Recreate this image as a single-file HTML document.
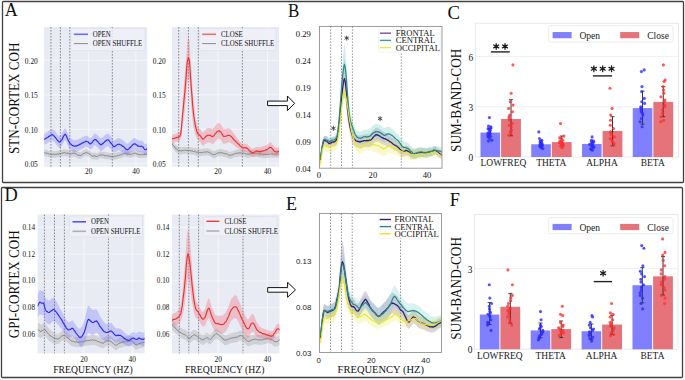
<!DOCTYPE html>
<html><head><meta charset="utf-8"><title>Figure</title>
<style>html,body{margin:0;padding:0;background:#fff;} body{width:685px;height:380px;overflow:hidden;font-family:"Liberation Serif", serif;}</style>
</head><body>
<svg width="685" height="380" viewBox="0 0 685 380" style="display:block">
<rect x="0" y="0" width="685" height="380" fill="#fff"/>
<defs>
<clipPath id="cA1"><rect x="44.1" y="27" width="103.20000000000002" height="139.6"/></clipPath>
<clipPath id="cA2"><rect x="172" y="27" width="107" height="139.6"/></clipPath>
<clipPath id="cB"><rect x="319.5" y="26.4" width="122.5" height="141.79999999999998"/></clipPath>
<clipPath id="cD1"><rect x="37.6" y="214.5" width="106.9" height="138.89999999999998"/></clipPath>
<clipPath id="cD2"><rect x="172" y="214.6" width="107.5" height="138.79999999999998"/></clipPath>
<clipPath id="cE"><rect x="319.5" y="213.5" width="122.0" height="139.0"/></clipPath>
</defs>
<rect x="2.5" y="1.5" width="681" height="181" fill="none" stroke="#404040" stroke-width="1.3" rx="1"/>
<rect x="1.5" y="187.5" width="681" height="190" fill="none" stroke="#404040" stroke-width="1.3" rx="1"/>
<text x="4.70" y="15.90" font-size="18.0" text-anchor="start" font-family='"Liberation Serif", serif' fill="#111" >A</text>
<text transform="translate(287.90 17.20) rotate(0) scale(0.94 1)" x="0" y="0" font-size="18.0" text-anchor="start" font-family='"Liberation Serif", serif' fill="#111" >B</text>
<text transform="translate(447.40 18.60) rotate(0) scale(1.03 1)" x="0" y="0" font-size="18.2" text-anchor="start" font-family='"Liberation Serif", serif' fill="#111" >C</text>
<text transform="translate(4.40 201.40) rotate(0) scale(1.02 1)" x="0" y="0" font-size="18.0" text-anchor="start" font-family='"Liberation Serif", serif' fill="#111" >D</text>
<text x="285.90" y="209.70" font-size="18.0" text-anchor="start" font-family='"Liberation Serif", serif' fill="#111" >E</text>
<text x="449.70" y="206.10" font-size="18.2" text-anchor="start" font-family='"Liberation Serif", serif' fill="#111" >F</text>
<rect x="44.1" y="27" width="103.20000000000002" height="139.6" fill="#e9ebf4"/>
<line x1="44.1" y1="163.8" x2="147.3" y2="163.8" stroke="#fff" stroke-opacity="0.75" stroke-width="0.8"/>
<line x1="44.1" y1="129.3" x2="147.3" y2="129.3" stroke="#fff" stroke-opacity="0.75" stroke-width="0.8"/>
<line x1="44.1" y1="94.80000000000003" x2="147.3" y2="94.80000000000003" stroke="#fff" stroke-opacity="0.75" stroke-width="0.8"/>
<line x1="44.1" y1="60.3" x2="147.3" y2="60.3" stroke="#fff" stroke-opacity="0.75" stroke-width="0.8"/>
<line x1="88.69999999999999" y1="27" x2="88.69999999999999" y2="166.6" stroke="#fff" stroke-opacity="0.75" stroke-width="0.8"/>
<line x1="135.89999999999998" y1="27" x2="135.89999999999998" y2="166.6" stroke="#fff" stroke-opacity="0.75" stroke-width="0.8"/>
<line x1="50.94" y1="27" x2="50.94" y2="166.6" stroke="#5c5c5c" stroke-width="0.7" stroke-dasharray="1.6,1.4"/>
<line x1="60.379999999999995" y1="27" x2="60.379999999999995" y2="166.6" stroke="#5c5c5c" stroke-width="0.7" stroke-dasharray="1.6,1.4"/>
<line x1="69.82" y1="27" x2="69.82" y2="166.6" stroke="#5c5c5c" stroke-width="0.7" stroke-dasharray="1.6,1.4"/>
<line x1="112.3" y1="27" x2="112.3" y2="166.6" stroke="#5c5c5c" stroke-width="0.7" stroke-dasharray="1.6,1.4"/>
<polygon points="44.1,149.1 44.5,149.4 44.9,149.4 45.4,149.8 46.0,149.9 46.6,149.7 47.3,149.9 48.0,150.7 48.7,150.4 49.4,150.6 50.1,151.3 50.8,151.0 51.5,151.3 52.1,151.1 52.8,151.2 53.4,150.9 54.1,151.2 54.8,151.3 55.5,151.0 56.2,151.1 56.9,151.0 57.5,150.5 58.2,150.9 58.7,150.7 59.3,150.4 59.8,150.2 60.7,150.6 61.4,150.0 62.0,149.9 62.5,149.8 63.1,149.5 63.9,149.6 64.5,149.3 65.1,149.6 65.7,149.5 66.4,150.0 67.1,150.1 67.9,149.8 68.5,149.9 69.2,150.1 69.8,150.8 70.4,150.5 71.2,150.6 71.9,150.2 72.6,150.1 73.2,149.9 73.9,149.8 74.6,150.0 75.2,150.1 75.8,150.6 76.4,150.8 77.1,151.4 77.8,151.7 78.5,152.1 79.2,152.1 79.9,151.8 80.5,152.2 81.2,152.0 81.8,151.6 82.5,151.0 83.2,150.7 83.9,150.0 84.6,150.1 85.2,149.6 85.9,149.2 86.5,149.0 87.2,149.7 87.9,150.0 88.6,149.8 89.3,150.8 89.9,151.0 90.5,151.3 91.2,151.9 91.8,152.5 92.5,152.8 93.2,152.4 93.8,152.9 94.5,152.6 95.1,153.1 95.8,152.8 96.5,153.2 97.1,153.2 97.6,152.7 98.1,152.9 98.7,152.2 99.3,151.8 99.9,152.0 100.7,151.5 101.6,151.6 102.1,151.8 102.6,151.9 103.2,151.7 103.8,151.7 104.5,152.3 105.1,152.0 105.8,152.6 106.5,152.6 107.2,152.4 107.9,152.6 108.6,152.7 109.2,152.9 109.9,152.9 110.5,153.0 111.1,153.1 111.6,153.4 112.1,153.1 113.0,153.1 113.7,153.3 114.4,152.9 114.9,152.9 115.5,153.3 116.0,152.8 116.6,152.7 117.4,152.2 117.9,152.3 118.5,152.3 119.1,151.7 119.7,151.9 120.4,151.6 121.0,151.0 121.7,151.2 122.3,150.8 123.0,150.8 123.6,150.3 124.2,150.4 124.8,150.3 125.3,149.8 126.1,149.8 126.8,150.3 127.5,150.7 128.1,150.4 128.8,150.8 129.3,151.1 129.9,151.0 130.5,151.1 131.2,151.0 131.9,150.7 132.5,150.6 133.1,150.1 133.8,149.9 134.5,150.1 135.1,149.6 135.7,150.2 136.3,150.5 136.9,150.5 137.5,150.7 138.2,151.3 138.9,151.1 139.7,151.2 140.3,151.4 140.9,151.6 141.6,151.1 142.3,151.2 143.1,151.2 143.8,151.5 144.6,151.1 145.2,151.4 145.9,150.8 146.4,150.9 146.9,151.0 147.3,151.2 147.3,157.8 146.9,157.6 146.4,157.5 145.9,157.4 145.2,158.0 144.6,157.7 143.8,158.1 143.1,157.8 142.3,157.8 141.6,157.7 140.9,158.2 140.3,158.0 139.7,157.8 138.9,157.7 138.2,157.9 137.5,157.3 136.9,157.1 136.3,157.1 135.7,156.8 135.1,156.2 134.5,156.7 133.8,156.5 133.1,156.7 132.5,157.2 131.9,157.3 131.2,157.6 130.5,157.7 129.9,157.6 129.3,157.7 128.8,157.4 128.1,157.0 127.5,157.3 126.8,156.9 126.1,156.4 125.3,156.4 124.8,156.9 124.2,157.0 123.6,156.9 123.0,157.4 122.3,157.4 121.7,157.8 121.0,157.6 120.4,158.2 119.7,158.5 119.1,158.3 118.5,158.9 117.9,158.9 117.4,158.8 116.6,159.3 116.0,159.4 115.5,159.9 114.9,159.5 114.4,159.5 113.7,159.9 113.0,159.7 112.1,159.7 111.6,160.0 111.1,159.7 110.5,159.6 109.9,159.5 109.2,159.5 108.6,159.3 107.9,159.2 107.2,159.0 106.5,159.2 105.8,159.2 105.1,158.6 104.5,158.9 103.8,158.3 103.2,158.3 102.6,158.5 102.1,158.4 101.6,158.2 100.7,158.1 99.9,158.6 99.3,158.4 98.7,158.8 98.1,159.5 97.6,159.3 97.1,159.8 96.5,159.8 95.8,159.4 95.1,159.7 94.5,159.2 93.8,159.5 93.2,159.0 92.5,159.4 91.8,159.1 91.2,158.5 90.5,157.9 89.9,157.6 89.3,157.4 88.6,156.4 87.9,156.6 87.2,156.3 86.5,155.6 85.9,155.8 85.2,156.2 84.6,156.7 83.9,156.6 83.2,157.3 82.5,157.6 81.8,158.2 81.2,158.6 80.5,158.8 79.9,158.4 79.2,158.7 78.5,158.7 77.8,158.3 77.1,158.0 76.4,157.4 75.8,157.2 75.2,156.7 74.6,156.6 73.9,156.4 73.2,156.5 72.6,156.7 71.9,156.8 71.2,157.2 70.4,157.1 69.8,157.4 69.2,156.7 68.5,156.5 67.9,156.4 67.1,156.7 66.4,156.6 65.7,156.1 65.1,156.2 64.5,155.9 63.9,156.2 63.1,156.1 62.5,156.4 62.0,156.5 61.4,156.6 60.7,157.2 59.8,156.8 59.3,157.0 58.7,157.3 58.2,157.5 57.5,157.1 56.9,157.6 56.2,157.7 55.5,157.6 54.8,157.9 54.1,157.8 53.4,157.5 52.8,157.8 52.1,157.7 51.5,157.9 50.8,157.6 50.1,157.9 49.4,157.2 48.7,157.0 48.0,157.3 47.3,156.5 46.6,156.3 46.0,156.5 45.4,156.4 44.9,156.0 44.5,156.0 44.1,155.7" fill="rgba(160,160,160,0.35)" stroke="none" clip-path="url(#cA1)"/>
<polyline points="44.1,152.4 44.5,152.7 44.9,152.7 45.4,153.1 46.0,153.2 46.6,153.0 47.3,153.2 48.0,154.0 48.7,153.7 49.4,153.9 50.1,154.6 50.8,154.3 51.5,154.6 52.1,154.4 52.8,154.5 53.4,154.2 54.1,154.5 54.8,154.6 55.5,154.3 56.2,154.4 56.9,154.3 57.5,153.8 58.2,154.2 58.7,154.0 59.3,153.7 59.8,153.5 60.7,153.9 61.4,153.3 62.0,153.2 62.5,153.1 63.1,152.8 63.9,152.9 64.5,152.6 65.1,152.9 65.7,152.8 66.4,153.3 67.1,153.4 67.9,153.1 68.5,153.2 69.2,153.4 69.8,154.1 70.4,153.8 71.2,153.9 71.9,153.5 72.6,153.4 73.2,153.2 73.9,153.1 74.6,153.3 75.2,153.4 75.8,153.9 76.4,154.1 77.1,154.7 77.8,155.0 78.5,155.4 79.2,155.4 79.9,155.1 80.5,155.5 81.2,155.3 81.8,154.9 82.5,154.3 83.2,154.0 83.9,153.3 84.6,153.4 85.2,152.9 85.9,152.5 86.5,152.3 87.2,153.0 87.9,153.3 88.6,153.1 89.3,154.1 89.9,154.3 90.5,154.6 91.2,155.2 91.8,155.8 92.5,156.1 93.2,155.7 93.8,156.2 94.5,155.9 95.1,156.4 95.8,156.1 96.5,156.5 97.1,156.5 97.6,156.0 98.1,156.2 98.7,155.5 99.3,155.1 99.9,155.3 100.7,154.8 101.6,154.9 102.1,155.1 102.6,155.2 103.2,155.0 103.8,155.0 104.5,155.6 105.1,155.3 105.8,155.9 106.5,155.9 107.2,155.7 107.9,155.9 108.6,156.0 109.2,156.2 109.9,156.2 110.5,156.3 111.1,156.4 111.6,156.7 112.1,156.4 113.0,156.4 113.7,156.6 114.4,156.2 114.9,156.2 115.5,156.6 116.0,156.1 116.6,156.0 117.4,155.5 117.9,155.6 118.5,155.6 119.1,155.0 119.7,155.2 120.4,154.9 121.0,154.3 121.7,154.5 122.3,154.1 123.0,154.1 123.6,153.6 124.2,153.7 124.8,153.6 125.3,153.1 126.1,153.1 126.8,153.6 127.5,154.0 128.1,153.7 128.8,154.1 129.3,154.4 129.9,154.3 130.5,154.4 131.2,154.3 131.9,154.0 132.5,153.9 133.1,153.4 133.8,153.2 134.5,153.4 135.1,152.9 135.7,153.5 136.3,153.8 136.9,153.8 137.5,154.0 138.2,154.6 138.9,154.4 139.7,154.5 140.3,154.7 140.9,154.9 141.6,154.4 142.3,154.5 143.1,154.5 143.8,154.8 144.6,154.4 145.2,154.7 145.9,154.1 146.4,154.2 146.9,154.3 147.3,154.5" fill="none" stroke="#7c7c7c" stroke-width="0.9" stroke-linejoin="round" clip-path="url(#cA1)"/>
<polygon points="44.1,134.1 44.5,133.7 45.1,133.2 45.7,133.0 46.5,132.3 47.2,132.2 47.9,131.8 48.5,131.0 49.1,130.6 49.7,130.4 50.3,129.9 50.9,129.6 51.5,129.1 52.1,128.9 52.8,129.2 53.5,130.0 54.2,130.4 54.9,131.2 55.6,132.0 56.2,132.7 56.8,133.5 57.4,134.7 58.0,135.0 58.6,135.5 59.2,136.3 59.8,136.1 60.4,135.7 61.0,134.7 61.6,134.2 62.2,133.3 62.9,131.6 63.6,130.2 64.4,128.9 65.1,128.3 65.7,128.8 66.3,129.8 66.9,131.3 67.5,132.8 68.1,133.9 68.8,135.5 69.4,136.4 70.1,137.7 71.0,138.0 71.6,139.0 72.3,139.2 73.0,139.7 73.7,139.9 74.4,140.2 75.1,140.1 75.8,139.8 76.5,140.2 77.1,139.7 77.7,139.5 78.4,139.3 79.1,138.9 79.9,138.4 80.5,138.5 81.1,138.0 81.8,137.4 82.5,137.0 83.2,137.0 83.9,136.5 84.6,136.3 85.3,135.8 85.9,135.6 86.5,135.7 87.3,136.1 88.0,136.2 88.7,137.2 89.3,137.9 89.9,138.3 90.6,138.3 91.2,137.5 91.9,137.1 92.5,136.4 93.2,135.0 93.9,134.3 94.6,133.7 95.3,133.6 95.9,133.7 96.5,134.1 97.1,134.9 97.7,135.2 98.3,135.9 98.9,136.7 99.6,137.3 100.2,137.7 100.9,138.4 101.5,138.2 102.2,137.4 102.9,137.2 103.6,136.5 104.3,135.8 105.0,135.1 105.6,134.7 106.3,134.1 106.9,133.7 107.5,133.4 108.3,133.7 109.0,134.2 109.7,135.2 110.4,136.1 111.0,136.8 111.6,137.5 112.1,138.1 112.9,139.3 113.3,140.2 114.1,140.5 114.6,140.1 115.2,140.0 115.9,139.5 116.6,138.9 117.3,138.4 118.0,138.1 118.7,138.2 119.4,138.1 120.0,138.5 120.7,138.7 121.3,139.0 122.0,139.7 122.6,140.2 123.3,140.3 123.9,140.9 124.6,141.5 125.2,142.4 125.8,143.0 126.5,143.2 127.2,143.8 127.9,143.7 128.5,143.1 129.1,142.7 129.8,141.8 130.5,141.4 131.2,140.5 131.9,139.8 132.6,139.1 133.2,138.5 133.8,138.2 134.5,138.1 135.2,138.0 135.9,138.7 136.5,138.9 137.2,139.6 137.8,140.4 138.4,140.3 139.1,140.5 139.8,140.5 140.5,141.0 141.2,140.5 141.8,140.5 142.4,141.2 143.2,141.4 143.8,142.7 144.4,143.5 145.0,144.1 145.9,144.2 146.7,143.5 147.3,143.3 147.3,154.3 146.7,154.5 145.9,155.2 145.0,155.3 144.4,154.7 143.8,153.9 143.2,152.6 142.4,152.4 141.8,151.8 141.2,151.8 140.5,152.3 139.8,151.9 139.1,151.9 138.4,151.8 137.8,151.9 137.2,151.1 136.5,150.5 135.9,150.3 135.2,149.6 134.5,149.7 133.8,149.9 133.2,150.2 132.6,150.8 131.9,151.6 131.2,152.3 130.5,153.3 129.8,153.7 129.1,154.6 128.5,155.1 127.9,155.7 127.2,155.8 126.5,155.2 125.8,155.1 125.2,154.5 124.6,153.7 123.9,153.1 123.3,152.4 122.6,152.4 122.0,151.9 121.3,151.3 120.7,151.0 120.0,150.8 119.4,150.4 118.7,150.5 118.0,150.5 117.3,150.8 116.6,151.3 115.9,151.9 115.2,152.5 114.6,152.6 114.1,153.0 113.3,152.7 112.9,151.8 112.1,150.7 111.6,150.0 111.0,149.4 110.4,148.8 109.7,147.8 109.0,146.8 108.3,146.4 107.5,146.2 106.9,146.4 106.3,146.9 105.6,147.5 105.0,148.0 104.3,148.6 103.6,149.3 102.9,150.1 102.2,150.4 101.5,151.2 100.9,151.4 100.2,150.7 99.6,150.2 98.9,149.5 98.3,148.6 97.7,147.7 97.1,147.3 96.5,146.4 95.9,145.9 95.3,145.6 94.6,145.6 93.9,146.0 93.2,146.6 92.5,147.9 91.9,148.5 91.2,148.7 90.6,149.5 89.9,149.3 89.3,149.0 88.7,148.3 88.0,147.3 87.3,147.2 86.5,146.9 85.9,146.8 85.3,147.1 84.6,147.7 83.9,147.9 83.2,148.5 82.5,148.5 81.8,149.0 81.1,149.6 80.5,150.1 79.9,150.1 79.1,150.6 78.4,151.1 77.7,151.3 77.1,151.5 76.5,152.1 75.8,151.8 75.1,152.1 74.4,152.2 73.7,151.9 73.0,151.7 72.3,151.2 71.6,151.0 71.0,150.0 70.1,149.7 69.4,148.4 68.8,147.5 68.1,145.9 67.5,144.8 66.9,143.3 66.3,141.8 65.7,140.8 65.1,140.3 64.4,140.9 63.6,142.2 62.9,143.5 62.2,145.2 61.6,146.0 61.0,146.5 60.4,147.5 59.8,147.9 59.2,148.0 58.6,147.2 58.0,146.6 57.4,146.3 56.8,145.1 56.2,144.2 55.6,143.5 54.9,142.7 54.2,141.9 53.5,141.5 52.8,140.6 52.1,140.3 51.5,140.4 50.9,140.9 50.3,141.2 49.7,141.7 49.1,141.8 48.5,142.2 47.9,143.0 47.2,143.4 46.5,143.5 45.7,144.1 45.1,144.3 44.5,144.7 44.1,145.1" fill="rgba(105,105,255,0.29)" stroke="none" clip-path="url(#cA1)"/>
<polyline points="44.1,139.6 44.5,139.2 45.1,138.8 45.7,138.6 46.5,137.9 47.2,137.8 47.9,137.4 48.5,136.6 49.1,136.2 49.7,136.1 50.3,135.5 50.9,135.3 51.5,134.8 52.1,134.6 52.8,134.9 53.5,135.7 54.2,136.1 54.9,137.0 55.6,137.8 56.2,138.5 56.8,139.3 57.4,140.5 58.0,140.8 58.6,141.3 59.2,142.2 59.8,142.0 60.4,141.6 61.0,140.6 61.6,140.1 62.2,139.3 62.9,137.5 63.6,136.2 64.4,134.9 65.1,134.3 65.7,134.8 66.3,135.8 66.9,137.3 67.5,138.8 68.1,139.9 68.8,141.5 69.4,142.4 70.1,143.7 71.0,144.0 71.6,145.0 72.3,145.2 73.0,145.7 73.7,145.9 74.4,146.2 75.1,146.1 75.8,145.8 76.5,146.2 77.1,145.6 77.7,145.4 78.4,145.2 79.1,144.7 79.9,144.2 80.5,144.3 81.1,143.8 81.8,143.2 82.5,142.8 83.2,142.8 83.9,142.2 84.6,142.0 85.3,141.5 85.9,141.2 86.5,141.3 87.3,141.7 88.0,141.7 88.7,142.7 89.3,143.4 89.9,143.8 90.6,143.9 91.2,143.1 91.9,142.8 92.5,142.1 93.2,140.8 93.9,140.2 94.6,139.6 95.3,139.6 95.9,139.8 96.5,140.3 97.1,141.1 97.7,141.4 98.3,142.3 98.9,143.1 99.6,143.7 100.2,144.2 100.9,144.9 101.5,144.7 102.2,143.9 102.9,143.6 103.6,142.9 104.3,142.2 105.0,141.5 105.6,141.1 106.3,140.5 106.9,140.0 107.5,139.8 108.3,140.1 109.0,140.5 109.7,141.5 110.4,142.5 111.0,143.1 111.6,143.7 112.1,144.4 112.9,145.5 113.3,146.4 114.1,146.8 114.6,146.4 115.2,146.3 115.9,145.7 116.6,145.1 117.3,144.6 118.0,144.3 118.7,144.3 119.4,144.2 120.0,144.6 120.7,144.8 121.3,145.1 122.0,145.8 122.6,146.3 123.3,146.3 123.9,147.0 124.6,147.6 125.2,148.5 125.8,149.1 126.5,149.2 127.2,149.8 127.9,149.7 128.5,149.1 129.1,148.7 129.8,147.7 130.5,147.3 131.2,146.4 131.9,145.7 132.6,144.9 133.2,144.3 133.8,144.0 134.5,143.9 135.2,143.8 135.9,144.5 136.5,144.7 137.2,145.3 137.8,146.2 138.4,146.0 139.1,146.2 139.8,146.2 140.5,146.6 141.2,146.2 141.8,146.1 142.4,146.8 143.2,147.0 143.8,148.3 144.4,149.1 145.0,149.7 145.9,149.7 146.7,149.0 147.3,148.8" fill="none" stroke="#2a2af2" stroke-width="1.15" stroke-linejoin="round" clip-path="url(#cA1)"/>
<rect x="71" y="28.4" width="74.19999999999999" height="22.200000000000003" rx="1.5" fill="#eef0f7" fill-opacity="0.85" stroke="#dcdee8" stroke-width="0.6"/>
<line x1="73.8" y1="34.3" x2="88" y2="34.3" stroke="#6a6aff" stroke-width="1.6"/>
<text transform="translate(92.80 36.90) rotate(0) scale(0.925 1)" x="0" y="0" font-size="7.452000000000001" text-anchor="start" font-family='"Liberation Serif", serif' fill="#111" >OPEN</text>
<line x1="73.8" y1="43.6" x2="88" y2="43.6" stroke="#8c8c8c" stroke-width="1.0"/>
<text transform="translate(92.80 46.20) rotate(0) scale(0.925 1)" x="0" y="0" font-size="7.452000000000001" text-anchor="start" font-family='"Liberation Serif", serif' fill="#111" >OPEN SHUFFLE</text>
<text x="37.80" y="167.10" font-size="7.4" text-anchor="end" font-family='"Liberation Serif", serif' fill="#111" >0.05</text>
<text x="37.80" y="132.60" font-size="7.4" text-anchor="end" font-family='"Liberation Serif", serif' fill="#111" >0.10</text>
<text x="37.80" y="98.10" font-size="7.4" text-anchor="end" font-family='"Liberation Serif", serif' fill="#111" >0.15</text>
<text x="37.80" y="63.60" font-size="7.4" text-anchor="end" font-family='"Liberation Serif", serif' fill="#111" >0.20</text>
<text x="88.70" y="174.10" font-size="7.4" text-anchor="middle" font-family='"Liberation Serif", serif' fill="#111" >20</text>
<text x="135.90" y="174.10" font-size="7.4" text-anchor="middle" font-family='"Liberation Serif", serif' fill="#111" >40</text>
<rect x="172" y="27" width="107" height="139.6" fill="#e9ebf4"/>
<line x1="172" y1="163.8" x2="279" y2="163.8" stroke="#fff" stroke-opacity="0.75" stroke-width="0.8"/>
<line x1="172" y1="129.3" x2="279" y2="129.3" stroke="#fff" stroke-opacity="0.75" stroke-width="0.8"/>
<line x1="172" y1="94.80000000000003" x2="279" y2="94.80000000000003" stroke="#fff" stroke-opacity="0.75" stroke-width="0.8"/>
<line x1="172" y1="60.3" x2="279" y2="60.3" stroke="#fff" stroke-opacity="0.75" stroke-width="0.8"/>
<line x1="218.0" y1="27" x2="218.0" y2="166.6" stroke="#fff" stroke-opacity="0.75" stroke-width="0.8"/>
<line x1="267.6" y1="27" x2="267.6" y2="166.6" stroke="#fff" stroke-opacity="0.75" stroke-width="0.8"/>
<line x1="178.7" y1="27" x2="178.7" y2="166.6" stroke="#5c5c5c" stroke-width="0.7" stroke-dasharray="1.6,1.4"/>
<line x1="188.4" y1="27" x2="188.4" y2="166.6" stroke="#5c5c5c" stroke-width="0.7" stroke-dasharray="1.6,1.4"/>
<line x1="198.3" y1="27" x2="198.3" y2="166.6" stroke="#5c5c5c" stroke-width="0.7" stroke-dasharray="1.6,1.4"/>
<line x1="242.4" y1="27" x2="242.4" y2="166.6" stroke="#5c5c5c" stroke-width="0.7" stroke-dasharray="1.6,1.4"/>
<polygon points="172.0,139.8 172.4,140.8 173.0,141.4 173.7,142.5 174.5,143.0 175.2,144.4 175.9,145.2 176.6,145.3 177.3,146.0 178.0,146.6 178.7,147.2 179.5,147.0 180.1,147.1 180.8,147.1 181.4,147.3 182.1,147.3 182.8,146.9 183.5,146.8 184.2,146.7 184.8,146.7 185.4,146.7 186.0,146.4 186.6,146.7 187.2,147.0 187.8,146.7 188.4,146.9 189.0,146.6 189.7,147.0 190.3,147.2 190.9,147.2 191.6,147.2 192.2,147.4 192.9,147.6 193.7,148.0 194.3,147.6 194.9,147.7 195.5,148.3 196.2,148.6 196.9,148.5 197.5,148.6 198.2,149.0 198.8,148.7 199.4,148.9 200.0,148.9 200.7,149.2 201.4,148.9 202.0,148.7 202.6,148.9 203.1,148.9 203.7,148.3 204.3,148.5 204.9,148.3 205.5,148.6 206.1,148.4 206.8,148.2 207.4,148.2 208.0,148.2 208.7,148.7 209.3,148.8 209.9,149.0 210.5,149.5 211.2,149.9 211.8,150.5 212.4,150.4 213.1,151.2 213.7,151.0 214.3,151.0 215.0,150.7 215.6,150.7 216.2,150.4 216.8,149.8 217.5,149.5 218.1,149.4 218.8,149.3 219.4,149.0 220.0,149.2 220.7,149.4 221.3,149.1 222.0,149.1 222.6,149.2 223.3,149.7 224.0,149.8 224.6,150.1 225.2,150.2 225.9,150.0 226.5,150.2 227.2,150.6 227.8,150.8 228.5,151.4 229.1,151.7 229.8,151.8 230.4,151.4 231.0,151.8 231.7,151.3 232.3,151.2 233.0,151.1 233.6,150.4 234.3,150.1 234.9,150.4 235.6,149.8 236.2,149.7 236.8,149.7 237.5,149.7 238.1,149.2 238.8,149.4 239.4,149.4 240.1,149.4 240.7,149.2 241.4,149.5 242.0,149.8 242.6,149.5 243.3,149.7 243.9,149.5 244.6,149.8 245.2,150.2 245.9,150.0 246.5,150.7 247.2,150.8 247.8,150.2 248.4,150.8 249.1,150.3 249.7,150.4 250.3,150.3 251.0,149.8 251.6,149.9 252.2,149.8 252.9,149.8 253.5,149.3 254.1,149.7 254.8,149.8 255.4,149.7 256.1,149.7 256.7,149.5 257.4,149.8 258.0,149.8 258.7,150.2 259.3,150.2 259.9,150.2 260.6,150.1 261.2,150.5 261.9,150.6 262.5,150.5 263.2,151.1 263.8,151.0 264.5,150.7 265.1,151.3 265.7,150.8 266.3,150.9 266.9,151.1 267.6,150.9 268.2,150.8 268.8,150.8 269.5,150.6 270.2,150.4 270.9,150.3 271.5,150.2 272.1,150.6 272.8,150.6 273.5,150.5 274.2,150.6 274.9,150.4 275.7,150.3 276.4,150.4 277.0,150.7 277.6,150.2 278.2,150.5 278.6,150.3 279.0,150.7 279.0,157.9 278.6,157.5 278.2,157.7 277.6,157.4 277.0,157.9 276.4,157.6 275.7,157.5 274.9,157.6 274.2,157.8 273.5,157.7 272.8,157.8 272.1,157.8 271.5,157.4 270.9,157.5 270.2,157.6 269.5,157.8 268.8,158.0 268.2,158.0 267.6,158.1 266.9,158.3 266.3,158.1 265.7,158.0 265.1,158.5 264.5,157.9 263.8,158.2 263.2,158.3 262.5,157.7 261.9,157.8 261.2,157.7 260.6,157.3 259.9,157.4 259.3,157.4 258.7,157.4 258.0,157.0 257.4,157.0 256.7,156.7 256.1,156.9 255.4,156.9 254.8,157.0 254.1,156.9 253.5,156.5 252.9,157.0 252.2,157.0 251.6,157.1 251.0,157.0 250.3,157.5 249.7,157.6 249.1,157.5 248.4,158.0 247.8,157.4 247.2,158.0 246.5,157.9 245.9,157.2 245.2,157.4 244.6,157.0 243.9,156.7 243.3,156.9 242.6,156.7 242.0,157.0 241.4,156.7 240.7,156.4 240.1,156.6 239.4,156.6 238.8,156.6 238.1,156.4 237.5,156.9 236.8,156.9 236.2,156.9 235.6,157.0 234.9,157.6 234.3,157.3 233.6,157.6 233.0,158.3 232.3,158.4 231.7,158.5 231.0,159.0 230.4,158.6 229.8,159.0 229.1,158.9 228.5,158.6 227.8,158.0 227.2,157.8 226.5,157.4 225.9,157.2 225.2,157.4 224.6,157.3 224.0,157.0 223.3,156.9 222.6,156.4 222.0,156.3 221.3,156.3 220.7,156.6 220.0,156.4 219.4,156.2 218.8,156.5 218.1,156.6 217.5,156.7 216.8,157.0 216.2,157.6 215.6,157.9 215.0,157.9 214.3,158.2 213.7,158.2 213.1,158.4 212.4,157.6 211.8,157.7 211.2,157.1 210.5,156.7 209.9,156.2 209.3,156.0 208.7,155.9 208.0,155.4 207.4,155.4 206.8,155.4 206.1,155.6 205.5,155.8 204.9,155.5 204.3,155.7 203.7,155.5 203.1,156.1 202.6,156.1 202.0,155.9 201.4,156.1 200.7,156.4 200.0,156.1 199.4,156.1 198.8,155.9 198.2,156.2 197.5,155.8 196.9,155.7 196.2,155.8 195.5,155.5 194.9,154.9 194.3,154.8 193.7,155.2 192.9,154.8 192.2,154.6 191.6,154.4 190.9,154.4 190.3,154.4 189.7,154.2 189.0,153.8 188.4,154.1 187.8,153.9 187.2,154.2 186.6,153.9 186.0,153.6 185.4,153.9 184.8,153.9 184.2,153.9 183.5,154.0 182.8,154.1 182.1,154.5 181.4,154.5 180.8,154.3 180.1,154.3 179.5,154.2 178.7,154.4 178.0,153.8 177.3,153.2 176.6,152.5 175.9,152.4 175.2,151.6 174.5,150.2 173.7,149.7 173.0,148.6 172.4,148.0 172.0,147.0" fill="rgba(160,160,160,0.35)" stroke="none" clip-path="url(#cA2)"/>
<polyline points="172.0,143.4 172.4,144.4 173.0,145.0 173.7,146.1 174.5,146.6 175.2,148.0 175.9,148.8 176.6,148.9 177.3,149.6 178.0,150.2 178.7,150.8 179.5,150.6 180.1,150.7 180.8,150.7 181.4,150.9 182.1,150.9 182.8,150.5 183.5,150.4 184.2,150.3 184.8,150.3 185.4,150.3 186.0,150.0 186.6,150.3 187.2,150.6 187.8,150.3 188.4,150.5 189.0,150.2 189.7,150.6 190.3,150.8 190.9,150.8 191.6,150.8 192.2,151.0 192.9,151.2 193.7,151.6 194.3,151.2 194.9,151.3 195.5,151.9 196.2,152.2 196.9,152.1 197.5,152.2 198.2,152.6 198.8,152.3 199.4,152.5 200.0,152.5 200.7,152.8 201.4,152.5 202.0,152.3 202.6,152.5 203.1,152.5 203.7,151.9 204.3,152.1 204.9,151.9 205.5,152.2 206.1,152.0 206.8,151.8 207.4,151.8 208.0,151.8 208.7,152.3 209.3,152.4 209.9,152.6 210.5,153.1 211.2,153.5 211.8,154.1 212.4,154.0 213.1,154.8 213.7,154.6 214.3,154.6 215.0,154.3 215.6,154.3 216.2,154.0 216.8,153.4 217.5,153.1 218.1,153.0 218.8,152.9 219.4,152.6 220.0,152.8 220.7,153.0 221.3,152.7 222.0,152.7 222.6,152.8 223.3,153.3 224.0,153.4 224.6,153.7 225.2,153.8 225.9,153.6 226.5,153.8 227.2,154.2 227.8,154.4 228.5,155.0 229.1,155.3 229.8,155.4 230.4,155.0 231.0,155.4 231.7,154.9 232.3,154.8 233.0,154.7 233.6,154.0 234.3,153.7 234.9,154.0 235.6,153.4 236.2,153.3 236.8,153.3 237.5,153.3 238.1,152.8 238.8,153.0 239.4,153.0 240.1,153.0 240.7,152.8 241.4,153.1 242.0,153.4 242.6,153.1 243.3,153.3 243.9,153.1 244.6,153.4 245.2,153.8 245.9,153.6 246.5,154.3 247.2,154.4 247.8,153.8 248.4,154.4 249.1,153.9 249.7,154.0 250.3,153.9 251.0,153.4 251.6,153.5 252.2,153.4 252.9,153.4 253.5,152.9 254.1,153.3 254.8,153.4 255.4,153.3 256.1,153.3 256.7,153.1 257.4,153.4 258.0,153.4 258.7,153.8 259.3,153.8 259.9,153.8 260.6,153.7 261.2,154.1 261.9,154.2 262.5,154.1 263.2,154.7 263.8,154.6 264.5,154.3 265.1,154.9 265.7,154.4 266.3,154.5 266.9,154.7 267.6,154.5 268.2,154.4 268.8,154.4 269.5,154.2 270.2,154.0 270.9,153.9 271.5,153.8 272.1,154.2 272.8,154.2 273.5,154.1 274.2,154.2 274.9,154.0 275.7,153.9 276.4,154.0 277.0,154.3 277.6,153.8 278.2,154.1 278.6,153.9 279.0,154.3" fill="none" stroke="#7c7c7c" stroke-width="0.9" stroke-linejoin="round" clip-path="url(#cA2)"/>
<polygon points="172.0,134.9 172.4,134.7 173.0,134.6 173.7,134.4 174.5,134.3 175.2,133.7 175.9,133.8 176.7,133.1 177.5,133.1 178.2,132.8 178.9,132.5 179.5,132.3 180.5,130.3 181.2,123.7 181.7,116.0 182.4,105.0 183.0,97.2 183.7,87.7 184.5,77.7 185.2,68.7 186.0,58.4 186.7,48.9 187.3,41.5 188.4,36.2 189.5,40.8 190.0,48.0 190.6,58.1 191.3,68.8 191.9,77.0 192.5,87.1 193.2,96.5 193.9,104.7 194.6,110.8 195.4,116.4 196.2,121.1 196.8,124.9 197.7,127.6 198.4,127.9 199.1,128.2 199.8,129.0 200.5,129.4 201.1,130.3 201.6,131.3 202.2,131.7 202.9,132.4 203.5,132.0 204.3,131.3 205.0,130.4 205.8,129.5 206.5,128.8 207.2,128.6 208.0,128.0 208.7,128.1 209.4,128.1 210.1,127.9 210.8,128.2 211.5,128.9 212.1,129.2 213.0,128.5 213.5,128.4 214.2,127.7 214.8,126.5 215.5,125.7 216.3,124.8 216.9,123.8 217.6,123.4 218.1,123.3 219.0,122.8 219.7,123.5 220.3,124.0 221.0,124.4 221.7,125.8 222.4,126.9 223.1,128.3 223.9,128.9 224.5,129.1 225.1,128.8 225.7,128.9 226.4,128.8 227.0,128.5 227.6,128.1 228.2,128.3 229.0,128.4 229.7,128.5 230.4,129.1 231.1,129.9 231.8,130.7 232.5,131.6 233.2,132.8 233.9,133.9 234.7,134.8 235.3,135.5 235.9,136.5 236.6,137.1 237.2,138.0 237.9,139.0 238.5,139.6 239.1,140.2 239.9,141.7 240.6,142.3 241.3,142.8 242.0,143.4 242.7,143.9 243.3,144.1 243.9,143.8 244.5,143.6 245.1,143.6 245.7,143.9 246.3,143.7 247.0,144.3 247.8,144.9 248.5,145.6 249.2,146.4 249.9,147.1 250.7,147.6 251.4,148.1 252.0,148.6 252.8,148.8 253.5,148.7 254.2,148.0 255.0,147.4 255.7,147.2 256.4,146.8 257.1,147.0 257.8,146.7 258.5,147.1 259.3,147.2 259.9,146.9 260.5,147.3 261.1,146.7 261.8,146.5 262.5,146.5 263.1,146.1 263.7,146.2 264.3,145.8 265.0,145.4 265.6,145.1 266.2,145.3 266.7,144.7 267.3,144.7 268.0,144.0 268.6,143.7 269.3,142.7 270.0,142.2 270.6,142.2 271.3,143.0 271.9,143.6 272.5,144.3 273.2,145.0 273.8,146.0 274.6,146.9 275.3,147.3 276.0,147.5 276.7,147.8 277.6,147.7 278.4,147.3 279.0,146.9 279.0,154.9 278.4,155.5 277.6,156.0 276.7,156.3 276.0,156.1 275.3,156.1 274.6,155.9 273.8,155.2 273.2,154.3 272.5,153.7 271.9,153.1 271.3,152.7 270.6,152.1 270.0,152.2 269.3,152.6 268.6,153.5 268.0,153.8 267.3,154.4 266.7,154.4 266.2,154.9 265.6,154.7 265.0,154.9 264.3,155.2 263.7,155.6 263.1,155.4 262.5,155.7 261.8,155.6 261.1,155.8 260.5,156.4 259.9,155.9 259.3,156.1 258.5,156.0 257.8,155.5 257.1,155.7 256.4,155.5 255.7,155.7 255.0,155.9 254.2,156.4 253.5,157.1 252.8,157.0 252.0,156.8 251.4,156.3 250.7,155.7 249.9,155.1 249.2,154.4 248.5,153.6 247.8,152.9 247.0,152.3 246.3,151.7 245.7,151.9 245.1,151.6 244.5,151.6 243.9,151.8 243.3,152.1 242.7,151.9 242.0,151.4 241.3,150.8 240.6,150.3 239.9,149.7 239.1,148.8 238.5,148.5 237.9,148.3 237.2,147.7 236.6,147.2 235.9,146.9 235.3,146.4 234.7,146.0 233.9,145.5 233.2,144.9 232.5,144.1 231.8,143.7 231.1,143.2 230.4,142.8 229.7,142.6 229.0,142.5 228.2,142.6 227.6,142.5 227.0,143.0 226.4,143.4 225.7,143.6 225.1,143.6 224.5,144.0 223.9,143.9 223.1,143.4 222.4,142.2 221.7,141.2 221.0,139.9 220.3,139.6 219.7,139.2 219.0,138.6 218.1,139.2 217.6,139.4 216.9,139.7 216.3,140.5 215.5,141.3 214.8,141.9 214.2,143.0 213.5,143.7 213.0,143.7 212.1,144.2 211.5,143.8 210.8,143.0 210.1,142.6 209.4,142.7 208.7,142.6 208.0,142.4 207.2,142.8 206.5,142.9 205.8,143.5 205.0,144.3 204.3,145.0 203.5,145.6 202.9,145.9 202.2,145.0 201.6,144.6 201.1,143.5 200.5,142.5 199.8,142.0 199.1,140.9 198.4,140.3 197.7,139.8 196.8,137.7 196.2,136.5 195.4,134.8 194.6,132.3 193.9,129.2 193.2,124.9 192.5,119.3 191.9,112.9 191.3,107.1 190.6,97.3 190.0,87.9 189.5,81.3 188.4,78.2 187.3,82.2 186.7,88.9 186.0,97.6 185.2,107.0 184.5,112.9 183.7,118.6 183.0,124.0 182.4,128.3 181.7,134.2 181.2,137.9 180.5,139.3 179.5,141.2 178.9,141.3 178.2,141.5 177.5,141.7 176.7,141.7 175.9,142.2 175.2,142.1 174.5,142.6 173.7,142.6 173.0,142.7 172.4,142.8 172.0,142.9" fill="rgba(238,90,105,0.3)" stroke="none" clip-path="url(#cA2)"/>
<polyline points="172.0,138.9 172.4,138.8 173.0,138.6 173.7,138.5 174.5,138.4 175.2,137.9 175.9,138.0 176.7,137.4 177.5,137.4 178.2,137.2 178.9,136.9 179.5,136.8 180.5,134.8 181.2,130.8 181.7,125.1 182.4,116.6 183.0,110.6 183.7,103.2 184.5,95.3 185.2,87.9 186.0,78.0 186.7,68.9 187.3,61.8 188.4,57.2 189.5,61.0 190.0,68.0 190.6,77.7 191.3,88.0 191.9,94.9 192.5,103.2 193.2,110.7 193.9,117.0 194.6,121.5 195.4,125.6 196.2,128.8 196.8,131.3 197.7,133.7 198.4,134.1 199.1,134.6 199.8,135.5 200.5,136.0 201.1,136.9 201.6,137.9 202.2,138.3 202.9,139.2 203.5,138.8 204.3,138.1 205.0,137.3 205.8,136.5 206.5,135.8 207.2,135.7 208.0,135.2 208.7,135.3 209.4,135.4 210.1,135.3 210.8,135.6 211.5,136.4 212.1,136.7 213.0,136.1 213.5,136.1 214.2,135.3 214.8,134.2 215.5,133.5 216.3,132.6 216.9,131.7 217.6,131.4 218.1,131.3 219.0,130.7 219.7,131.3 220.3,131.8 221.0,132.2 221.7,133.5 222.4,134.6 223.1,135.9 223.9,136.4 224.5,136.5 225.1,136.2 225.7,136.3 226.4,136.1 227.0,135.8 227.6,135.3 228.2,135.5 229.0,135.4 229.7,135.5 230.4,135.9 231.1,136.5 231.8,137.2 232.5,137.9 233.2,138.8 233.9,139.7 234.7,140.4 235.3,140.9 235.9,141.7 236.6,142.1 237.2,142.9 237.9,143.7 238.5,144.1 239.1,144.5 239.9,145.7 240.6,146.3 241.3,146.8 242.0,147.4 242.7,147.9 243.3,148.1 243.9,147.8 244.5,147.6 245.1,147.6 245.7,147.9 246.3,147.7 247.0,148.3 247.8,148.9 248.5,149.6 249.2,150.4 249.9,151.1 250.7,151.7 251.4,152.2 252.0,152.7 252.8,152.9 253.5,152.9 254.2,152.2 255.0,151.7 255.7,151.5 256.4,151.1 257.1,151.3 257.8,151.1 258.5,151.6 259.3,151.6 259.9,151.4 260.5,151.8 261.1,151.3 261.8,151.1 262.5,151.1 263.1,150.8 263.7,150.9 264.3,150.5 265.0,150.2 265.6,149.9 266.2,150.1 266.7,149.5 267.3,149.6 268.0,148.9 268.6,148.6 269.3,147.7 270.0,147.2 270.6,147.2 271.3,147.8 271.9,148.3 272.5,149.0 273.2,149.6 273.8,150.6 274.6,151.4 275.3,151.7 276.0,151.8 276.7,152.0 277.6,151.9 278.4,151.4 279.0,150.9" fill="none" stroke="#ee3030" stroke-width="1.15" stroke-linejoin="round" clip-path="url(#cA2)"/>
<rect x="199.7" y="28.4" width="76.5" height="22.200000000000003" rx="1.5" fill="#eef0f7" fill-opacity="0.85" stroke="#dcdee8" stroke-width="0.6"/>
<line x1="202.1" y1="34.3" x2="216" y2="34.3" stroke="#f07070" stroke-width="1.6"/>
<text transform="translate(221.00 36.90) rotate(0) scale(0.925 1)" x="0" y="0" font-size="7.452000000000001" text-anchor="start" font-family='"Liberation Serif", serif' fill="#111" >CLOSE</text>
<line x1="202.1" y1="43.6" x2="216" y2="43.6" stroke="#8c8c8c" stroke-width="1.0"/>
<text transform="translate(221.00 46.20) rotate(0) scale(0.925 1)" x="0" y="0" font-size="7.452000000000001" text-anchor="start" font-family='"Liberation Serif", serif' fill="#111" >CLOSE SHUFFLE</text>
<text x="165.70" y="167.10" font-size="7.4" text-anchor="end" font-family='"Liberation Serif", serif' fill="#111" >0.05</text>
<text x="165.70" y="132.60" font-size="7.4" text-anchor="end" font-family='"Liberation Serif", serif' fill="#111" >0.10</text>
<text x="165.70" y="98.10" font-size="7.4" text-anchor="end" font-family='"Liberation Serif", serif' fill="#111" >0.15</text>
<text x="165.70" y="63.60" font-size="7.4" text-anchor="end" font-family='"Liberation Serif", serif' fill="#111" >0.20</text>
<text x="218.00" y="174.10" font-size="7.4" text-anchor="middle" font-family='"Liberation Serif", serif' fill="#111" >20</text>
<text x="267.60" y="174.10" font-size="7.4" text-anchor="middle" font-family='"Liberation Serif", serif' fill="#111" >40</text>
<line x1="330.7" y1="26.4" x2="330.7" y2="168.2" stroke="#666" stroke-width="0.7" stroke-dasharray="1.5,1.5"/>
<line x1="341.5" y1="26.4" x2="341.5" y2="168.2" stroke="#666" stroke-width="0.7" stroke-dasharray="1.5,1.5"/>
<line x1="352.4" y1="26.4" x2="352.4" y2="168.2" stroke="#666" stroke-width="0.7" stroke-dasharray="1.5,1.5"/>
<line x1="401.3" y1="26.4" x2="401.3" y2="168.2" stroke="#666" stroke-width="0.7" stroke-dasharray="1.5,1.5"/>
<polygon points="320.4,156.6 321.5,148.2 322.1,144.5 322.7,139.9 323.5,137.3 324.1,135.9 324.9,135.8 325.6,135.9 326.3,136.2 327.0,136.1 327.6,137.1 328.3,138.1 329.0,138.7 329.7,138.3 330.3,138.2 331.0,138.2 331.8,137.5 332.4,137.5 333.0,137.3 333.7,137.4 334.4,137.3 335.0,136.6 335.5,136.2 336.2,134.8 336.8,133.4 337.3,130.7 337.9,127.1 338.6,121.9 339.2,116.4 339.8,110.1 340.4,102.9 341.0,94.9 341.8,83.3 342.7,72.9 343.3,67.2 343.9,61.9 344.5,59.1 345.4,65.1 346.2,74.8 346.8,85.3 347.5,97.5 348.1,103.4 348.8,110.4 349.5,116.0 350.2,120.0 350.9,123.0 351.6,125.7 352.3,128.3 353.0,130.0 353.7,131.7 354.4,132.9 355.0,133.6 355.8,134.7 356.5,135.1 357.2,135.1 357.9,135.4 358.7,135.3 359.4,135.6 360.0,135.9 360.6,135.2 361.2,135.3 361.7,134.9 362.4,134.7 363.0,134.8 363.6,134.5 364.2,134.3 364.8,134.2 365.5,134.5 366.1,134.3 366.7,133.9 367.3,133.9 367.9,134.2 368.5,133.6 369.1,133.7 369.7,133.5 370.3,133.4 371.0,132.9 371.6,132.5 372.2,131.8 372.8,130.8 373.5,130.1 374.2,129.2 374.8,129.0 375.4,128.0 376.0,127.6 376.7,128.1 377.3,127.7 377.9,128.4 378.4,128.3 379.0,128.9 379.6,129.1 380.2,129.9 380.8,130.2 381.5,130.6 382.1,131.1 382.7,131.6 383.3,131.7 384.0,132.2 384.7,132.5 385.5,132.6 386.2,133.3 386.9,133.6 387.5,134.1 388.1,134.2 388.7,134.9 389.3,135.3 389.9,136.0 390.5,136.1 391.1,136.7 391.7,137.3 392.3,137.5 392.9,138.3 393.5,138.9 394.1,139.2 394.8,139.8 395.6,140.2 396.3,140.5 397.0,141.1 397.7,142.0 398.4,142.3 399.0,143.2 399.6,143.8 400.2,144.6 400.8,145.1 401.5,146.1 402.1,146.3 402.7,146.5 403.4,146.7 404.0,146.4 404.7,146.3 405.3,145.8 406.0,145.5 406.6,145.7 407.3,145.9 407.9,146.3 408.6,146.5 409.2,147.2 409.8,147.5 410.5,148.5 411.1,149.0 411.8,149.1 412.5,149.7 413.2,149.4 413.8,149.4 414.5,149.8 415.1,149.4 415.7,149.2 416.4,149.0 417.1,148.3 417.7,148.6 418.3,148.2 418.9,148.2 419.5,148.1 420.2,148.3 420.8,148.2 421.4,148.0 422.0,147.9 422.6,148.2 423.3,148.3 423.9,148.2 424.5,148.3 425.1,148.6 425.7,148.6 426.4,148.7 427.0,148.7 427.6,148.5 428.2,148.2 428.8,148.0 429.4,148.1 430.0,148.2 430.6,148.2 431.2,148.1 431.8,147.9 432.5,147.8 433.1,147.0 433.7,146.6 434.4,146.5 435.0,146.3 435.6,146.2 436.3,146.6 436.9,147.5 437.5,147.6 438.2,148.3 438.8,149.0 439.5,149.6 440.2,150.0 440.9,150.4 441.4,151.0 441.8,151.7 441.8,159.7 441.4,159.0 440.9,158.5 440.2,158.0 439.5,157.7 438.8,157.2 438.2,156.5 437.5,155.8 436.9,155.7 436.3,154.9 435.6,154.5 435.0,154.6 434.4,154.8 433.7,155.0 433.1,155.4 432.5,156.3 431.8,156.4 431.2,156.6 430.6,156.7 430.0,156.8 429.4,156.7 428.8,156.7 428.2,156.8 427.6,157.2 427.0,157.4 426.4,157.4 425.7,157.4 425.1,157.4 424.5,157.1 423.9,157.0 423.3,157.2 422.6,157.1 422.0,156.9 421.4,157.0 420.8,157.3 420.2,157.3 419.5,157.2 418.9,157.3 418.3,157.4 417.7,157.8 417.1,157.5 416.4,158.2 415.7,158.4 415.1,158.6 414.5,159.1 413.8,158.8 413.2,158.8 412.5,159.1 411.8,158.5 411.1,158.5 410.5,158.0 409.8,157.0 409.2,156.7 408.6,156.1 407.9,155.9 407.3,155.6 406.6,155.4 406.0,155.2 405.3,155.5 404.7,156.1 404.0,156.2 403.4,156.5 402.7,156.4 402.1,156.2 401.5,156.0 400.8,155.1 400.2,154.6 399.6,153.8 399.0,153.3 398.4,152.6 397.7,152.4 397.0,151.5 396.3,151.1 395.6,151.0 394.8,150.7 394.1,150.1 393.5,150.0 392.9,149.5 392.3,148.8 391.7,148.7 391.1,148.2 390.5,147.6 389.9,147.6 389.3,147.1 388.7,146.7 388.1,146.2 387.5,146.2 386.9,145.7 386.2,145.6 385.5,145.0 384.7,145.0 384.0,144.9 383.3,144.5 382.7,144.5 382.1,144.1 381.5,143.7 380.8,143.3 380.2,143.2 379.6,142.5 379.0,142.4 378.4,141.9 377.9,142.1 377.3,141.5 376.7,142.0 376.0,141.6 375.4,142.0 374.8,142.9 374.2,143.1 373.5,143.8 372.8,144.5 372.2,145.4 371.6,146.1 371.0,146.4 370.3,146.9 369.7,146.9 369.1,147.1 368.5,146.9 367.9,147.4 367.3,147.0 366.7,146.9 366.1,147.3 365.5,147.4 364.8,147.1 364.2,147.1 363.6,147.2 363.0,147.5 362.4,147.3 361.7,147.4 361.2,147.9 360.6,147.7 360.0,148.3 359.4,147.9 358.7,147.6 357.9,147.6 357.2,147.2 356.5,147.1 355.8,146.8 355.0,146.1 354.4,145.8 353.7,145.1 353.0,143.7 352.3,142.4 351.6,140.2 350.9,137.9 350.2,135.4 349.5,131.7 348.8,127.6 348.1,124.2 347.5,121.2 346.8,112.6 346.2,105.1 345.4,99.6 344.5,98.1 343.9,97.9 343.3,100.0 342.7,102.7 341.8,108.8 341.0,116.0 340.4,121.0 339.8,125.8 339.2,131.3 338.6,135.9 337.9,140.2 337.3,142.9 336.8,144.9 336.2,145.6 335.5,145.9 335.0,145.6 334.4,146.4 333.7,146.5 333.0,146.6 332.4,146.8 331.8,146.8 331.0,147.7 330.3,147.7 329.7,147.9 329.0,148.4 328.3,147.8 327.6,146.9 327.0,146.0 326.3,146.1 325.6,145.7 324.9,145.2 324.1,145.0 323.5,146.1 322.7,148.3 322.1,152.5 321.5,156.0 320.4,163.8" fill="rgba(110,80,150,0.25)" stroke="none" clip-path="url(#cB)"/>
<polygon points="320.4,155.5 321.5,147.2 322.1,143.6 322.7,140.1 323.5,137.0 324.1,136.2 324.9,136.0 325.6,136.4 326.3,136.5 327.0,136.5 327.6,137.2 328.3,137.4 329.0,137.7 329.6,137.6 330.2,137.8 330.7,137.3 331.4,136.9 332.0,136.4 332.7,136.3 333.4,136.1 334.2,135.8 334.9,135.5 335.5,134.5 336.2,133.0 336.8,131.7 337.3,129.3 337.9,124.4 338.6,117.8 339.2,110.8 339.8,102.8 340.4,93.3 341.0,83.9 341.8,70.6 342.7,59.3 343.3,52.6 343.9,46.8 344.5,43.3 345.4,49.7 346.2,59.8 346.9,70.7 347.5,82.1 348.3,93.2 349.0,103.0 350.2,111.4 350.8,113.7 351.4,116.4 352.2,118.9 352.9,121.0 353.6,123.2 354.3,125.5 355.0,127.8 355.8,129.4 356.5,130.1 357.1,131.1 357.8,131.1 358.6,131.5 359.4,131.8 360.0,131.7 360.6,131.8 361.2,131.5 361.9,131.2 362.6,130.7 363.2,130.0 363.9,130.0 364.5,129.8 365.2,129.7 365.8,129.5 366.4,129.8 367.0,130.0 367.6,129.5 368.2,129.7 368.8,129.3 369.4,129.0 370.0,128.7 370.7,128.1 371.3,127.2 371.9,126.3 372.5,126.1 373.1,125.2 373.9,124.8 374.6,124.6 375.3,123.9 376.0,123.6 376.7,124.0 377.3,124.1 377.9,123.9 378.6,124.1 379.2,124.3 379.8,124.6 380.4,125.0 381.0,125.8 381.6,125.8 382.2,126.5 382.8,127.0 383.4,127.4 384.0,127.9 384.6,128.0 385.2,127.9 385.8,127.6 386.4,127.4 387.1,126.7 387.7,126.7 388.3,127.1 388.9,126.7 389.6,127.1 390.2,127.6 390.9,127.9 391.5,128.5 392.1,128.6 392.6,129.1 393.5,130.3 394.2,130.6 395.0,131.9 395.6,132.0 396.3,133.1 396.9,133.5 397.6,134.0 398.2,134.4 398.9,135.3 399.5,136.8 400.2,137.4 400.8,138.4 401.4,139.5 402.1,140.3 402.7,140.5 403.4,141.5 404.0,141.6 404.7,141.7 405.4,141.7 406.0,142.0 406.6,142.6 407.4,142.5 408.0,142.8 408.7,143.4 409.3,144.0 410.0,144.9 410.6,145.9 411.3,146.1 412.0,146.7 412.6,147.7 413.3,148.1 414.0,148.4 414.6,148.0 415.2,148.0 415.8,148.3 416.4,147.8 417.1,147.8 417.7,147.5 418.3,147.1 418.9,147.1 419.5,147.1 420.2,147.0 420.8,146.8 421.4,146.8 422.0,147.1 422.6,147.2 423.3,147.5 423.9,147.9 424.5,147.6 425.1,147.8 425.8,147.9 426.4,147.8 427.0,147.2 427.6,147.5 428.2,147.4 428.9,146.8 429.5,146.8 430.1,146.7 430.7,146.5 431.3,146.9 431.9,146.3 432.6,146.4 433.3,145.7 433.9,145.4 434.5,145.9 435.2,145.9 435.8,146.3 436.4,146.4 437.1,146.6 437.7,146.9 438.4,146.6 439.1,147.0 439.8,147.1 440.3,147.0 441.2,147.6 441.8,147.7 441.8,155.7 441.2,155.7 440.3,155.2 439.8,155.3 439.1,155.3 438.4,154.9 437.7,155.3 437.1,155.0 436.4,154.9 435.8,154.9 435.2,154.6 434.5,154.6 433.9,154.2 433.3,154.5 432.6,155.3 431.9,155.3 431.3,155.9 430.7,155.5 430.1,155.8 429.5,156.0 428.9,156.1 428.2,156.7 427.6,156.9 427.0,156.6 426.4,157.2 425.8,157.5 425.1,157.4 424.5,157.2 423.9,157.6 423.3,157.3 422.6,157.1 422.0,157.0 421.4,156.8 420.8,156.8 420.2,157.1 419.5,157.3 418.9,157.3 418.3,157.3 417.7,157.8 417.1,158.2 416.4,158.3 415.8,158.8 415.2,158.6 414.6,158.6 414.0,159.0 413.3,158.8 412.6,158.5 412.0,157.6 411.3,157.0 410.6,156.9 410.0,155.9 409.3,155.1 408.7,154.6 408.0,154.1 407.4,153.8 406.6,154.0 406.0,153.5 405.4,153.2 404.7,153.3 404.0,153.2 403.4,153.2 402.7,152.2 402.1,152.1 401.4,151.4 400.8,150.3 400.2,149.4 399.5,148.9 398.9,147.5 398.2,146.8 397.6,146.5 396.9,146.1 396.3,145.8 395.6,144.9 395.0,144.9 394.2,143.8 393.5,143.6 392.6,142.6 392.1,142.2 391.5,142.2 390.9,141.7 390.2,141.5 389.6,141.1 388.9,140.8 388.3,141.3 387.7,141.0 387.1,141.1 386.4,141.9 385.8,142.2 385.2,142.6 384.6,142.8 384.0,142.7 383.4,142.3 382.8,142.0 382.2,141.6 381.6,141.0 381.0,141.1 380.4,140.3 379.8,140.0 379.2,139.9 378.6,139.8 377.9,139.6 377.3,139.9 376.7,139.9 376.0,139.6 375.3,139.8 374.6,140.3 373.9,140.4 373.1,140.6 372.5,141.5 371.9,141.5 371.3,142.3 370.7,143.1 370.0,143.5 369.4,143.7 368.8,143.9 368.2,144.2 367.6,143.9 367.0,144.3 366.4,144.0 365.8,143.6 365.2,143.6 364.5,143.6 363.9,143.7 363.2,143.6 362.6,144.1 361.9,144.5 361.2,144.7 360.6,144.8 360.0,144.6 359.4,144.6 358.6,144.2 357.8,143.6 357.1,143.5 356.5,142.3 355.8,141.6 355.0,139.8 354.3,138.2 353.6,136.6 352.9,135.1 352.2,133.8 351.4,131.9 350.8,129.9 350.2,128.2 349.0,121.0 348.3,115.1 347.5,108.1 346.9,100.1 346.2,92.7 345.4,87.0 344.5,85.3 343.9,85.4 343.3,87.7 342.7,90.9 341.8,97.3 341.0,105.7 340.4,111.7 339.8,118.5 339.2,125.6 338.6,131.5 337.9,137.1 337.3,141.0 336.8,142.5 336.2,142.9 335.5,143.3 334.9,143.4 334.2,143.7 333.4,143.9 332.7,144.0 332.0,144.0 331.4,144.4 330.7,144.7 330.2,145.1 329.6,144.9 329.0,144.9 328.3,144.5 327.6,144.3 327.0,143.5 326.3,143.3 325.6,143.1 324.9,142.6 324.1,142.8 323.5,143.5 322.7,146.5 322.1,149.9 321.5,153.4 320.4,161.5" fill="rgba(80,190,180,0.25)" stroke="none" clip-path="url(#cB)"/>
<polygon points="320.4,161.4 321.0,156.9 321.8,151.3 322.4,146.0 323.5,141.9 323.9,141.7 324.4,141.4 325.0,141.3 325.6,141.3 326.3,141.1 327.0,141.8 327.6,141.5 328.3,141.5 329.0,141.7 329.6,141.6 330.3,141.2 331.0,141.1 331.7,140.6 332.4,140.7 333.1,140.0 333.8,139.6 334.4,139.2 335.0,138.9 335.5,138.4 336.5,136.8 337.2,135.2 337.7,133.3 338.3,130.2 339.1,125.0 339.8,118.6 340.5,112.0 341.2,105.0 341.9,98.9 342.5,93.1 343.1,89.0 343.7,85.3 344.3,83.8 345.0,85.4 345.7,89.0 346.5,93.1 347.2,97.4 347.9,102.2 348.6,107.0 349.3,111.6 350.0,115.8 350.6,119.7 351.3,123.3 352.0,126.7 352.7,129.7 353.5,132.1 354.2,134.1 354.8,135.9 355.6,138.0 356.5,139.4 357.0,139.6 357.5,140.2 358.1,140.9 358.8,141.3 359.4,141.5 360.1,141.9 360.7,141.9 361.3,141.3 361.9,140.8 362.6,140.2 363.2,139.6 363.9,139.1 364.5,138.3 365.1,138.1 365.7,137.5 366.3,137.7 367.0,137.1 367.6,137.0 368.2,137.1 368.8,136.7 369.4,136.7 370.0,137.1 370.6,137.1 371.2,137.0 371.8,137.1 372.4,137.5 373.1,137.4 373.7,138.0 374.3,137.7 374.9,137.8 375.6,137.9 376.3,138.0 377.0,138.0 377.6,138.3 378.3,138.4 378.9,138.4 379.6,138.5 380.2,139.5 380.9,139.9 381.5,140.1 382.2,140.8 382.8,141.4 383.4,141.9 384.0,141.5 384.6,141.4 385.3,141.3 385.9,140.8 386.4,140.5 387.0,139.9 387.7,139.2 388.3,139.1 388.9,139.2 389.6,139.5 390.3,139.4 391.0,139.8 391.7,139.9 392.4,140.6 392.9,140.5 393.4,141.2 394.3,141.3 395.0,141.7 395.5,141.7 396.2,142.2 396.9,142.7 397.7,143.4 398.5,143.7 399.2,143.9 399.9,144.7 400.6,144.9 401.3,145.2 402.0,145.4 402.7,145.8 403.4,146.5 404.0,146.2 404.6,146.6 405.2,146.7 405.8,146.7 406.4,147.0 407.0,147.3 407.6,147.4 408.3,147.6 409.0,147.6 409.7,147.9 410.4,148.5 411.1,148.7 411.8,148.9 412.5,149.5 413.2,149.2 413.9,149.6 414.6,149.8 415.3,149.3 416.0,149.8 416.6,149.4 417.2,149.2 417.8,149.1 418.5,148.9 419.1,149.1 419.7,149.0 420.3,149.2 421.0,149.3 421.7,148.9 422.4,149.3 423.1,149.4 423.8,149.4 424.5,149.5 425.2,149.5 425.9,149.7 426.6,149.4 427.3,149.1 428.0,149.0 428.7,149.0 429.4,149.0 430.0,148.6 430.6,148.8 431.3,148.4 431.9,148.5 432.4,148.4 433.1,147.9 433.7,148.1 434.3,147.7 435.0,147.9 435.6,148.2 436.2,148.5 436.9,148.9 437.5,149.1 438.2,150.0 438.8,150.5 439.5,150.8 440.2,151.4 440.9,151.7 441.4,152.5 441.8,152.7 441.8,159.7 441.4,159.6 440.9,158.8 440.2,158.6 439.5,158.1 438.8,157.9 438.2,157.5 437.5,156.7 436.9,156.5 436.2,156.3 435.6,156.0 435.0,155.8 434.3,155.7 433.7,156.1 433.1,156.0 432.4,156.6 431.9,156.8 431.3,156.7 430.6,157.2 430.0,157.2 429.4,157.6 428.7,157.7 428.0,157.8 427.3,158.0 426.6,158.3 425.9,158.7 425.2,158.7 424.5,158.8 423.8,158.8 423.1,158.9 422.4,158.8 421.7,158.5 421.0,159.0 420.3,159.0 419.7,158.8 419.1,159.0 418.5,158.9 417.8,159.2 417.2,159.4 416.6,159.7 416.0,160.1 415.3,159.7 414.6,160.3 413.9,160.2 413.2,159.9 412.5,160.2 411.8,159.8 411.1,159.7 410.4,159.5 409.7,159.0 409.0,158.9 408.3,158.9 407.6,158.8 407.0,158.8 406.4,158.6 405.8,158.3 405.2,158.5 404.6,158.4 404.0,158.1 403.4,158.4 402.7,157.9 402.0,157.6 401.3,157.5 400.6,157.3 399.9,157.1 399.2,156.4 398.5,156.3 397.7,156.1 396.9,155.6 396.2,155.1 395.5,154.7 395.0,154.8 394.3,154.5 393.4,154.5 392.9,153.8 392.4,154.0 391.7,153.4 391.0,153.4 390.3,153.0 389.6,153.3 388.9,153.1 388.3,153.0 387.7,153.2 387.0,154.0 386.4,154.7 385.9,155.0 385.3,155.6 384.6,155.8 384.0,156.0 383.4,156.5 382.8,156.1 382.2,155.5 381.5,154.9 380.9,154.7 380.2,154.5 379.6,153.5 378.9,153.3 378.3,153.2 377.6,152.9 377.0,152.6 376.3,152.5 375.6,152.2 374.9,152.0 374.3,151.8 373.7,152.0 373.1,151.4 372.4,151.3 371.8,150.9 371.2,150.6 370.6,150.7 370.0,150.6 369.4,150.1 368.8,150.0 368.2,150.4 367.6,150.2 367.0,150.2 366.3,150.6 365.7,150.3 365.1,150.9 364.5,151.0 363.9,151.6 363.2,152.1 362.6,152.6 361.9,153.1 361.3,153.5 360.7,154.0 360.1,153.9 359.4,153.6 358.8,153.5 358.1,153.1 357.5,152.5 357.0,152.0 356.5,151.8 355.6,150.6 354.8,148.6 354.2,146.8 353.5,144.9 352.7,142.6 352.0,139.7 351.3,136.4 350.6,132.8 350.0,129.1 349.3,124.9 348.6,120.5 347.9,115.7 347.2,111.0 346.5,106.8 345.7,102.8 345.0,99.3 344.3,97.8 343.7,99.2 343.1,102.8 342.5,106.8 341.9,112.4 341.2,118.3 340.5,125.2 339.8,131.7 339.1,137.9 338.3,142.9 337.7,145.9 337.2,147.7 336.5,149.1 335.5,150.5 335.0,150.9 334.4,151.1 333.8,151.4 333.1,151.6 332.4,152.1 331.7,151.9 331.0,152.2 330.3,152.1 329.6,152.4 329.0,152.3 328.3,152.0 327.6,151.9 327.0,152.0 326.3,151.2 325.6,151.0 325.0,150.6 324.4,150.4 323.9,150.3 323.5,150.2 322.4,153.6 321.8,158.5 321.0,163.6 320.4,167.6" fill="rgba(235,235,70,0.28)" stroke="none" clip-path="url(#cB)"/>
<polyline points="320.4,160.2 321.5,152.1 322.1,148.5 322.7,144.1 323.5,141.7 324.1,140.5 324.9,140.5 325.6,140.8 326.3,141.2 327.0,141.1 327.6,142.0 328.3,142.9 329.0,143.6 329.7,143.1 330.3,143.0 331.0,143.0 331.8,142.2 332.4,142.1 333.0,141.9 333.7,142.0 334.4,141.9 335.0,141.1 335.5,141.0 336.2,140.2 336.8,139.1 337.3,136.8 337.9,133.6 338.6,128.9 339.2,123.8 339.8,118.0 340.4,111.9 341.0,105.5 341.8,96.1 342.7,87.8 343.3,83.6 343.9,79.9 344.5,78.6 345.4,82.4 346.2,90.0 346.8,99.0 347.5,109.3 348.1,113.8 348.8,119.0 349.5,123.8 350.2,127.7 350.9,130.4 351.6,133.0 352.3,135.3 353.0,136.9 353.7,138.4 354.4,139.4 355.0,139.8 355.8,140.7 356.5,141.1 357.2,141.2 357.9,141.5 358.7,141.4 359.4,141.7 360.0,142.1 360.6,141.5 361.2,141.6 361.7,141.2 362.4,141.0 363.0,141.2 363.6,140.9 364.2,140.7 364.8,140.7 365.5,140.9 366.1,140.8 366.7,140.4 367.3,140.4 367.9,140.8 368.5,140.3 369.1,140.4 369.7,140.2 370.3,140.2 371.0,139.7 371.6,139.3 372.2,138.6 372.8,137.7 373.5,136.9 374.2,136.1 374.8,135.9 375.4,135.0 376.0,134.6 376.7,135.0 377.3,134.6 377.9,135.3 378.4,135.1 379.0,135.7 379.6,135.8 380.2,136.5 380.8,136.8 381.5,137.2 382.1,137.6 382.7,138.1 383.3,138.1 384.0,138.6 384.7,138.7 385.5,138.8 386.2,139.5 386.9,139.7 387.5,140.1 388.1,140.2 388.7,140.8 389.3,141.2 389.9,141.8 390.5,141.8 391.1,142.4 391.7,143.0 392.3,143.2 392.9,143.9 393.5,144.4 394.1,144.7 394.8,145.2 395.6,145.6 396.3,145.8 397.0,146.3 397.7,147.2 398.4,147.4 399.0,148.2 399.6,148.8 400.2,149.6 400.8,150.1 401.5,151.0 402.1,151.2 402.7,151.5 403.4,151.6 404.0,151.3 404.7,151.2 405.3,150.6 406.0,150.3 406.6,150.6 407.3,150.7 407.9,151.1 408.6,151.3 409.2,152.0 409.8,152.3 410.5,153.2 411.1,153.7 411.8,153.8 412.5,154.4 413.2,154.1 413.8,154.1 414.5,154.4 415.1,154.0 415.7,153.8 416.4,153.6 417.1,152.9 417.7,153.2 418.3,152.8 418.9,152.8 419.5,152.6 420.2,152.8 420.8,152.7 421.4,152.5 422.0,152.4 422.6,152.6 423.3,152.8 423.9,152.6 424.5,152.7 425.1,153.0 425.7,153.0 426.4,153.1 427.0,153.0 427.6,152.9 428.2,152.5 428.8,152.4 429.4,152.4 430.0,152.5 430.6,152.5 431.2,152.4 431.8,152.1 432.5,152.1 433.1,151.2 433.7,150.8 434.4,150.7 435.0,150.5 435.6,150.4 436.3,150.7 436.9,151.6 437.5,151.7 438.2,152.4 438.8,153.1 439.5,153.7 440.2,154.0 440.9,154.5 441.4,155.0 441.8,155.7" fill="none" stroke="#3b1c6e" stroke-width="1.3" stroke-linejoin="round" clip-path="url(#cB)"/>
<polyline points="320.4,158.5 321.5,150.3 322.1,146.7 322.7,143.3 323.5,140.2 324.1,139.5 324.9,139.3 325.6,139.7 326.3,139.9 327.0,140.0 327.6,140.8 328.3,140.9 329.0,141.3 329.6,141.2 330.2,141.4 330.7,141.0 331.4,140.6 332.0,140.2 332.7,140.2 333.4,140.0 334.2,139.7 334.9,139.4 335.5,138.9 336.2,137.9 336.8,137.1 337.3,135.2 337.9,130.7 338.6,124.6 339.2,118.2 339.8,110.7 340.4,102.5 341.0,94.8 341.8,83.9 342.7,75.1 343.3,70.2 343.9,66.1 344.5,64.3 345.4,68.4 346.2,76.3 346.9,85.4 347.5,95.1 348.3,104.1 349.0,112.0 350.2,119.8 350.8,121.8 351.4,124.2 352.2,126.3 352.9,128.0 353.6,129.9 354.3,131.9 355.0,133.8 355.8,135.5 356.5,136.2 357.1,137.3 357.8,137.4 358.6,137.9 359.4,138.2 360.0,138.2 360.6,138.3 361.2,138.1 361.9,137.9 362.6,137.4 363.2,136.8 363.9,136.9 364.5,136.7 365.2,136.6 365.8,136.6 366.4,136.9 367.0,137.1 367.6,136.7 368.2,137.0 368.8,136.6 369.4,136.4 370.0,136.1 370.7,135.6 371.3,134.8 371.9,133.9 372.5,133.8 373.1,132.9 373.9,132.6 374.6,132.5 375.3,131.9 376.0,131.6 376.7,132.0 377.3,132.0 377.9,131.7 378.6,131.9 379.2,132.1 379.8,132.3 380.4,132.7 381.0,133.5 381.6,133.4 382.2,134.0 382.8,134.5 383.4,134.8 384.0,135.3 384.6,135.4 385.2,135.3 385.8,134.9 386.4,134.7 387.1,133.9 387.7,133.8 388.3,134.2 388.9,133.8 389.6,134.1 390.2,134.5 390.9,134.8 391.5,135.3 392.1,135.4 392.6,135.8 393.5,137.0 394.2,137.2 395.0,138.4 395.6,138.5 396.3,139.5 396.9,139.8 397.6,140.3 398.2,140.6 398.9,141.4 399.5,142.8 400.2,143.4 400.8,144.3 401.4,145.5 402.1,146.2 402.7,146.3 403.4,147.4 404.0,147.4 404.7,147.5 405.4,147.5 406.0,147.8 406.6,148.3 407.4,148.2 408.0,148.5 408.7,149.0 409.3,149.6 410.0,150.4 410.6,151.4 411.3,151.5 412.0,152.1 412.6,153.1 413.3,153.5 414.0,153.7 414.6,153.3 415.2,153.3 415.8,153.5 416.4,153.1 417.1,153.0 417.7,152.6 418.3,152.2 418.9,152.2 419.5,152.2 420.2,152.0 420.8,151.8 421.4,151.8 422.0,152.0 422.6,152.1 423.3,152.4 423.9,152.7 424.5,152.4 425.1,152.6 425.8,152.7 426.4,152.5 427.0,151.9 427.6,152.2 428.2,152.0 428.9,151.5 429.5,151.4 430.1,151.2 430.7,151.0 431.3,151.4 431.9,150.8 432.6,150.8 433.3,150.1 433.9,149.8 434.5,150.2 435.2,150.2 435.8,150.6 436.4,150.7 437.1,150.8 437.7,151.1 438.4,150.8 439.1,151.1 439.8,151.2 440.3,151.1 441.2,151.6 441.8,151.7" fill="none" stroke="#2a8a82" stroke-width="1.2" stroke-linejoin="round" clip-path="url(#cB)"/>
<polyline points="320.4,164.5 321.0,160.2 321.8,154.9 322.4,149.8 323.5,146.1 323.9,146.0 324.4,145.9 325.0,146.0 325.6,146.2 326.3,146.1 327.0,146.9 327.6,146.7 328.3,146.8 329.0,147.0 329.6,147.0 330.3,146.7 331.0,146.7 331.7,146.2 332.4,146.4 333.1,145.8 333.8,145.5 334.4,145.1 335.0,144.9 335.5,144.5 336.5,142.9 337.2,141.4 337.7,139.6 338.3,136.5 339.1,131.4 339.8,125.1 340.5,118.6 341.2,111.7 341.9,105.6 342.5,99.9 343.1,95.9 343.7,92.2 344.3,90.8 345.0,92.3 345.7,95.9 346.5,100.0 347.2,104.2 347.9,109.0 348.6,113.8 349.3,118.3 350.0,122.5 350.6,126.3 351.3,129.8 352.0,133.2 352.7,136.2 353.5,138.5 354.2,140.4 354.8,142.2 355.6,144.3 356.5,145.6 357.0,145.8 357.5,146.3 358.1,147.0 358.8,147.4 359.4,147.5 360.1,147.9 360.7,148.0 361.3,147.4 361.9,147.0 362.6,146.4 363.2,145.8 363.9,145.3 364.5,144.7 365.1,144.5 365.7,143.9 366.3,144.1 367.0,143.7 367.6,143.6 368.2,143.8 368.8,143.4 369.4,143.4 370.0,143.9 370.6,143.9 371.2,143.8 371.8,144.0 372.4,144.4 373.1,144.4 373.7,145.0 374.3,144.7 374.9,144.9 375.6,145.1 376.3,145.2 377.0,145.3 377.6,145.6 378.3,145.8 378.9,145.9 379.6,146.0 380.2,147.0 380.9,147.3 381.5,147.5 382.2,148.2 382.8,148.8 383.4,149.2 384.0,148.7 384.6,148.6 385.3,148.5 385.9,147.9 386.4,147.6 387.0,147.0 387.7,146.2 388.3,146.1 388.9,146.1 389.6,146.4 390.3,146.2 391.0,146.6 391.7,146.7 392.4,147.3 392.9,147.1 393.4,147.9 394.3,147.9 395.0,148.2 395.5,148.2 396.2,148.6 396.9,149.2 397.7,149.8 398.5,150.0 399.2,150.2 399.9,150.9 400.6,151.1 401.3,151.4 402.0,151.5 402.7,151.8 403.4,152.4 404.0,152.1 404.6,152.5 405.2,152.6 405.8,152.5 406.4,152.8 407.0,153.0 407.6,153.1 408.3,153.3 409.0,153.2 409.7,153.5 410.4,154.0 411.1,154.2 411.8,154.3 412.5,154.8 413.2,154.5 413.9,154.9 414.6,155.0 415.3,154.5 416.0,154.9 416.6,154.6 417.2,154.3 417.8,154.2 418.5,153.9 419.1,154.1 419.7,153.9 420.3,154.1 421.0,154.1 421.7,153.7 422.4,154.0 423.1,154.2 423.8,154.1 424.5,154.2 425.2,154.1 425.9,154.2 426.6,153.8 427.3,153.5 428.0,153.4 428.7,153.4 429.4,153.3 430.0,152.9 430.6,153.0 431.3,152.5 431.9,152.6 432.4,152.5 433.1,152.0 433.7,152.1 434.3,151.7 435.0,151.8 435.6,152.1 436.2,152.4 436.9,152.7 437.5,152.9 438.2,153.8 438.8,154.2 439.5,154.5 440.2,155.0 440.9,155.3 441.4,156.1 441.8,156.2" fill="none" stroke="#e8e82a" stroke-width="1.1" stroke-linejoin="round" clip-path="url(#cB)"/>
<rect x="319.5" y="26.4" width="122.5" height="141.79999999999998" fill="none" stroke="#8c8c8c" stroke-width="0.85"/>
<text x="310.90" y="172.20" font-size="8.6" text-anchor="end" font-family='"Liberation Serif", serif' fill="#111" >0.04</text>
<text x="310.90" y="145.10" font-size="8.6" text-anchor="end" font-family='"Liberation Serif", serif' fill="#111" >0.09</text>
<text x="310.90" y="118.00" font-size="8.6" text-anchor="end" font-family='"Liberation Serif", serif' fill="#111" >0.14</text>
<text x="310.90" y="90.90" font-size="8.6" text-anchor="end" font-family='"Liberation Serif", serif' fill="#111" >0.19</text>
<text x="310.90" y="63.80" font-size="8.6" text-anchor="end" font-family='"Liberation Serif", serif' fill="#111" >0.24</text>
<text x="310.90" y="36.70" font-size="8.6" text-anchor="end" font-family='"Liberation Serif", serif' fill="#111" >0.29</text>
<text x="318.80" y="178.20" font-size="8.6" text-anchor="middle" font-family='"Liberation Serif", serif' fill="#111" >0</text>
<text x="372.90" y="178.20" font-size="8.6" text-anchor="middle" font-family='"Liberation Serif", serif' fill="#111" >20</text>
<text x="427.00" y="178.20" font-size="8.6" text-anchor="middle" font-family='"Liberation Serif", serif' fill="#111" >40</text>
<rect x="378.6" y="29.2" width="61.8" height="23" fill="#fff" fill-opacity="0.85" stroke="#e6e6e6" stroke-width="0.5" rx="1"/>
<line x1="379.9" y1="33.2" x2="391" y2="33.2" stroke="#7a4f9c" stroke-width="1.4"/>
<text x="395.70" y="36.10" font-size="8.6" text-anchor="start" font-family='"Liberation Serif", serif' fill="#111" >FRONTAL</text>
<line x1="379.9" y1="40.4" x2="391" y2="40.4" stroke="#3aa28c" stroke-width="1.4"/>
<text x="395.70" y="43.30" font-size="8.6" text-anchor="start" font-family='"Liberation Serif", serif' fill="#111" >CENTRAL</text>
<line x1="379.9" y1="47.6" x2="391" y2="47.6" stroke="#e8e84a" stroke-width="1.4"/>
<text x="395.70" y="50.50" font-size="8.6" text-anchor="start" font-family='"Liberation Serif", serif' fill="#111" >OCCIPITAL</text>
<path d="M346.70,38.10L346.70,36.00M346.70,38.10L348.52,37.05M346.70,38.10L344.88,37.05M346.70,38.10L344.88,39.15M346.70,38.10L348.52,39.15M346.70,38.10L346.70,40.20" stroke="#4a4a4a" stroke-width="0.95" stroke-linecap="round" fill="none"/>
<path d="M333.40,128.30L333.40,126.20M333.40,128.30L335.22,127.25M333.40,128.30L331.58,127.25M333.40,128.30L331.58,129.35M333.40,128.30L335.22,129.35M333.40,128.30L333.40,130.40" stroke="#4a4a4a" stroke-width="0.95" stroke-linecap="round" fill="none"/>
<path d="M380.10,118.60L380.10,116.50M380.10,118.60L381.92,117.55M380.10,118.60L378.28,117.55M380.10,118.60L378.28,119.65M380.10,118.60L381.92,119.65M380.10,118.60L380.10,120.70" stroke="#4a4a4a" stroke-width="0.95" stroke-linecap="round" fill="none"/>
<rect x="475.3" y="23.2" width="203.2" height="133.8" fill="#fff" stroke="#e3e3e3" stroke-width="0.8"/>
<line x1="475.3" y1="106.75" x2="678.5" y2="106.75" stroke="#d8d8d8" stroke-width="0.7" stroke-dasharray="1,1"/>
<line x1="475.3" y1="56.5" x2="678.5" y2="56.5" stroke="#d8d8d8" stroke-width="0.7" stroke-dasharray="1,1"/>
<rect x="480.5" y="132.54500000000002" width="19.6" height="24.454999999999984" fill="#7f7fff"/>
<rect x="501.1" y="118.97749999999999" width="19.8" height="38.02250000000001" fill="#e6737a"/>
<rect x="531.25" y="144.27" width="19.6" height="12.72999999999999" fill="#7f7fff"/>
<rect x="551.85" y="142.0925" width="19.8" height="14.907499999999999" fill="#e6737a"/>
<rect x="582.0" y="143.935" width="19.6" height="13.064999999999998" fill="#7f7fff"/>
<rect x="602.6" y="131.0375" width="19.8" height="25.962500000000006" fill="#e6737a"/>
<rect x="632.75" y="108.09" width="19.6" height="48.91" fill="#7f7fff"/>
<rect x="653.35" y="101.8925" width="19.8" height="55.1075" fill="#e6737a"/>
<line x1="490.3" y1="136.9" x2="490.3" y2="128.525" stroke="#333" stroke-width="1"/>
<line x1="488.3" y1="136.9" x2="492.3" y2="136.9" stroke="#333" stroke-width="0.9"/>
<line x1="488.3" y1="128.525" x2="492.3" y2="128.525" stroke="#333" stroke-width="0.9"/>
<line x1="511.0" y1="99.7" x2="511.0" y2="135.8" stroke="#333" stroke-width="1"/>
<line x1="509.0" y1="99.7" x2="513.0" y2="99.7" stroke="#333" stroke-width="0.9"/>
<line x1="509.0" y1="135.8" x2="513.0" y2="135.8" stroke="#333" stroke-width="0.9"/>
<line x1="541.05" y1="146.95" x2="541.05" y2="141.0875" stroke="#333" stroke-width="1"/>
<line x1="539.05" y1="146.95" x2="543.05" y2="146.95" stroke="#333" stroke-width="0.9"/>
<line x1="539.05" y1="141.0875" x2="543.05" y2="141.0875" stroke="#333" stroke-width="0.9"/>
<line x1="561.75" y1="136" x2="561.75" y2="145.275" stroke="#333" stroke-width="1"/>
<line x1="559.75" y1="136" x2="563.75" y2="136" stroke="#333" stroke-width="0.9"/>
<line x1="559.75" y1="145.275" x2="563.75" y2="145.275" stroke="#333" stroke-width="0.9"/>
<line x1="591.8" y1="146.1125" x2="591.8" y2="141.0875" stroke="#333" stroke-width="1"/>
<line x1="589.8" y1="146.1125" x2="593.8" y2="146.1125" stroke="#333" stroke-width="0.9"/>
<line x1="589.8" y1="141.0875" x2="593.8" y2="141.0875" stroke="#333" stroke-width="0.9"/>
<line x1="612.5" y1="116.7" x2="612.5" y2="145.8" stroke="#333" stroke-width="1"/>
<line x1="610.5" y1="116.7" x2="614.5" y2="116.7" stroke="#333" stroke-width="0.9"/>
<line x1="610.5" y1="145.8" x2="614.5" y2="145.8" stroke="#333" stroke-width="0.9"/>
<line x1="642.55" y1="91.1" x2="642.55" y2="124.2" stroke="#333" stroke-width="1"/>
<line x1="640.55" y1="91.1" x2="644.55" y2="91.1" stroke="#333" stroke-width="0.9"/>
<line x1="640.55" y1="124.2" x2="644.55" y2="124.2" stroke="#333" stroke-width="0.9"/>
<line x1="663.25" y1="86.6" x2="663.25" y2="116.7" stroke="#333" stroke-width="1"/>
<line x1="661.25" y1="86.6" x2="665.25" y2="86.6" stroke="#333" stroke-width="0.9"/>
<line x1="661.25" y1="116.7" x2="665.25" y2="116.7" stroke="#333" stroke-width="0.9"/>
<circle cx="489.4" cy="117.6" r="1.55" fill="#2b2bff" fill-opacity="0.8"/>
<circle cx="488.5" cy="126.0" r="1.55" fill="#2b2bff" fill-opacity="0.8"/>
<circle cx="490.9" cy="126.8" r="1.55" fill="#2b2bff" fill-opacity="0.8"/>
<circle cx="488.1" cy="128.5" r="1.55" fill="#2b2bff" fill-opacity="0.8"/>
<circle cx="490.4" cy="130.2" r="1.55" fill="#2b2bff" fill-opacity="0.8"/>
<circle cx="489.6" cy="131.9" r="1.55" fill="#2b2bff" fill-opacity="0.8"/>
<circle cx="488.1" cy="132.7" r="1.55" fill="#2b2bff" fill-opacity="0.8"/>
<circle cx="490.2" cy="133.6" r="1.55" fill="#2b2bff" fill-opacity="0.8"/>
<circle cx="488.0" cy="134.4" r="1.55" fill="#2b2bff" fill-opacity="0.8"/>
<circle cx="489.9" cy="135.2" r="1.55" fill="#2b2bff" fill-opacity="0.8"/>
<circle cx="488.1" cy="136.1" r="1.55" fill="#2b2bff" fill-opacity="0.8"/>
<circle cx="488.2" cy="136.9" r="1.55" fill="#2b2bff" fill-opacity="0.8"/>
<circle cx="489.8" cy="138.6" r="1.55" fill="#2b2bff" fill-opacity="0.8"/>
<circle cx="491.8" cy="140.2" r="1.55" fill="#2b2bff" fill-opacity="0.8"/>
<circle cx="488.4" cy="141.1" r="1.55" fill="#2b2bff" fill-opacity="0.8"/>
<circle cx="488.9" cy="129.4" r="1.55" fill="#2b2bff" fill-opacity="0.8"/>
<circle cx="490.8" cy="127.7" r="1.55" fill="#2b2bff" fill-opacity="0.8"/>
<circle cx="512.9" cy="64.9" r="1.55" fill="#ff3030" fill-opacity="0.8"/>
<circle cx="511.2" cy="93.3" r="1.55" fill="#ff3030" fill-opacity="0.8"/>
<circle cx="510.3" cy="101.7" r="1.55" fill="#ff3030" fill-opacity="0.8"/>
<circle cx="513.1" cy="105.1" r="1.55" fill="#ff3030" fill-opacity="0.8"/>
<circle cx="508.6" cy="108.4" r="1.55" fill="#ff3030" fill-opacity="0.8"/>
<circle cx="512.5" cy="111.8" r="1.55" fill="#ff3030" fill-opacity="0.8"/>
<circle cx="509.8" cy="115.1" r="1.55" fill="#ff3030" fill-opacity="0.8"/>
<circle cx="509.1" cy="116.8" r="1.55" fill="#ff3030" fill-opacity="0.8"/>
<circle cx="509.0" cy="118.5" r="1.55" fill="#ff3030" fill-opacity="0.8"/>
<circle cx="509.9" cy="120.2" r="1.55" fill="#ff3030" fill-opacity="0.8"/>
<circle cx="512.3" cy="123.5" r="1.55" fill="#ff3030" fill-opacity="0.8"/>
<circle cx="509.3" cy="125.2" r="1.55" fill="#ff3030" fill-opacity="0.8"/>
<circle cx="511.2" cy="126.8" r="1.55" fill="#ff3030" fill-opacity="0.8"/>
<circle cx="511.5" cy="130.2" r="1.55" fill="#ff3030" fill-opacity="0.8"/>
<circle cx="510.2" cy="131.9" r="1.55" fill="#ff3030" fill-opacity="0.8"/>
<circle cx="511.0" cy="133.6" r="1.55" fill="#ff3030" fill-opacity="0.8"/>
<circle cx="508.7" cy="135.2" r="1.55" fill="#ff3030" fill-opacity="0.8"/>
<circle cx="538.8" cy="131.9" r="1.55" fill="#2b2bff" fill-opacity="0.8"/>
<circle cx="539.5" cy="138.6" r="1.55" fill="#2b2bff" fill-opacity="0.8"/>
<circle cx="541.8" cy="140.2" r="1.55" fill="#2b2bff" fill-opacity="0.8"/>
<circle cx="540.6" cy="141.1" r="1.55" fill="#2b2bff" fill-opacity="0.8"/>
<circle cx="540.1" cy="141.9" r="1.55" fill="#2b2bff" fill-opacity="0.8"/>
<circle cx="541.4" cy="142.8" r="1.55" fill="#2b2bff" fill-opacity="0.8"/>
<circle cx="540.7" cy="143.6" r="1.55" fill="#2b2bff" fill-opacity="0.8"/>
<circle cx="540.0" cy="144.4" r="1.55" fill="#2b2bff" fill-opacity="0.8"/>
<circle cx="542.4" cy="145.3" r="1.55" fill="#2b2bff" fill-opacity="0.8"/>
<circle cx="541.9" cy="145.3" r="1.55" fill="#2b2bff" fill-opacity="0.8"/>
<circle cx="539.7" cy="146.1" r="1.55" fill="#2b2bff" fill-opacity="0.8"/>
<circle cx="541.3" cy="146.9" r="1.55" fill="#2b2bff" fill-opacity="0.8"/>
<circle cx="541.1" cy="147.8" r="1.55" fill="#2b2bff" fill-opacity="0.8"/>
<circle cx="542.8" cy="148.6" r="1.55" fill="#2b2bff" fill-opacity="0.8"/>
<circle cx="542.1" cy="143.6" r="1.55" fill="#2b2bff" fill-opacity="0.8"/>
<circle cx="560.5" cy="123.5" r="1.55" fill="#ff3030" fill-opacity="0.8"/>
<circle cx="563.9" cy="136.1" r="1.55" fill="#ff3030" fill-opacity="0.8"/>
<circle cx="559.7" cy="137.7" r="1.55" fill="#ff3030" fill-opacity="0.8"/>
<circle cx="561.2" cy="138.6" r="1.55" fill="#ff3030" fill-opacity="0.8"/>
<circle cx="562.8" cy="140.2" r="1.55" fill="#ff3030" fill-opacity="0.8"/>
<circle cx="559.9" cy="141.1" r="1.55" fill="#ff3030" fill-opacity="0.8"/>
<circle cx="561.5" cy="141.9" r="1.55" fill="#ff3030" fill-opacity="0.8"/>
<circle cx="559.3" cy="142.8" r="1.55" fill="#ff3030" fill-opacity="0.8"/>
<circle cx="562.4" cy="143.6" r="1.55" fill="#ff3030" fill-opacity="0.8"/>
<circle cx="562.8" cy="143.6" r="1.55" fill="#ff3030" fill-opacity="0.8"/>
<circle cx="561.9" cy="144.4" r="1.55" fill="#ff3030" fill-opacity="0.8"/>
<circle cx="563.4" cy="145.3" r="1.55" fill="#ff3030" fill-opacity="0.8"/>
<circle cx="560.7" cy="146.1" r="1.55" fill="#ff3030" fill-opacity="0.8"/>
<circle cx="562.5" cy="146.9" r="1.55" fill="#ff3030" fill-opacity="0.8"/>
<circle cx="562.0" cy="147.8" r="1.55" fill="#ff3030" fill-opacity="0.8"/>
<circle cx="592.1" cy="136.9" r="1.55" fill="#2b2bff" fill-opacity="0.8"/>
<circle cx="591.5" cy="140.2" r="1.55" fill="#2b2bff" fill-opacity="0.8"/>
<circle cx="593.3" cy="141.1" r="1.55" fill="#2b2bff" fill-opacity="0.8"/>
<circle cx="593.8" cy="141.9" r="1.55" fill="#2b2bff" fill-opacity="0.8"/>
<circle cx="591.6" cy="142.8" r="1.55" fill="#2b2bff" fill-opacity="0.8"/>
<circle cx="592.5" cy="143.6" r="1.55" fill="#2b2bff" fill-opacity="0.8"/>
<circle cx="589.6" cy="144.4" r="1.55" fill="#2b2bff" fill-opacity="0.8"/>
<circle cx="592.7" cy="145.3" r="1.55" fill="#2b2bff" fill-opacity="0.8"/>
<circle cx="592.4" cy="146.1" r="1.55" fill="#2b2bff" fill-opacity="0.8"/>
<circle cx="594.1" cy="146.9" r="1.55" fill="#2b2bff" fill-opacity="0.8"/>
<circle cx="593.2" cy="147.8" r="1.55" fill="#2b2bff" fill-opacity="0.8"/>
<circle cx="590.7" cy="148.6" r="1.55" fill="#2b2bff" fill-opacity="0.8"/>
<circle cx="591.2" cy="149.5" r="1.55" fill="#2b2bff" fill-opacity="0.8"/>
<circle cx="592.5" cy="150.3" r="1.55" fill="#2b2bff" fill-opacity="0.8"/>
<circle cx="610.0" cy="88.3" r="1.55" fill="#ff3030" fill-opacity="0.8"/>
<circle cx="612.1" cy="108.4" r="1.55" fill="#ff3030" fill-opacity="0.8"/>
<circle cx="610.7" cy="115.1" r="1.55" fill="#ff3030" fill-opacity="0.8"/>
<circle cx="610.5" cy="120.2" r="1.55" fill="#ff3030" fill-opacity="0.8"/>
<circle cx="610.2" cy="125.2" r="1.55" fill="#ff3030" fill-opacity="0.8"/>
<circle cx="613.6" cy="128.5" r="1.55" fill="#ff3030" fill-opacity="0.8"/>
<circle cx="610.5" cy="131.9" r="1.55" fill="#ff3030" fill-opacity="0.8"/>
<circle cx="611.1" cy="133.6" r="1.55" fill="#ff3030" fill-opacity="0.8"/>
<circle cx="611.8" cy="135.2" r="1.55" fill="#ff3030" fill-opacity="0.8"/>
<circle cx="614.1" cy="136.9" r="1.55" fill="#ff3030" fill-opacity="0.8"/>
<circle cx="610.3" cy="138.6" r="1.55" fill="#ff3030" fill-opacity="0.8"/>
<circle cx="612.1" cy="140.2" r="1.55" fill="#ff3030" fill-opacity="0.8"/>
<circle cx="612.5" cy="141.9" r="1.55" fill="#ff3030" fill-opacity="0.8"/>
<circle cx="614.1" cy="143.6" r="1.55" fill="#ff3030" fill-opacity="0.8"/>
<circle cx="613.8" cy="145.3" r="1.55" fill="#ff3030" fill-opacity="0.8"/>
<circle cx="644.2" cy="69.9" r="1.55" fill="#2b2bff" fill-opacity="0.8"/>
<circle cx="641.4" cy="71.6" r="1.55" fill="#2b2bff" fill-opacity="0.8"/>
<circle cx="642.0" cy="86.6" r="1.55" fill="#2b2bff" fill-opacity="0.8"/>
<circle cx="641.8" cy="91.7" r="1.55" fill="#2b2bff" fill-opacity="0.8"/>
<circle cx="644.3" cy="98.4" r="1.55" fill="#2b2bff" fill-opacity="0.8"/>
<circle cx="644.6" cy="103.4" r="1.55" fill="#2b2bff" fill-opacity="0.8"/>
<circle cx="640.8" cy="106.8" r="1.55" fill="#2b2bff" fill-opacity="0.8"/>
<circle cx="640.9" cy="108.4" r="1.55" fill="#2b2bff" fill-opacity="0.8"/>
<circle cx="641.2" cy="110.1" r="1.55" fill="#2b2bff" fill-opacity="0.8"/>
<circle cx="641.2" cy="111.8" r="1.55" fill="#2b2bff" fill-opacity="0.8"/>
<circle cx="642.4" cy="113.4" r="1.55" fill="#2b2bff" fill-opacity="0.8"/>
<circle cx="642.9" cy="115.1" r="1.55" fill="#2b2bff" fill-opacity="0.8"/>
<circle cx="641.3" cy="118.5" r="1.55" fill="#2b2bff" fill-opacity="0.8"/>
<circle cx="640.1" cy="121.8" r="1.55" fill="#2b2bff" fill-opacity="0.8"/>
<circle cx="642.1" cy="126.8" r="1.55" fill="#2b2bff" fill-opacity="0.8"/>
<circle cx="641.8" cy="101.7" r="1.55" fill="#2b2bff" fill-opacity="0.8"/>
<circle cx="663.4" cy="64.9" r="1.55" fill="#ff3030" fill-opacity="0.8"/>
<circle cx="665.2" cy="80.0" r="1.55" fill="#ff3030" fill-opacity="0.8"/>
<circle cx="664.0" cy="81.6" r="1.55" fill="#ff3030" fill-opacity="0.8"/>
<circle cx="663.1" cy="86.6" r="1.55" fill="#ff3030" fill-opacity="0.8"/>
<circle cx="663.6" cy="90.0" r="1.55" fill="#ff3030" fill-opacity="0.8"/>
<circle cx="663.9" cy="93.3" r="1.55" fill="#ff3030" fill-opacity="0.8"/>
<circle cx="660.9" cy="96.7" r="1.55" fill="#ff3030" fill-opacity="0.8"/>
<circle cx="665.0" cy="100.1" r="1.55" fill="#ff3030" fill-opacity="0.8"/>
<circle cx="664.4" cy="101.7" r="1.55" fill="#ff3030" fill-opacity="0.8"/>
<circle cx="664.8" cy="105.1" r="1.55" fill="#ff3030" fill-opacity="0.8"/>
<circle cx="664.5" cy="106.8" r="1.55" fill="#ff3030" fill-opacity="0.8"/>
<circle cx="662.5" cy="110.1" r="1.55" fill="#ff3030" fill-opacity="0.8"/>
<circle cx="662.6" cy="113.4" r="1.55" fill="#ff3030" fill-opacity="0.8"/>
<circle cx="661.1" cy="116.8" r="1.55" fill="#ff3030" fill-opacity="0.8"/>
<circle cx="663.7" cy="120.2" r="1.55" fill="#ff3030" fill-opacity="0.8"/>
<circle cx="660.9" cy="121.8" r="1.55" fill="#ff3030" fill-opacity="0.8"/>
<text transform="translate(473.30 161.10) rotate(0) scale(0.92 1)" x="0" y="0" font-size="10.2" text-anchor="end" font-family='"Liberation Serif", serif' fill="#111" >0</text>
<text transform="translate(473.30 110.85) rotate(0) scale(0.92 1)" x="0" y="0" font-size="10.2" text-anchor="end" font-family='"Liberation Serif", serif' fill="#111" >3</text>
<text transform="translate(473.30 60.60) rotate(0) scale(0.92 1)" x="0" y="0" font-size="10.2" text-anchor="end" font-family='"Liberation Serif", serif' fill="#111" >6</text>
<text transform="translate(503.40 166.40) rotate(0) scale(0.93 1)" x="0" y="0" font-size="10.2" text-anchor="middle" font-family='"Liberation Serif", serif' fill="#1a1a1a" >LOWFREQ</text>
<text transform="translate(551.25 166.40) rotate(0) scale(0.93 1)" x="0" y="0" font-size="10.2" text-anchor="middle" font-family='"Liberation Serif", serif' fill="#1a1a1a" >THETA</text>
<text transform="translate(602.00 166.40) rotate(0) scale(0.93 1)" x="0" y="0" font-size="10.2" text-anchor="middle" font-family='"Liberation Serif", serif' fill="#1a1a1a" >ALPHA</text>
<text transform="translate(652.75 166.40) rotate(0) scale(0.93 1)" x="0" y="0" font-size="10.2" text-anchor="middle" font-family='"Liberation Serif", serif' fill="#1a1a1a" >BETA</text>
<line x1="490.9" y1="51.9" x2="509.9" y2="51.9" stroke="#222" stroke-width="1.4"/>
<path d="M496.20,46.40L496.20,43.50M496.20,46.40L498.71,44.95M496.20,46.40L493.69,44.95M496.20,46.40L493.69,47.85M496.20,46.40L498.71,47.85M496.20,46.40L496.20,49.30" stroke="#1a1a1a" stroke-width="1.25" stroke-linecap="round" fill="none"/>
<path d="M505.00,46.40L505.00,43.50M505.00,46.40L507.51,44.95M505.00,46.40L502.49,44.95M505.00,46.40L502.49,47.85M505.00,46.40L507.51,47.85M505.00,46.40L505.00,49.30" stroke="#1a1a1a" stroke-width="1.25" stroke-linecap="round" fill="none"/>
<line x1="592.9" y1="75.9" x2="612.1" y2="75.9" stroke="#222" stroke-width="1.4"/>
<path d="M593.90,68.80L593.90,65.90M593.90,68.80L596.41,67.35M593.90,68.80L591.39,67.35M593.90,68.80L591.39,70.25M593.90,68.80L596.41,70.25M593.90,68.80L593.90,71.70" stroke="#1a1a1a" stroke-width="1.25" stroke-linecap="round" fill="none"/>
<path d="M602.70,68.80L602.70,65.90M602.70,68.80L605.21,67.35M602.70,68.80L600.19,67.35M602.70,68.80L600.19,70.25M602.70,68.80L605.21,70.25M602.70,68.80L602.70,71.70" stroke="#1a1a1a" stroke-width="1.25" stroke-linecap="round" fill="none"/>
<path d="M611.50,68.80L611.50,65.90M611.50,68.80L614.01,67.35M611.50,68.80L608.99,67.35M611.50,68.80L608.99,70.25M611.50,68.80L614.01,70.25M611.50,68.80L611.50,71.70" stroke="#1a1a1a" stroke-width="1.25" stroke-linecap="round" fill="none"/>
<rect x="548.7" y="25.6" width="124.4" height="16.5" rx="2" fill="#fff" stroke="#e4e4e4" stroke-width="0.7"/>
<rect x="552.6" y="32.050000000000004" width="19" height="6.2" fill="#7f7fff"/>
<text transform="translate(579.40 38.95) rotate(0) scale(0.925 1)" x="0" y="0" font-size="10.3" text-anchor="start" font-family='"Liberation Serif", serif' fill="#1a1a1a" >Open</text>
<rect x="620.2" y="32.050000000000004" width="19" height="6.2" fill="#e6737a"/>
<text transform="translate(647.20 38.95) rotate(0) scale(0.925 1)" x="0" y="0" font-size="10.3" text-anchor="start" font-family='"Liberation Serif", serif' fill="#1a1a1a" >Close</text>
<text transform="translate(461.00 100.30) rotate(-90) scale(0.935 1)" x="0" y="0" font-size="14.2" text-anchor="middle" font-family='"Liberation Serif", serif' fill="#111" >SUM-BAND-COH</text>
<rect x="474.4" y="214.6" width="203.60000000000002" height="134.6" fill="#fff" stroke="#e3e3e3" stroke-width="0.8"/>
<line x1="474.4" y1="268.51" x2="678.0" y2="268.51" stroke="#d8d8d8" stroke-width="0.7" stroke-dasharray="1,1"/>
<rect x="479.8" y="314.5603" width="19.6" height="34.73970000000003" fill="#7f7fff"/>
<rect x="500.40000000000003" y="306.7506" width="19.8" height="42.54939999999999" fill="#e6737a"/>
<rect x="530.7" y="330.449" width="19.6" height="18.851" fill="#7f7fff"/>
<rect x="551.3000000000001" y="329.1025" width="19.8" height="20.19749999999999" fill="#e6737a"/>
<rect x="581.6" y="331.25690000000003" width="19.6" height="18.04309999999998" fill="#7f7fff"/>
<rect x="602.2" y="324.5244" width="19.8" height="24.775599999999997" fill="#e6737a"/>
<rect x="632.5" y="285.2066" width="19.6" height="64.09340000000003" fill="#7f7fff"/>
<rect x="653.1" y="276.3197" width="19.8" height="72.9803" fill="#e6737a"/>
<line x1="489.6" y1="302.6" x2="489.6" y2="324.5" stroke="#333" stroke-width="1"/>
<line x1="487.6" y1="302.6" x2="491.6" y2="302.6" stroke="#333" stroke-width="0.9"/>
<line x1="487.6" y1="324.5" x2="491.6" y2="324.5" stroke="#333" stroke-width="0.9"/>
<line x1="510.3" y1="293.4" x2="510.3" y2="323.2" stroke="#333" stroke-width="1"/>
<line x1="508.3" y1="293.4" x2="512.3" y2="293.4" stroke="#333" stroke-width="0.9"/>
<line x1="508.3" y1="323.2" x2="512.3" y2="323.2" stroke="#333" stroke-width="0.9"/>
<line x1="540.5" y1="323" x2="540.5" y2="337.6" stroke="#333" stroke-width="1"/>
<line x1="538.5" y1="323" x2="542.5" y2="323" stroke="#333" stroke-width="0.9"/>
<line x1="538.5" y1="337.6" x2="542.5" y2="337.6" stroke="#333" stroke-width="0.9"/>
<line x1="561.2" y1="321" x2="561.2" y2="337.6" stroke="#333" stroke-width="1"/>
<line x1="559.2" y1="321" x2="563.2" y2="321" stroke="#333" stroke-width="0.9"/>
<line x1="559.2" y1="337.6" x2="563.2" y2="337.6" stroke="#333" stroke-width="0.9"/>
<line x1="591.4" y1="324" x2="591.4" y2="339.7" stroke="#333" stroke-width="1"/>
<line x1="589.4" y1="324" x2="593.4" y2="324" stroke="#333" stroke-width="0.9"/>
<line x1="589.4" y1="339.7" x2="593.4" y2="339.7" stroke="#333" stroke-width="0.9"/>
<line x1="612.1" y1="315.3" x2="612.1" y2="334.5" stroke="#333" stroke-width="1"/>
<line x1="610.1" y1="315.3" x2="614.1" y2="315.3" stroke="#333" stroke-width="0.9"/>
<line x1="610.1" y1="334.5" x2="614.1" y2="334.5" stroke="#333" stroke-width="0.9"/>
<line x1="642.3" y1="267.6" x2="642.3" y2="302.9" stroke="#333" stroke-width="1"/>
<line x1="640.3" y1="267.6" x2="644.3" y2="267.6" stroke="#333" stroke-width="0.9"/>
<line x1="640.3" y1="302.9" x2="644.3" y2="302.9" stroke="#333" stroke-width="0.9"/>
<line x1="663.0" y1="256.6" x2="663.0" y2="295" stroke="#333" stroke-width="1"/>
<line x1="661.0" y1="256.6" x2="665.0" y2="256.6" stroke="#333" stroke-width="0.9"/>
<line x1="661.0" y1="295" x2="665.0" y2="295" stroke="#333" stroke-width="0.9"/>
<circle cx="489.3" cy="284.7" r="1.55" fill="#2b2bff" fill-opacity="0.8"/>
<circle cx="489.8" cy="298.1" r="1.55" fill="#2b2bff" fill-opacity="0.8"/>
<circle cx="491.5" cy="303.5" r="1.55" fill="#2b2bff" fill-opacity="0.8"/>
<circle cx="489.3" cy="306.2" r="1.55" fill="#2b2bff" fill-opacity="0.8"/>
<circle cx="489.5" cy="308.9" r="1.55" fill="#2b2bff" fill-opacity="0.8"/>
<circle cx="489.9" cy="311.6" r="1.55" fill="#2b2bff" fill-opacity="0.8"/>
<circle cx="488.0" cy="314.3" r="1.55" fill="#2b2bff" fill-opacity="0.8"/>
<circle cx="489.6" cy="315.6" r="1.55" fill="#2b2bff" fill-opacity="0.8"/>
<circle cx="490.1" cy="317.0" r="1.55" fill="#2b2bff" fill-opacity="0.8"/>
<circle cx="490.9" cy="319.7" r="1.55" fill="#2b2bff" fill-opacity="0.8"/>
<circle cx="487.6" cy="322.4" r="1.55" fill="#2b2bff" fill-opacity="0.8"/>
<circle cx="488.6" cy="323.7" r="1.55" fill="#2b2bff" fill-opacity="0.8"/>
<circle cx="487.5" cy="325.1" r="1.55" fill="#2b2bff" fill-opacity="0.8"/>
<circle cx="491.0" cy="330.4" r="1.55" fill="#2b2bff" fill-opacity="0.8"/>
<circle cx="490.4" cy="312.9" r="1.55" fill="#2b2bff" fill-opacity="0.8"/>
<circle cx="507.9" cy="269.9" r="1.55" fill="#ff3030" fill-opacity="0.8"/>
<circle cx="512.4" cy="284.7" r="1.55" fill="#ff3030" fill-opacity="0.8"/>
<circle cx="512.3" cy="295.4" r="1.55" fill="#ff3030" fill-opacity="0.8"/>
<circle cx="510.8" cy="298.1" r="1.55" fill="#ff3030" fill-opacity="0.8"/>
<circle cx="510.7" cy="300.8" r="1.55" fill="#ff3030" fill-opacity="0.8"/>
<circle cx="508.5" cy="303.5" r="1.55" fill="#ff3030" fill-opacity="0.8"/>
<circle cx="507.8" cy="306.2" r="1.55" fill="#ff3030" fill-opacity="0.8"/>
<circle cx="510.2" cy="308.9" r="1.55" fill="#ff3030" fill-opacity="0.8"/>
<circle cx="508.0" cy="310.3" r="1.55" fill="#ff3030" fill-opacity="0.8"/>
<circle cx="508.6" cy="311.6" r="1.55" fill="#ff3030" fill-opacity="0.8"/>
<circle cx="508.9" cy="314.3" r="1.55" fill="#ff3030" fill-opacity="0.8"/>
<circle cx="507.8" cy="317.0" r="1.55" fill="#ff3030" fill-opacity="0.8"/>
<circle cx="509.9" cy="319.7" r="1.55" fill="#ff3030" fill-opacity="0.8"/>
<circle cx="509.8" cy="322.4" r="1.55" fill="#ff3030" fill-opacity="0.8"/>
<circle cx="511.7" cy="325.1" r="1.55" fill="#ff3030" fill-opacity="0.8"/>
<circle cx="540.5" cy="311.6" r="1.55" fill="#2b2bff" fill-opacity="0.8"/>
<circle cx="541.1" cy="319.7" r="1.55" fill="#2b2bff" fill-opacity="0.8"/>
<circle cx="540.4" cy="325.1" r="1.55" fill="#2b2bff" fill-opacity="0.8"/>
<circle cx="541.2" cy="326.4" r="1.55" fill="#2b2bff" fill-opacity="0.8"/>
<circle cx="540.2" cy="327.8" r="1.55" fill="#2b2bff" fill-opacity="0.8"/>
<circle cx="539.3" cy="329.1" r="1.55" fill="#2b2bff" fill-opacity="0.8"/>
<circle cx="542.8" cy="330.4" r="1.55" fill="#2b2bff" fill-opacity="0.8"/>
<circle cx="542.8" cy="331.8" r="1.55" fill="#2b2bff" fill-opacity="0.8"/>
<circle cx="542.0" cy="333.1" r="1.55" fill="#2b2bff" fill-opacity="0.8"/>
<circle cx="541.4" cy="334.5" r="1.55" fill="#2b2bff" fill-opacity="0.8"/>
<circle cx="539.5" cy="335.8" r="1.55" fill="#2b2bff" fill-opacity="0.8"/>
<circle cx="539.1" cy="337.2" r="1.55" fill="#2b2bff" fill-opacity="0.8"/>
<circle cx="539.4" cy="338.5" r="1.55" fill="#2b2bff" fill-opacity="0.8"/>
<circle cx="538.3" cy="339.9" r="1.55" fill="#2b2bff" fill-opacity="0.8"/>
<circle cx="562.3" cy="306.2" r="1.55" fill="#ff3030" fill-opacity="0.8"/>
<circle cx="560.5" cy="314.3" r="1.55" fill="#ff3030" fill-opacity="0.8"/>
<circle cx="562.7" cy="315.6" r="1.55" fill="#ff3030" fill-opacity="0.8"/>
<circle cx="560.5" cy="322.4" r="1.55" fill="#ff3030" fill-opacity="0.8"/>
<circle cx="563.2" cy="325.1" r="1.55" fill="#ff3030" fill-opacity="0.8"/>
<circle cx="562.7" cy="326.4" r="1.55" fill="#ff3030" fill-opacity="0.8"/>
<circle cx="558.6" cy="327.8" r="1.55" fill="#ff3030" fill-opacity="0.8"/>
<circle cx="559.6" cy="329.1" r="1.55" fill="#ff3030" fill-opacity="0.8"/>
<circle cx="563.0" cy="330.4" r="1.55" fill="#ff3030" fill-opacity="0.8"/>
<circle cx="560.9" cy="331.8" r="1.55" fill="#ff3030" fill-opacity="0.8"/>
<circle cx="563.3" cy="333.1" r="1.55" fill="#ff3030" fill-opacity="0.8"/>
<circle cx="560.5" cy="334.5" r="1.55" fill="#ff3030" fill-opacity="0.8"/>
<circle cx="559.0" cy="335.8" r="1.55" fill="#ff3030" fill-opacity="0.8"/>
<circle cx="591.9" cy="315.6" r="1.55" fill="#2b2bff" fill-opacity="0.8"/>
<circle cx="592.6" cy="317.0" r="1.55" fill="#2b2bff" fill-opacity="0.8"/>
<circle cx="590.2" cy="322.4" r="1.55" fill="#2b2bff" fill-opacity="0.8"/>
<circle cx="589.3" cy="325.1" r="1.55" fill="#2b2bff" fill-opacity="0.8"/>
<circle cx="590.5" cy="327.8" r="1.55" fill="#2b2bff" fill-opacity="0.8"/>
<circle cx="593.5" cy="329.1" r="1.55" fill="#2b2bff" fill-opacity="0.8"/>
<circle cx="592.5" cy="330.4" r="1.55" fill="#2b2bff" fill-opacity="0.8"/>
<circle cx="589.5" cy="331.8" r="1.55" fill="#2b2bff" fill-opacity="0.8"/>
<circle cx="590.1" cy="333.1" r="1.55" fill="#2b2bff" fill-opacity="0.8"/>
<circle cx="589.4" cy="334.5" r="1.55" fill="#2b2bff" fill-opacity="0.8"/>
<circle cx="589.2" cy="335.8" r="1.55" fill="#2b2bff" fill-opacity="0.8"/>
<circle cx="592.7" cy="337.2" r="1.55" fill="#2b2bff" fill-opacity="0.8"/>
<circle cx="589.8" cy="338.5" r="1.55" fill="#2b2bff" fill-opacity="0.8"/>
<circle cx="591.6" cy="341.2" r="1.55" fill="#2b2bff" fill-opacity="0.8"/>
<circle cx="611.6" cy="303.5" r="1.55" fill="#ff3030" fill-opacity="0.8"/>
<circle cx="610.4" cy="312.9" r="1.55" fill="#ff3030" fill-opacity="0.8"/>
<circle cx="613.0" cy="314.3" r="1.55" fill="#ff3030" fill-opacity="0.8"/>
<circle cx="610.1" cy="317.0" r="1.55" fill="#ff3030" fill-opacity="0.8"/>
<circle cx="612.6" cy="319.7" r="1.55" fill="#ff3030" fill-opacity="0.8"/>
<circle cx="610.1" cy="322.4" r="1.55" fill="#ff3030" fill-opacity="0.8"/>
<circle cx="611.5" cy="323.7" r="1.55" fill="#ff3030" fill-opacity="0.8"/>
<circle cx="610.5" cy="325.1" r="1.55" fill="#ff3030" fill-opacity="0.8"/>
<circle cx="610.8" cy="326.4" r="1.55" fill="#ff3030" fill-opacity="0.8"/>
<circle cx="614.2" cy="327.8" r="1.55" fill="#ff3030" fill-opacity="0.8"/>
<circle cx="613.4" cy="330.4" r="1.55" fill="#ff3030" fill-opacity="0.8"/>
<circle cx="611.0" cy="333.1" r="1.55" fill="#ff3030" fill-opacity="0.8"/>
<circle cx="613.7" cy="334.5" r="1.55" fill="#ff3030" fill-opacity="0.8"/>
<circle cx="610.5" cy="335.8" r="1.55" fill="#ff3030" fill-opacity="0.8"/>
<circle cx="641.7" cy="245.6" r="1.55" fill="#2b2bff" fill-opacity="0.8"/>
<circle cx="643.9" cy="248.3" r="1.55" fill="#2b2bff" fill-opacity="0.8"/>
<circle cx="642.9" cy="265.8" r="1.55" fill="#2b2bff" fill-opacity="0.8"/>
<circle cx="640.3" cy="271.2" r="1.55" fill="#2b2bff" fill-opacity="0.8"/>
<circle cx="644.5" cy="276.6" r="1.55" fill="#2b2bff" fill-opacity="0.8"/>
<circle cx="640.8" cy="279.3" r="1.55" fill="#2b2bff" fill-opacity="0.8"/>
<circle cx="641.0" cy="282.0" r="1.55" fill="#2b2bff" fill-opacity="0.8"/>
<circle cx="643.5" cy="284.7" r="1.55" fill="#2b2bff" fill-opacity="0.8"/>
<circle cx="641.4" cy="287.4" r="1.55" fill="#2b2bff" fill-opacity="0.8"/>
<circle cx="641.2" cy="290.1" r="1.55" fill="#2b2bff" fill-opacity="0.8"/>
<circle cx="640.2" cy="292.7" r="1.55" fill="#2b2bff" fill-opacity="0.8"/>
<circle cx="640.2" cy="295.4" r="1.55" fill="#2b2bff" fill-opacity="0.8"/>
<circle cx="642.6" cy="298.1" r="1.55" fill="#2b2bff" fill-opacity="0.8"/>
<circle cx="641.0" cy="303.5" r="1.55" fill="#2b2bff" fill-opacity="0.8"/>
<circle cx="642.7" cy="308.9" r="1.55" fill="#2b2bff" fill-opacity="0.8"/>
<circle cx="641.6" cy="273.9" r="1.55" fill="#2b2bff" fill-opacity="0.8"/>
<circle cx="662.6" cy="238.9" r="1.55" fill="#ff3030" fill-opacity="0.8"/>
<circle cx="665.0" cy="252.4" r="1.55" fill="#ff3030" fill-opacity="0.8"/>
<circle cx="662.7" cy="255.0" r="1.55" fill="#ff3030" fill-opacity="0.8"/>
<circle cx="663.2" cy="260.4" r="1.55" fill="#ff3030" fill-opacity="0.8"/>
<circle cx="664.6" cy="265.8" r="1.55" fill="#ff3030" fill-opacity="0.8"/>
<circle cx="661.3" cy="269.9" r="1.55" fill="#ff3030" fill-opacity="0.8"/>
<circle cx="661.1" cy="273.9" r="1.55" fill="#ff3030" fill-opacity="0.8"/>
<circle cx="664.8" cy="276.6" r="1.55" fill="#ff3030" fill-opacity="0.8"/>
<circle cx="664.3" cy="279.3" r="1.55" fill="#ff3030" fill-opacity="0.8"/>
<circle cx="661.6" cy="282.0" r="1.55" fill="#ff3030" fill-opacity="0.8"/>
<circle cx="661.3" cy="284.7" r="1.55" fill="#ff3030" fill-opacity="0.8"/>
<circle cx="663.9" cy="287.4" r="1.55" fill="#ff3030" fill-opacity="0.8"/>
<circle cx="664.9" cy="290.1" r="1.55" fill="#ff3030" fill-opacity="0.8"/>
<circle cx="661.3" cy="295.4" r="1.55" fill="#ff3030" fill-opacity="0.8"/>
<circle cx="665.0" cy="298.1" r="1.55" fill="#ff3030" fill-opacity="0.8"/>
<circle cx="664.6" cy="303.5" r="1.55" fill="#ff3030" fill-opacity="0.8"/>
<text transform="translate(472.40 353.40) rotate(0) scale(0.92 1)" x="0" y="0" font-size="10.2" text-anchor="end" font-family='"Liberation Serif", serif' fill="#111" >0</text>
<text transform="translate(472.40 272.61) rotate(0) scale(0.92 1)" x="0" y="0" font-size="10.2" text-anchor="end" font-family='"Liberation Serif", serif' fill="#111" >3</text>
<text transform="translate(499.80 359.20) rotate(0) scale(0.93 1)" x="0" y="0" font-size="10.2" text-anchor="middle" font-family='"Liberation Serif", serif' fill="#1a1a1a" >LOWFREQ</text>
<text transform="translate(550.70 359.20) rotate(0) scale(0.93 1)" x="0" y="0" font-size="10.2" text-anchor="middle" font-family='"Liberation Serif", serif' fill="#1a1a1a" >THETA</text>
<text transform="translate(601.60 359.20) rotate(0) scale(0.93 1)" x="0" y="0" font-size="10.2" text-anchor="middle" font-family='"Liberation Serif", serif' fill="#1a1a1a" >ALPHA</text>
<text transform="translate(652.50 359.20) rotate(0) scale(0.93 1)" x="0" y="0" font-size="10.2" text-anchor="middle" font-family='"Liberation Serif", serif' fill="#1a1a1a" >BETA</text>
<line x1="593.7" y1="281.6" x2="612.1" y2="281.6" stroke="#222" stroke-width="1.4"/>
<path d="M603.10,273.20L603.10,270.30M603.10,273.20L605.61,271.75M603.10,273.20L600.59,271.75M603.10,273.20L600.59,274.65M603.10,273.20L605.61,274.65M603.10,273.20L603.10,276.10" stroke="#1a1a1a" stroke-width="1.25" stroke-linecap="round" fill="none"/>
<rect x="548.7" y="217.6" width="124.4" height="16.200000000000017" rx="2" fill="#fff" stroke="#e4e4e4" stroke-width="0.7"/>
<rect x="552.6" y="223.89999999999998" width="19" height="6.2" fill="#7f7fff"/>
<text transform="translate(579.40 230.80) rotate(0) scale(0.925 1)" x="0" y="0" font-size="10.3" text-anchor="start" font-family='"Liberation Serif", serif' fill="#1a1a1a" >Open</text>
<rect x="620.2" y="223.89999999999998" width="19" height="6.2" fill="#e6737a"/>
<text transform="translate(647.20 230.80) rotate(0) scale(0.925 1)" x="0" y="0" font-size="10.3" text-anchor="start" font-family='"Liberation Serif", serif' fill="#1a1a1a" >Close</text>
<text transform="translate(461.00 288.40) rotate(-90) scale(0.93 1)" x="0" y="0" font-size="14.2" text-anchor="middle" font-family='"Liberation Serif", serif' fill="#111" >SUM-BAND-COH</text>
<rect x="37.6" y="214.5" width="106.9" height="138.89999999999998" fill="#e9ebf4"/>
<line x1="37.6" y1="334.4" x2="144.5" y2="334.4" stroke="#fff" stroke-opacity="0.75" stroke-width="0.8"/>
<line x1="37.6" y1="307.65" x2="144.5" y2="307.65" stroke="#fff" stroke-opacity="0.75" stroke-width="0.8"/>
<line x1="37.6" y1="280.9" x2="144.5" y2="280.9" stroke="#fff" stroke-opacity="0.75" stroke-width="0.8"/>
<line x1="37.6" y1="254.14999999999998" x2="144.5" y2="254.14999999999998" stroke="#fff" stroke-opacity="0.75" stroke-width="0.8"/>
<line x1="37.6" y1="227.39999999999995" x2="144.5" y2="227.39999999999995" stroke="#fff" stroke-opacity="0.75" stroke-width="0.8"/>
<line x1="83.9" y1="214.5" x2="83.9" y2="353.4" stroke="#fff" stroke-opacity="0.75" stroke-width="0.8"/>
<line x1="132.2" y1="214.5" x2="132.2" y2="353.4" stroke="#fff" stroke-opacity="0.75" stroke-width="0.8"/>
<line x1="44.4" y1="214.5" x2="44.4" y2="353.4" stroke="#5c5c5c" stroke-width="0.7" stroke-dasharray="1.6,1.4"/>
<line x1="54.5" y1="214.5" x2="54.5" y2="353.4" stroke="#5c5c5c" stroke-width="0.7" stroke-dasharray="1.6,1.4"/>
<line x1="64.4" y1="214.5" x2="64.4" y2="353.4" stroke="#5c5c5c" stroke-width="0.7" stroke-dasharray="1.6,1.4"/>
<line x1="108.4" y1="214.5" x2="108.4" y2="353.4" stroke="#5c5c5c" stroke-width="0.7" stroke-dasharray="1.6,1.4"/>
<polygon points="37.7,322.7 38.2,322.9 38.8,323.2 39.6,323.6 40.4,324.7 41.1,324.4 41.8,324.6 42.5,323.9 43.1,323.8 43.8,323.3 44.5,323.1 45.2,323.5 45.8,324.6 46.5,325.1 47.2,326.3 48.0,327.5 48.6,328.3 49.2,328.7 49.8,329.2 50.4,330.3 51.1,330.4 51.8,330.9 52.5,331.6 53.1,332.1 53.7,332.2 54.4,332.6 55.0,333.0 55.7,333.4 56.3,333.2 56.9,333.5 57.6,333.9 58.2,333.9 58.8,333.5 59.5,333.1 60.2,332.6 60.9,331.7 61.5,331.1 62.1,330.6 62.7,330.8 63.3,330.4 64.1,330.6 64.7,330.2 65.3,331.0 65.9,331.4 66.7,332.2 67.3,332.3 67.8,333.2 68.4,333.1 69.1,334.0 69.8,334.7 70.4,335.3 71.2,335.7 71.9,336.0 72.5,336.3 73.0,336.6 73.6,336.4 74.3,336.8 74.9,337.0 75.5,337.1 76.2,336.9 76.8,337.2 77.4,337.3 78.1,337.1 78.7,337.2 79.3,337.0 80.0,337.1 80.6,337.0 81.3,336.5 81.9,336.8 82.6,336.9 83.2,336.7 83.8,336.4 84.4,336.0 85.0,336.2 85.5,336.0 86.3,335.8 87.0,335.9 87.6,335.3 88.3,335.8 88.9,335.2 89.4,335.5 90.0,335.4 90.7,335.1 91.4,335.2 92.0,334.9 92.6,334.9 93.4,335.2 94.0,334.8 94.6,334.8 95.2,335.3 95.9,335.8 96.6,335.7 97.2,335.9 97.9,336.7 98.5,336.7 99.1,336.8 99.7,337.4 100.3,337.3 100.9,337.8 101.5,337.7 102.1,338.0 102.8,338.2 103.3,338.2 103.9,337.9 104.4,337.2 105.0,337.0 105.6,336.4 106.3,335.9 106.9,335.8 107.5,335.8 108.2,335.6 108.8,335.5 109.4,335.9 110.0,335.7 110.7,336.1 111.3,336.8 112.0,337.2 112.6,337.7 113.3,338.5 113.9,339.1 114.5,339.5 115.1,339.7 115.6,340.2 116.3,340.4 117.0,339.9 117.5,339.3 118.1,338.8 118.6,339.0 119.2,338.0 119.9,338.1 120.4,337.9 121.0,337.5 121.6,337.7 122.2,337.0 122.8,336.9 123.4,337.0 124.1,336.6 124.7,337.0 125.3,336.5 125.9,336.3 126.6,336.2 127.2,336.5 127.9,336.2 128.6,336.2 129.3,336.1 130.0,336.2 130.6,336.3 131.2,336.2 131.8,336.0 132.5,336.6 133.2,336.9 133.8,337.5 134.4,338.5 135.0,339.3 135.5,339.5 136.1,339.8 136.8,339.9 137.4,339.8 138.0,339.2 138.7,338.8 139.5,338.5 140.0,338.1 140.7,338.2 141.4,338.1 142.1,337.4 142.8,337.8 143.5,337.5 144.1,337.0 144.6,337.1 145.0,337.2 145.0,347.2 144.6,347.1 144.1,347.0 143.5,347.5 142.8,347.8 142.1,347.4 141.4,348.1 140.7,348.2 140.0,348.1 139.5,348.5 138.7,348.8 138.0,349.2 137.4,349.8 136.8,349.9 136.1,349.8 135.5,349.5 135.0,349.3 134.4,348.5 133.8,347.5 133.2,346.9 132.5,346.6 131.8,346.0 131.2,346.2 130.6,346.3 130.0,346.2 129.3,346.1 128.6,346.2 127.9,346.2 127.2,346.5 126.6,346.2 125.9,346.3 125.3,346.5 124.7,347.0 124.1,346.6 123.4,347.0 122.8,346.9 122.2,347.0 121.6,347.7 121.0,347.5 120.4,347.9 119.9,348.1 119.2,348.0 118.6,349.0 118.1,348.8 117.5,349.3 117.0,349.9 116.3,350.4 115.6,350.2 115.1,349.7 114.5,349.5 113.9,349.1 113.3,348.5 112.6,347.7 112.0,347.2 111.3,346.8 110.7,346.1 110.0,345.7 109.4,345.9 108.8,345.5 108.2,345.6 107.5,345.8 106.9,345.8 106.3,345.9 105.6,346.4 105.0,347.0 104.4,347.2 103.9,347.9 103.3,348.2 102.8,348.2 102.1,348.0 101.5,347.7 100.9,347.8 100.3,347.3 99.7,347.4 99.1,346.8 98.5,346.7 97.9,346.7 97.2,345.9 96.6,345.7 95.9,345.8 95.2,345.3 94.6,344.8 94.0,344.8 93.4,345.2 92.6,344.9 92.0,344.9 91.4,345.2 90.7,345.1 90.0,345.4 89.4,345.5 88.9,345.2 88.3,345.8 87.6,345.3 87.0,345.9 86.3,345.8 85.5,346.0 85.0,346.2 84.4,346.0 83.8,346.4 83.2,346.7 82.6,346.9 81.9,346.8 81.3,346.5 80.6,347.0 80.0,347.1 79.3,347.0 78.7,347.2 78.1,347.1 77.4,347.3 76.8,347.2 76.2,346.9 75.5,347.1 74.9,347.0 74.3,346.8 73.6,346.4 73.0,346.6 72.5,346.3 71.9,346.0 71.2,345.7 70.4,345.3 69.8,344.7 69.1,344.0 68.4,343.1 67.8,343.2 67.3,342.3 66.7,342.2 65.9,341.4 65.3,341.0 64.7,340.2 64.1,340.6 63.3,340.4 62.7,340.8 62.1,340.6 61.5,341.1 60.9,341.7 60.2,342.6 59.5,343.2 58.8,343.7 58.2,344.2 57.6,344.3 56.9,344.0 56.3,343.9 55.7,344.2 55.0,343.9 54.4,343.6 53.7,343.4 53.1,343.4 52.5,342.9 51.8,342.3 51.1,342.0 50.4,342.0 49.8,341.0 49.2,340.7 48.6,340.3 48.0,339.6 47.2,338.6 46.5,337.5 45.8,337.2 45.2,336.1 44.5,335.8 43.8,336.1 43.1,336.8 42.5,337.0 41.8,337.9 41.1,337.8 40.4,338.2 39.6,337.3 38.8,336.9 38.2,336.8 37.7,336.7" fill="rgba(160,160,160,0.35)" stroke="none" clip-path="url(#cD1)"/>
<polyline points="37.7,329.7 38.2,329.8 38.8,330.0 39.6,330.5 40.4,331.5 41.1,331.1 41.8,331.2 42.5,330.4 43.1,330.3 43.8,329.7 44.5,329.5 45.2,329.8 45.8,330.9 46.5,331.3 47.2,332.4 48.0,333.5 48.6,334.3 49.2,334.7 49.8,335.1 50.4,336.1 51.1,336.2 51.8,336.6 52.5,337.3 53.1,337.8 53.7,337.8 54.4,338.1 55.0,338.5 55.7,338.8 56.3,338.6 56.9,338.8 57.6,339.1 58.2,339.0 58.8,338.6 59.5,338.2 60.2,337.6 60.9,336.7 61.5,336.1 62.1,335.6 62.7,335.8 63.3,335.4 64.1,335.6 64.7,335.2 65.3,336.0 65.9,336.4 66.7,337.2 67.3,337.3 67.8,338.2 68.4,338.1 69.1,339.0 69.8,339.7 70.4,340.3 71.2,340.7 71.9,341.0 72.5,341.3 73.0,341.6 73.6,341.4 74.3,341.8 74.9,342.0 75.5,342.1 76.2,341.9 76.8,342.2 77.4,342.3 78.1,342.1 78.7,342.2 79.3,342.0 80.0,342.1 80.6,342.0 81.3,341.5 81.9,341.8 82.6,341.9 83.2,341.7 83.8,341.4 84.4,341.0 85.0,341.2 85.5,341.0 86.3,340.8 87.0,340.9 87.6,340.3 88.3,340.8 88.9,340.2 89.4,340.5 90.0,340.4 90.7,340.1 91.4,340.2 92.0,339.9 92.6,339.9 93.4,340.2 94.0,339.8 94.6,339.8 95.2,340.3 95.9,340.8 96.6,340.7 97.2,340.9 97.9,341.7 98.5,341.7 99.1,341.8 99.7,342.4 100.3,342.3 100.9,342.8 101.5,342.7 102.1,343.0 102.8,343.2 103.3,343.2 103.9,342.9 104.4,342.2 105.0,342.0 105.6,341.4 106.3,340.9 106.9,340.8 107.5,340.8 108.2,340.6 108.8,340.5 109.4,340.9 110.0,340.7 110.7,341.1 111.3,341.8 112.0,342.2 112.6,342.7 113.3,343.5 113.9,344.1 114.5,344.5 115.1,344.7 115.6,345.2 116.3,345.4 117.0,344.9 117.5,344.3 118.1,343.8 118.6,344.0 119.2,343.0 119.9,343.1 120.4,342.9 121.0,342.5 121.6,342.7 122.2,342.0 122.8,341.9 123.4,342.0 124.1,341.6 124.7,342.0 125.3,341.5 125.9,341.3 126.6,341.2 127.2,341.5 127.9,341.2 128.6,341.2 129.3,341.1 130.0,341.2 130.6,341.3 131.2,341.2 131.8,341.0 132.5,341.6 133.2,341.9 133.8,342.5 134.4,343.5 135.0,344.3 135.5,344.5 136.1,344.8 136.8,344.9 137.4,344.8 138.0,344.2 138.7,343.8 139.5,343.5 140.0,343.1 140.7,343.2 141.4,343.1 142.1,342.4 142.8,342.8 143.5,342.5 144.1,342.0 144.6,342.1 145.0,342.2" fill="none" stroke="#7c7c7c" stroke-width="0.9" stroke-linejoin="round" clip-path="url(#cD1)"/>
<polygon points="37.6,294.4 38.2,292.8 39.0,291.2 39.8,290.2 40.6,290.3 41.3,291.0 42.0,291.3 42.9,291.1 43.7,291.1 44.4,294.4 45.4,297.8 46.0,298.5 46.6,299.3 47.3,299.5 48.0,300.3 48.8,300.5 49.4,300.4 50.0,299.7 50.7,299.4 51.3,298.6 52.0,298.4 52.6,298.0 53.1,297.5 53.8,297.7 54.4,298.4 54.9,299.2 55.6,300.4 56.1,301.1 56.7,301.7 57.3,303.3 58.0,304.0 58.6,305.6 59.3,306.4 59.9,307.7 60.5,309.2 61.2,310.0 61.8,311.3 62.4,312.7 63.0,314.1 63.6,315.4 64.2,316.3 65.0,317.8 65.7,318.8 66.3,320.3 67.0,320.8 67.6,321.6 68.3,322.1 69.0,321.9 69.6,321.9 70.2,321.6 70.8,321.2 71.3,320.9 72.0,320.5 72.7,320.6 73.2,321.1 73.8,322.2 74.5,323.1 75.1,323.7 75.8,325.1 76.4,326.1 77.0,326.6 77.7,327.6 78.3,328.0 78.9,328.6 79.5,328.8 80.1,328.7 80.8,327.7 81.6,327.2 82.3,325.5 83.0,323.9 83.7,322.4 84.3,320.4 84.9,318.3 85.5,316.1 86.2,313.0 86.8,310.2 87.5,307.3 88.1,305.7 88.7,305.5 89.3,306.1 90.0,307.3 90.6,307.6 91.3,308.4 92.0,309.3 92.7,309.9 93.4,310.0 94.0,309.9 94.6,309.5 95.2,309.5 95.8,309.5 96.5,309.4 97.1,310.5 97.7,311.0 98.3,312.3 98.9,313.7 99.5,315.3 100.2,316.2 100.8,317.2 101.4,318.4 102.0,319.1 102.7,320.5 103.3,321.1 103.9,322.1 104.5,322.7 105.2,323.2 105.9,323.7 106.6,323.8 107.2,323.8 107.9,323.9 108.6,323.8 109.2,323.2 109.9,322.9 110.6,322.9 111.3,323.1 111.9,323.5 112.5,324.3 113.1,325.0 113.7,326.0 114.3,326.5 115.0,327.6 115.6,328.1 116.2,328.5 116.8,328.3 117.4,328.3 118.1,328.6 118.7,328.2 119.3,328.7 119.9,328.8 120.5,328.7 121.1,329.3 121.7,330.1 122.4,330.4 123.0,330.8 123.6,331.8 124.2,332.1 124.8,332.8 125.4,332.9 126.0,333.6 126.6,334.2 127.2,334.2 127.8,334.6 128.4,335.0 129.0,334.9 129.6,334.6 130.3,333.6 130.9,333.4 131.5,333.0 132.1,332.5 132.7,332.4 133.4,332.1 134.1,332.3 134.8,332.7 135.4,332.9 136.1,333.3 136.8,333.1 137.5,332.7 138.1,332.1 138.8,331.7 139.5,331.5 140.2,332.0 141.0,332.3 141.7,332.6 142.4,332.4 143.0,332.4 143.9,332.6 144.5,331.7 145.0,331.4 145.0,345.4 144.5,345.6 143.9,346.4 143.0,346.1 142.4,345.9 141.7,346.0 141.0,345.6 140.2,345.1 139.5,344.5 138.8,344.6 138.1,344.8 137.5,345.4 136.8,345.6 136.1,345.7 135.4,345.2 134.8,344.9 134.1,344.4 133.4,344.1 132.7,344.2 132.1,344.2 131.5,344.7 130.9,344.9 130.3,345.1 129.6,345.9 129.0,346.1 128.4,346.0 127.8,345.7 127.2,345.4 126.6,345.6 126.0,345.2 125.4,344.7 124.8,344.7 124.2,344.2 123.6,344.2 123.0,343.3 122.4,343.0 121.7,342.9 121.1,342.3 120.5,342.0 119.9,342.2 119.3,342.3 118.7,341.9 118.1,342.6 117.4,342.4 116.8,342.6 116.2,343.0 115.6,342.8 115.0,342.4 114.3,341.6 113.7,341.3 113.1,340.5 112.5,340.0 111.9,339.3 111.3,339.1 110.6,339.1 109.9,339.3 109.2,339.8 108.6,340.6 107.9,340.8 107.2,341.0 106.6,341.2 105.9,341.3 105.2,340.9 104.5,340.7 103.9,340.5 103.3,339.8 102.7,339.7 102.0,338.7 101.4,338.4 100.8,337.6 100.2,337.0 99.5,336.4 98.9,335.2 98.3,334.3 97.7,333.3 97.1,333.1 96.5,332.4 95.8,333.0 95.2,333.3 94.6,333.8 94.0,334.5 93.4,334.9 92.7,335.2 92.0,335.0 91.3,334.6 90.6,334.1 90.0,334.1 89.3,333.3 88.7,333.1 88.1,333.6 87.5,334.6 86.8,336.7 86.2,338.6 85.5,340.9 84.9,342.2 84.3,343.5 83.7,344.8 83.0,345.4 82.3,346.1 81.6,346.8 80.8,346.4 80.1,346.4 79.5,345.7 78.9,344.8 78.3,343.5 77.7,342.6 77.0,341.7 76.4,341.2 75.8,340.2 75.1,338.9 74.5,338.4 73.8,337.5 73.2,336.5 72.7,336.0 72.0,335.9 71.3,336.4 70.8,336.7 70.2,337.2 69.6,337.5 69.0,337.5 68.3,337.8 67.6,337.3 67.0,336.6 66.3,336.1 65.7,334.7 65.0,333.7 64.2,332.3 63.6,331.6 63.0,330.8 62.4,329.9 61.8,328.9 61.2,328.1 60.5,327.7 59.9,326.7 59.3,325.9 58.6,325.5 58.0,324.4 57.3,324.1 56.7,323.0 56.1,322.8 55.6,322.5 54.9,321.8 54.4,321.4 53.8,321.1 53.1,321.5 52.6,322.0 52.0,322.4 51.3,322.6 50.7,323.4 50.0,323.7 49.4,324.4 48.8,324.5 48.0,324.3 47.3,323.5 46.6,323.3 46.0,322.5 45.4,321.8 44.4,318.4 43.7,315.1 42.9,315.1 42.0,315.3 41.3,315.0 40.6,314.3 39.8,314.2 39.0,315.2 38.2,316.8 37.6,318.4" fill="rgba(105,105,255,0.29)" stroke="none" clip-path="url(#cD1)"/>
<polyline points="37.6,306.4 38.2,304.8 39.0,303.2 39.8,302.2 40.6,302.3 41.3,303.0 42.0,303.3 42.9,303.1 43.7,303.1 44.4,306.4 45.4,309.8 46.0,310.5 46.6,311.3 47.3,311.5 48.0,312.3 48.8,312.5 49.4,312.4 50.0,311.7 50.7,311.4 51.3,310.6 52.0,310.4 52.6,310.0 53.1,309.5 53.8,309.4 54.4,309.9 54.9,310.5 55.6,311.5 56.1,311.9 56.7,312.4 57.3,313.7 58.0,314.2 58.6,315.6 59.3,316.2 59.9,317.2 60.5,318.4 61.2,319.0 61.8,320.1 62.4,321.3 63.0,322.4 63.6,323.5 64.2,324.3 65.0,325.7 65.7,326.7 66.3,328.2 67.0,328.7 67.6,329.4 68.3,330.0 69.0,329.7 69.6,329.7 70.2,329.4 70.8,329.0 71.3,328.7 72.0,328.2 72.7,328.3 73.2,328.8 73.8,329.8 74.5,330.7 75.1,331.3 75.8,332.7 76.4,333.6 77.0,334.1 77.7,335.1 78.3,335.7 78.9,336.7 79.5,337.3 80.1,337.6 80.8,337.0 81.6,337.0 82.3,335.8 83.0,334.6 83.7,333.6 84.3,332.0 84.9,330.2 85.5,328.5 86.2,325.8 86.8,323.4 87.5,320.9 88.1,319.7 88.7,319.3 89.3,319.7 90.0,320.7 90.6,320.9 91.3,321.5 92.0,322.2 92.7,322.6 93.4,322.5 94.0,322.2 94.6,321.6 95.2,321.4 95.8,321.2 96.5,320.9 97.1,321.8 97.7,322.2 98.3,323.3 98.9,324.4 99.5,325.8 100.2,326.6 100.8,327.4 101.4,328.4 102.0,328.9 102.7,330.1 103.3,330.5 103.9,331.3 104.5,331.7 105.2,332.1 105.9,332.5 106.6,332.5 107.2,332.4 107.9,332.3 108.6,332.2 109.2,331.5 109.9,331.1 110.6,331.0 111.3,331.1 111.9,331.4 112.5,332.1 113.1,332.7 113.7,333.7 114.3,334.1 115.0,335.0 115.6,335.5 116.2,335.7 116.8,335.4 117.4,335.3 118.1,335.6 118.7,335.0 119.3,335.5 119.9,335.5 120.5,335.3 121.1,335.8 121.7,336.5 122.4,336.7 123.0,337.1 123.6,338.0 124.2,338.2 124.8,338.8 125.4,338.8 126.0,339.4 126.6,339.9 127.2,339.8 127.8,340.1 128.4,340.5 129.0,340.5 129.6,340.3 130.3,339.4 130.9,339.1 131.5,338.9 132.1,338.4 132.7,338.3 133.4,338.1 134.1,338.3 134.8,338.8 135.4,339.1 136.1,339.5 136.8,339.4 137.5,339.1 138.1,338.4 138.8,338.1 139.5,338.0 140.2,338.5 141.0,339.0 141.7,339.3 142.4,339.1 143.0,339.2 143.9,339.5 144.5,338.6 145.0,338.4" fill="none" stroke="#2a2af2" stroke-width="1.15" stroke-linejoin="round" clip-path="url(#cD1)"/>
<rect x="69.5" y="216" width="73.0" height="21" rx="1.5" fill="#eef0f7" fill-opacity="0.85" stroke="#dcdee8" stroke-width="0.6"/>
<line x1="72.5" y1="221.8" x2="86" y2="221.8" stroke="#3a3aff" stroke-width="1.4"/>
<text transform="translate(91.00 224.40) rotate(0) scale(0.925 1)" x="0" y="0" font-size="7.452000000000001" text-anchor="start" font-family='"Liberation Serif", serif' fill="#111" >OPEN</text>
<line x1="72.5" y1="231.3" x2="86" y2="231.3" stroke="#b0b0b0" stroke-width="1.6"/>
<text transform="translate(91.00 233.90) rotate(0) scale(0.925 1)" x="0" y="0" font-size="7.452000000000001" text-anchor="start" font-family='"Liberation Serif", serif' fill="#111" >OPEN SHUFFLE</text>
<text x="35.00" y="336.90" font-size="7.2" text-anchor="end" font-family='"Liberation Serif", serif' fill="#111" >0.06</text>
<text x="35.00" y="310.15" font-size="7.2" text-anchor="end" font-family='"Liberation Serif", serif' fill="#111" >0.08</text>
<text x="35.00" y="283.40" font-size="7.2" text-anchor="end" font-family='"Liberation Serif", serif' fill="#111" >0.10</text>
<text x="35.00" y="256.65" font-size="7.2" text-anchor="end" font-family='"Liberation Serif", serif' fill="#111" >0.12</text>
<text x="35.00" y="229.90" font-size="7.2" text-anchor="end" font-family='"Liberation Serif", serif' fill="#111" >0.14</text>
<text x="83.90" y="361.70" font-size="7.4" text-anchor="middle" font-family='"Liberation Serif", serif' fill="#111" >20</text>
<text x="132.20" y="361.70" font-size="7.4" text-anchor="middle" font-family='"Liberation Serif", serif' fill="#111" >40</text>
<text transform="translate(92.90 373.20) rotate(0) scale(0.915 1)" x="0" y="0" font-size="10.6" text-anchor="middle" font-family='"Liberation Serif", serif' fill="#111" >FREQUENCY (HZ)</text>
<rect x="172" y="214.6" width="107.5" height="138.79999999999998" fill="#e9ebf4"/>
<line x1="172" y1="334.4" x2="279.5" y2="334.4" stroke="#fff" stroke-opacity="0.75" stroke-width="0.8"/>
<line x1="172" y1="307.65" x2="279.5" y2="307.65" stroke="#fff" stroke-opacity="0.75" stroke-width="0.8"/>
<line x1="172" y1="280.9" x2="279.5" y2="280.9" stroke="#fff" stroke-opacity="0.75" stroke-width="0.8"/>
<line x1="172" y1="254.14999999999998" x2="279.5" y2="254.14999999999998" stroke="#fff" stroke-opacity="0.75" stroke-width="0.8"/>
<line x1="172" y1="227.39999999999995" x2="279.5" y2="227.39999999999995" stroke="#fff" stroke-opacity="0.75" stroke-width="0.8"/>
<line x1="218.2" y1="214.6" x2="218.2" y2="353.4" stroke="#fff" stroke-opacity="0.75" stroke-width="0.8"/>
<line x1="267.4" y1="214.6" x2="267.4" y2="353.4" stroke="#fff" stroke-opacity="0.75" stroke-width="0.8"/>
<line x1="179.3" y1="214.6" x2="179.3" y2="353.4" stroke="#5c5c5c" stroke-width="0.7" stroke-dasharray="1.6,1.4"/>
<line x1="188.8" y1="214.6" x2="188.8" y2="353.4" stroke="#5c5c5c" stroke-width="0.7" stroke-dasharray="1.6,1.4"/>
<line x1="198.6" y1="214.6" x2="198.6" y2="353.4" stroke="#5c5c5c" stroke-width="0.7" stroke-dasharray="1.6,1.4"/>
<line x1="243" y1="214.6" x2="243" y2="353.4" stroke="#5c5c5c" stroke-width="0.7" stroke-dasharray="1.6,1.4"/>
<polygon points="171.8,319.5 172.2,320.0 172.8,320.5 173.4,321.1 174.1,321.9 174.8,322.2 175.5,323.3 176.1,324.1 176.7,324.3 177.3,325.1 178.0,326.0 178.6,326.3 179.2,326.7 179.8,327.1 180.4,327.7 181.0,327.6 181.7,328.5 182.3,328.7 182.9,328.9 183.5,329.3 184.2,329.5 184.8,329.6 185.4,330.0 186.0,330.3 186.6,330.9 187.3,331.6 187.9,332.1 188.5,333.3 189.3,333.5 189.9,333.3 190.5,332.8 191.1,331.8 191.8,331.4 192.5,330.7 193.2,330.1 193.9,329.9 194.6,329.9 195.2,330.0 195.9,330.6 196.5,330.6 197.2,331.4 197.8,332.0 198.5,332.1 199.2,332.7 199.8,333.3 200.5,333.8 201.2,333.9 201.9,334.8 202.5,334.8 203.1,334.7 203.8,334.7 204.4,334.2 205.0,333.7 205.6,333.0 206.2,333.0 206.8,332.5 207.4,332.7 208.0,333.2 208.5,333.9 209.1,333.7 209.8,334.4 210.5,334.5 211.0,333.8 211.6,333.3 212.2,332.4 212.9,331.7 213.5,330.9 214.2,329.9 214.8,329.3 215.4,329.3 216.0,328.7 216.7,328.7 217.4,329.2 218.0,329.3 218.7,330.1 219.3,330.5 220.0,331.2 220.6,331.2 221.2,332.1 221.8,332.8 222.4,333.0 223.0,334.3 223.7,334.3 224.3,334.9 225.0,335.0 225.6,335.2 226.1,335.2 226.8,334.6 227.4,335.0 228.0,334.3 228.6,334.1 229.3,333.8 229.9,333.4 230.5,333.2 231.1,333.3 231.7,333.1 232.3,332.8 232.9,333.0 233.5,332.7 234.2,332.4 234.8,332.5 235.4,332.2 236.0,332.2 236.6,332.4 237.2,331.8 237.8,331.9 238.4,331.4 239.1,330.6 239.7,331.0 240.3,330.8 240.9,330.2 241.6,330.9 242.2,330.8 242.8,331.3 243.5,332.3 244.1,332.4 244.7,333.4 245.4,334.4 246.1,334.9 246.7,335.3 247.4,336.1 248.0,336.3 248.6,336.3 249.3,335.9 249.9,336.1 250.5,335.8 251.1,335.3 251.8,334.9 252.4,334.9 253.1,334.4 253.7,334.4 254.4,334.4 255.0,334.2 255.6,334.1 256.2,334.4 256.8,334.3 257.4,334.6 258.0,334.6 258.7,335.0 259.3,335.0 259.9,334.9 260.6,334.6 261.2,334.6 261.8,335.1 262.4,334.9 263.0,334.7 263.7,334.3 264.3,334.1 264.9,334.2 265.6,333.9 266.2,333.7 266.8,333.6 267.4,333.5 268.0,333.1 268.6,333.1 269.2,333.6 269.9,333.8 270.6,334.1 271.3,333.9 271.9,334.4 272.6,335.1 273.2,335.7 273.9,336.3 274.5,336.3 275.0,336.9 275.6,336.7 276.4,336.6 277.1,336.7 277.9,336.2 278.5,335.7 279.1,335.0 279.6,334.6 280.0,334.1 280.0,344.1 279.6,344.6 279.1,345.0 278.5,345.7 277.9,346.2 277.1,346.7 276.4,346.6 275.6,346.7 275.0,346.9 274.5,346.3 273.9,346.3 273.2,345.7 272.6,345.1 271.9,344.4 271.3,343.9 270.6,344.1 269.9,343.8 269.2,343.6 268.6,343.1 268.0,343.1 267.4,343.5 266.8,343.6 266.2,343.7 265.6,343.9 264.9,344.2 264.3,344.1 263.7,344.3 263.0,344.7 262.4,344.9 261.8,345.1 261.2,344.6 260.6,344.6 259.9,344.9 259.3,345.0 258.7,345.0 258.0,344.6 257.4,344.6 256.8,344.3 256.2,344.4 255.6,344.1 255.0,344.2 254.4,344.4 253.7,344.4 253.1,344.4 252.4,344.9 251.8,344.9 251.1,345.3 250.5,345.8 249.9,346.1 249.3,345.9 248.6,346.3 248.0,346.3 247.4,346.1 246.7,345.3 246.1,344.9 245.4,344.4 244.7,343.4 244.1,342.4 243.5,342.3 242.8,341.3 242.2,340.8 241.6,340.9 240.9,340.2 240.3,340.8 239.7,341.0 239.1,340.6 238.4,341.4 237.8,341.9 237.2,341.8 236.6,342.4 236.0,342.2 235.4,342.2 234.8,342.5 234.2,342.4 233.5,342.7 232.9,343.0 232.3,342.8 231.7,343.1 231.1,343.3 230.5,343.2 229.9,343.4 229.3,343.8 228.6,344.1 228.0,344.3 227.4,345.0 226.8,344.6 226.1,345.2 225.6,345.2 225.0,345.0 224.3,344.9 223.7,344.3 223.0,344.3 222.4,343.0 221.8,342.8 221.2,342.1 220.6,341.2 220.0,341.2 219.3,340.5 218.7,340.1 218.0,339.3 217.4,339.2 216.7,338.7 216.0,338.7 215.4,339.3 214.8,339.3 214.2,339.9 213.5,340.9 212.9,341.7 212.2,342.4 211.6,343.3 211.0,343.8 210.5,344.5 209.8,344.4 209.1,343.7 208.5,343.9 208.0,343.2 207.4,342.7 206.8,342.5 206.2,343.0 205.6,343.0 205.0,343.7 204.4,344.2 203.8,344.7 203.1,344.7 202.5,344.8 201.9,344.8 201.2,343.9 200.5,343.8 199.8,343.3 199.2,342.7 198.5,342.1 197.8,342.0 197.2,341.4 196.5,340.6 195.9,340.6 195.2,340.0 194.6,339.9 193.9,339.9 193.2,340.1 192.5,340.7 191.8,341.4 191.1,341.8 190.5,342.8 189.9,343.3 189.3,343.5 188.5,343.3 187.9,342.1 187.3,341.6 186.6,340.9 186.0,340.3 185.4,340.0 184.8,339.6 184.2,339.5 183.5,339.3 182.9,338.9 182.3,338.7 181.7,338.5 181.0,337.6 180.4,337.7 179.8,337.1 179.2,336.7 178.6,336.3 178.0,336.0 177.3,335.1 176.7,334.3 176.1,334.1 175.5,333.3 174.8,332.2 174.1,331.9 173.4,331.1 172.8,330.5 172.2,330.0 171.8,329.5" fill="rgba(160,160,160,0.35)" stroke="none" clip-path="url(#cD2)"/>
<polyline points="171.8,324.5 172.2,325.0 172.8,325.5 173.4,326.1 174.1,326.9 174.8,327.2 175.5,328.3 176.1,329.1 176.7,329.3 177.3,330.1 178.0,331.0 178.6,331.3 179.2,331.7 179.8,332.1 180.4,332.7 181.0,332.6 181.7,333.5 182.3,333.7 182.9,333.9 183.5,334.3 184.2,334.5 184.8,334.6 185.4,335.0 186.0,335.3 186.6,335.9 187.3,336.6 187.9,337.1 188.5,338.3 189.3,338.5 189.9,338.3 190.5,337.8 191.1,336.8 191.8,336.4 192.5,335.7 193.2,335.1 193.9,334.9 194.6,334.9 195.2,335.0 195.9,335.6 196.5,335.6 197.2,336.4 197.8,337.0 198.5,337.1 199.2,337.7 199.8,338.3 200.5,338.8 201.2,338.9 201.9,339.8 202.5,339.8 203.1,339.7 203.8,339.7 204.4,339.2 205.0,338.7 205.6,338.0 206.2,338.0 206.8,337.5 207.4,337.7 208.0,338.2 208.5,338.9 209.1,338.7 209.8,339.4 210.5,339.5 211.0,338.8 211.6,338.3 212.2,337.4 212.9,336.7 213.5,335.9 214.2,334.9 214.8,334.3 215.4,334.3 216.0,333.7 216.7,333.7 217.4,334.2 218.0,334.3 218.7,335.1 219.3,335.5 220.0,336.2 220.6,336.2 221.2,337.1 221.8,337.8 222.4,338.0 223.0,339.3 223.7,339.3 224.3,339.9 225.0,340.0 225.6,340.2 226.1,340.2 226.8,339.6 227.4,340.0 228.0,339.3 228.6,339.1 229.3,338.8 229.9,338.4 230.5,338.2 231.1,338.3 231.7,338.1 232.3,337.8 232.9,338.0 233.5,337.7 234.2,337.4 234.8,337.5 235.4,337.2 236.0,337.2 236.6,337.4 237.2,336.8 237.8,336.9 238.4,336.4 239.1,335.6 239.7,336.0 240.3,335.8 240.9,335.2 241.6,335.9 242.2,335.8 242.8,336.3 243.5,337.3 244.1,337.4 244.7,338.4 245.4,339.4 246.1,339.9 246.7,340.3 247.4,341.1 248.0,341.3 248.6,341.3 249.3,340.9 249.9,341.1 250.5,340.8 251.1,340.3 251.8,339.9 252.4,339.9 253.1,339.4 253.7,339.4 254.4,339.4 255.0,339.2 255.6,339.1 256.2,339.4 256.8,339.3 257.4,339.6 258.0,339.6 258.7,340.0 259.3,340.0 259.9,339.9 260.6,339.6 261.2,339.6 261.8,340.1 262.4,339.9 263.0,339.7 263.7,339.3 264.3,339.1 264.9,339.2 265.6,338.9 266.2,338.7 266.8,338.6 267.4,338.5 268.0,338.1 268.6,338.1 269.2,338.6 269.9,338.8 270.6,339.1 271.3,338.9 271.9,339.4 272.6,340.1 273.2,340.7 273.9,341.3 274.5,341.3 275.0,341.9 275.6,341.7 276.4,341.6 277.1,341.7 277.9,341.2 278.5,340.7 279.1,340.0 279.6,339.6 280.0,339.1" fill="none" stroke="#7c7c7c" stroke-width="0.9" stroke-linejoin="round" clip-path="url(#cD2)"/>
<polygon points="171.8,313.9 172.2,314.0 172.8,313.9 173.4,313.2 174.1,312.9 174.8,313.0 175.5,312.6 176.1,312.2 176.8,311.5 177.4,311.1 178.1,310.5 178.7,310.2 179.2,309.1 180.1,307.4 180.8,305.6 181.4,301.4 182.2,294.1 182.9,285.8 183.8,276.3 184.7,265.6 185.6,253.3 186.3,242.6 187.2,233.6 188.0,229.5 188.9,233.1 189.5,237.1 190.2,242.9 190.8,249.8 191.5,258.5 192.1,267.3 192.7,274.2 193.3,280.9 193.9,286.9 194.5,291.6 195.1,296.2 195.8,300.6 196.4,302.3 197.0,303.0 197.7,303.7 198.5,304.9 199.1,306.2 199.7,307.2 200.3,308.4 201.0,309.9 201.6,310.9 202.2,311.7 202.9,311.7 203.6,311.3 204.3,310.2 205.0,309.0 205.7,306.8 206.4,304.2 207.2,301.4 207.9,299.5 208.6,298.2 209.3,298.7 210.0,300.9 210.7,303.6 211.4,306.0 212.1,307.7 212.8,309.6 213.6,311.2 214.3,313.1 215.0,314.4 215.7,315.1 216.4,315.6 217.1,315.5 217.8,315.3 218.4,315.7 219.0,315.9 219.6,315.6 220.2,315.6 220.9,315.9 221.5,315.8 222.2,315.5 222.9,315.3 223.7,314.6 224.3,314.1 225.0,312.9 225.7,312.2 226.4,311.2 227.1,309.4 227.8,307.8 228.5,306.5 229.1,304.7 229.9,302.2 230.6,300.6 231.4,298.8 232.0,298.3 232.6,297.4 233.3,296.4 233.9,295.8 234.5,295.6 235.1,295.2 235.7,295.3 236.4,295.5 237.0,296.4 237.5,297.9 238.1,299.1 238.8,300.6 239.4,301.9 240.0,303.5 240.7,305.1 241.3,306.9 242.0,308.3 242.7,310.2 243.4,311.5 244.1,313.0 244.7,314.4 245.4,315.8 246.0,317.1 246.7,318.2 247.3,318.8 248.0,319.1 248.7,319.0 249.3,318.3 250.0,316.9 250.6,315.7 251.3,314.4 251.9,314.0 252.6,314.0 253.3,314.3 253.9,315.3 254.6,316.8 255.2,318.6 255.9,320.2 256.5,322.1 257.2,322.8 257.8,323.9 258.5,324.6 259.1,325.7 259.8,326.4 260.4,326.7 261.1,327.2 261.8,328.1 262.4,328.5 263.0,328.9 263.6,328.6 264.2,328.9 264.9,329.1 265.5,329.3 266.1,329.5 266.7,330.0 267.3,330.1 268.0,330.1 268.7,330.3 269.4,330.6 270.1,330.8 270.7,331.3 271.3,331.1 271.9,331.1 272.7,330.8 273.4,329.8 274.0,328.6 274.7,328.0 275.4,327.0 276.1,325.4 276.7,324.5 277.4,324.1 278.1,323.8 278.9,324.0 279.5,324.5 280.0,325.4 280.0,335.4 279.5,334.5 278.9,334.0 278.1,333.8 277.4,334.1 276.7,334.5 276.1,335.4 275.4,337.0 274.7,338.0 274.0,338.6 273.4,339.8 272.7,340.8 271.9,341.1 271.3,341.1 270.7,341.3 270.1,340.8 269.4,340.6 268.7,340.3 268.0,340.1 267.3,340.1 266.7,340.0 266.1,339.5 265.5,339.3 264.9,339.1 264.2,338.9 263.6,338.6 263.0,338.9 262.4,338.5 261.8,338.3 261.1,338.0 260.4,338.0 259.8,338.3 259.1,338.1 258.5,337.6 257.8,337.4 257.2,336.9 256.5,336.8 255.9,335.4 255.2,334.4 254.6,333.1 253.9,332.2 253.3,331.7 252.6,332.0 251.9,332.2 251.3,332.8 250.6,334.3 250.0,335.8 249.3,337.3 248.7,338.2 248.0,338.5 247.3,338.4 246.7,338.0 246.0,337.1 245.4,336.0 244.7,334.8 244.1,333.6 243.4,332.3 242.7,331.2 242.0,329.6 241.3,328.4 240.7,326.8 240.0,325.4 239.4,324.0 238.8,322.8 238.1,321.6 237.5,320.5 237.0,319.2 236.4,318.5 235.7,318.5 235.1,318.2 234.5,318.4 233.9,318.3 233.3,318.7 232.6,319.4 232.0,320.0 231.4,320.4 230.6,321.9 229.9,323.2 229.1,325.4 228.5,326.9 227.8,327.9 227.1,329.3 226.4,330.8 225.7,331.5 225.0,332.0 224.3,332.9 223.7,333.2 222.9,333.6 222.2,333.5 221.5,333.5 220.9,333.4 220.2,332.8 219.6,332.6 219.0,332.6 218.4,332.2 217.8,331.6 217.1,331.6 216.4,331.9 215.7,331.7 215.0,331.4 214.3,330.3 213.6,328.9 212.8,327.6 212.1,326.1 211.4,324.7 210.7,322.6 210.0,320.3 209.3,318.4 208.6,318.2 207.9,318.9 207.2,320.2 206.4,322.2 205.7,324.2 205.0,325.7 204.3,326.2 203.6,326.8 202.9,326.6 202.2,325.8 201.6,325.0 201.0,324.3 200.3,322.9 199.7,322.0 199.1,321.2 198.5,320.1 197.7,319.1 197.0,318.7 196.4,318.2 195.8,317.5 195.1,316.4 194.5,314.6 193.9,312.7 193.3,309.5 192.7,306.1 192.1,303.0 191.5,298.4 190.8,293.9 190.2,289.1 189.5,284.0 188.9,280.4 188.0,277.5 187.2,280.8 186.3,288.9 185.6,296.8 184.7,304.3 183.8,309.9 182.9,313.9 182.2,317.6 181.4,320.0 180.8,321.3 180.1,322.5 179.2,323.3 178.7,324.1 178.1,324.2 177.4,324.7 176.8,324.9 176.1,325.4 175.5,325.6 174.8,325.9 174.1,325.6 173.4,325.6 172.8,326.1 172.2,326.1 171.8,325.9" fill="rgba(238,90,105,0.3)" stroke="none" clip-path="url(#cD2)"/>
<polyline points="171.8,319.9 172.2,320.1 172.8,320.0 173.4,319.4 174.1,319.3 174.8,319.5 175.5,319.1 176.1,318.8 176.8,318.2 177.4,317.9 178.1,317.3 178.7,317.1 179.2,316.2 180.1,315.0 180.8,313.4 181.4,310.7 182.2,305.9 182.9,299.8 183.8,293.1 184.7,285.0 185.6,275.1 186.3,265.8 187.2,257.2 188.0,253.5 188.9,256.7 189.5,260.6 190.2,266.0 190.8,271.9 191.5,278.5 192.1,285.2 192.7,290.2 193.3,295.2 193.9,299.8 194.5,303.1 195.1,306.3 195.8,309.0 196.4,310.3 197.0,310.8 197.7,311.4 198.5,312.5 199.1,313.7 199.7,314.6 200.3,315.6 201.0,317.1 201.6,317.9 202.2,318.8 202.9,319.1 203.6,319.0 204.3,318.2 205.0,317.4 205.7,315.5 206.4,313.2 207.2,310.8 207.9,309.2 208.6,308.2 209.3,308.5 210.0,310.6 210.7,313.1 211.4,315.3 212.1,316.9 212.8,318.6 213.6,320.1 214.3,321.7 215.0,322.9 215.7,323.4 216.4,323.7 217.1,323.6 217.8,323.4 218.4,323.9 219.0,324.3 219.6,324.1 220.2,324.2 220.9,324.6 221.5,324.6 222.2,324.5 222.9,324.5 223.7,323.9 224.3,323.5 225.0,322.4 225.7,321.9 226.4,321.0 227.1,319.3 227.8,317.8 228.5,316.7 229.1,315.0 229.9,312.7 230.6,311.3 231.4,309.6 232.0,309.2 232.6,308.4 233.3,307.5 233.9,307.0 234.5,307.0 235.1,306.7 235.7,306.9 236.4,307.0 237.0,307.8 237.5,309.2 238.1,310.3 238.8,311.7 239.4,312.9 240.0,314.4 240.7,316.0 241.3,317.7 242.0,318.9 242.7,320.7 243.4,321.9 244.1,323.3 244.7,324.6 245.4,325.9 246.0,327.1 246.7,328.1 247.3,328.6 248.0,328.8 248.7,328.6 249.3,327.8 250.0,326.3 250.6,325.0 251.3,323.6 251.9,323.1 252.6,323.0 253.3,323.0 253.9,323.8 254.6,325.0 255.2,326.5 255.9,327.8 256.5,329.4 257.2,329.8 257.8,330.7 258.5,331.1 259.1,331.9 259.8,332.4 260.4,332.3 261.1,332.6 261.8,333.2 262.4,333.5 263.0,333.9 263.6,333.6 264.2,333.9 264.9,334.1 265.5,334.3 266.1,334.5 266.7,335.0 267.3,335.1 268.0,335.1 268.7,335.3 269.4,335.6 270.1,335.8 270.7,336.3 271.3,336.1 271.9,336.1 272.7,335.8 273.4,334.8 274.0,333.6 274.7,333.0 275.4,332.0 276.1,330.4 276.7,329.5 277.4,329.1 278.1,328.8 278.9,329.0 279.5,329.5 280.0,330.4" fill="none" stroke="#ee3030" stroke-width="1.15" stroke-linejoin="round" clip-path="url(#cD2)"/>
<rect x="203.5" y="216.6" width="73.5" height="19.400000000000006" rx="1.5" fill="#eef0f7" fill-opacity="0.85" stroke="#dcdee8" stroke-width="0.6"/>
<line x1="206.4" y1="221.3" x2="219.4" y2="221.3" stroke="#f03a3a" stroke-width="1.4"/>
<text transform="translate(224.60 223.90) rotate(0) scale(0.925 1)" x="0" y="0" font-size="7.452000000000001" text-anchor="start" font-family='"Liberation Serif", serif' fill="#111" >CLOSE</text>
<line x1="206.4" y1="231.0" x2="219.4" y2="231.0" stroke="#8c8c8c" stroke-width="1.0"/>
<text transform="translate(224.60 233.60) rotate(0) scale(0.925 1)" x="0" y="0" font-size="7.452000000000001" text-anchor="start" font-family='"Liberation Serif", serif' fill="#111" >CLOSE SHUFFLE</text>
<text x="169.40" y="336.90" font-size="7.2" text-anchor="end" font-family='"Liberation Serif", serif' fill="#111" >0.06</text>
<text x="169.40" y="310.15" font-size="7.2" text-anchor="end" font-family='"Liberation Serif", serif' fill="#111" >0.08</text>
<text x="169.40" y="283.40" font-size="7.2" text-anchor="end" font-family='"Liberation Serif", serif' fill="#111" >0.10</text>
<text x="169.40" y="256.65" font-size="7.2" text-anchor="end" font-family='"Liberation Serif", serif' fill="#111" >0.12</text>
<text x="169.40" y="229.90" font-size="7.2" text-anchor="end" font-family='"Liberation Serif", serif' fill="#111" >0.14</text>
<text x="218.20" y="361.70" font-size="7.4" text-anchor="middle" font-family='"Liberation Serif", serif' fill="#111" >20</text>
<text x="267.40" y="361.70" font-size="7.4" text-anchor="middle" font-family='"Liberation Serif", serif' fill="#111" >40</text>
<text transform="translate(224.65 373.20) rotate(0) scale(0.915 1)" x="0" y="0" font-size="10.6" text-anchor="middle" font-family='"Liberation Serif", serif' fill="#111" >FREQUENCY (HZ)</text>
<line x1="330.5" y1="213.5" x2="330.5" y2="352.5" stroke="#666" stroke-width="0.7" stroke-dasharray="1.5,1.5"/>
<line x1="341.4" y1="213.5" x2="341.4" y2="352.5" stroke="#666" stroke-width="0.7" stroke-dasharray="1.5,1.5"/>
<line x1="352.2" y1="213.5" x2="352.2" y2="352.5" stroke="#666" stroke-width="0.7" stroke-dasharray="1.5,1.5"/>
<line x1="400.5" y1="213.5" x2="400.5" y2="352.5" stroke="#666" stroke-width="0.7" stroke-dasharray="1.5,1.5"/>
<polygon points="320.1,332.2 320.6,330.0 321.4,322.9 322.3,314.6 323.1,308.3 324.0,304.6 324.9,304.0 325.7,304.9 326.5,305.4 327.4,306.1 328.0,305.9 328.6,305.8 329.3,305.3 330.0,304.9 330.6,304.3 331.2,304.1 331.9,303.9 332.5,303.4 333.1,303.1 333.8,302.2 334.5,301.2 335.1,299.9 335.8,297.3 336.4,294.6 337.0,291.4 337.6,289.0 338.5,282.8 339.3,276.3 340.5,257.7 341.5,246.7 342.5,240.2 343.5,245.6 344.1,250.7 344.8,256.6 345.6,264.9 346.5,273.6 347.3,281.5 348.2,287.4 348.8,290.4 349.5,292.9 350.2,295.7 350.9,297.4 351.5,298.6 352.1,298.6 352.7,299.2 353.3,299.0 354.0,299.8 354.6,300.6 355.2,301.4 355.9,302.8 356.5,303.3 357.2,303.8 357.8,303.7 358.4,303.3 359.0,302.4 359.6,301.2 360.3,299.6 360.9,298.4 361.5,296.8 362.1,295.8 362.8,294.6 363.4,293.6 364.1,292.5 364.7,291.6 365.3,290.8 366.0,291.4 366.6,292.4 367.3,293.3 367.9,294.7 368.5,295.8 369.1,296.7 369.7,298.5 370.3,299.6 371.0,300.4 371.6,301.7 372.3,302.4 372.9,303.3 373.6,304.1 374.3,304.6 375.0,305.4 375.7,306.1 376.4,307.0 377.1,307.5 377.8,308.0 378.5,308.5 379.2,307.9 379.9,307.6 380.6,306.6 381.3,305.8 382.0,304.7 382.7,304.3 383.4,303.2 384.0,302.6 384.7,301.8 385.4,301.4 386.0,300.7 386.6,299.6 387.2,298.9 387.8,298.4 388.4,297.5 389.0,296.4 389.7,295.6 390.3,294.6 390.9,293.7 391.5,293.2 392.3,292.6 392.9,293.0 393.5,292.9 394.1,293.4 394.8,294.0 395.4,294.7 396.1,295.3 396.7,295.6 397.2,296.1 398.0,297.2 398.7,298.1 399.3,299.4 400.0,300.7 400.6,301.6 401.2,302.1 401.8,302.8 402.4,303.7 403.2,304.6 403.7,305.9 404.4,307.3 405.0,309.1 405.7,310.2 406.3,311.8 407.0,313.2 407.6,314.4 408.1,315.1 409.0,315.2 409.7,314.4 410.3,313.8 411.0,313.1 411.6,312.3 412.1,311.5 412.7,310.9 413.3,310.3 414.0,310.6 414.5,311.1 415.1,311.3 415.7,312.1 416.3,312.9 417.0,313.3 417.6,314.5 418.3,315.0 418.9,315.3 419.5,315.6 420.1,316.1 420.8,316.5 421.4,316.9 422.0,316.9 422.7,317.5 423.3,317.4 423.9,317.7 424.5,317.8 425.1,318.7 425.7,318.6 426.4,319.5 427.0,319.6 427.6,320.0 428.2,320.3 428.8,320.4 429.4,321.0 430.0,321.2 430.6,321.3 431.2,321.3 431.9,321.2 432.5,321.7 433.1,321.3 433.7,321.6 434.3,321.0 435.0,320.9 435.7,320.7 436.3,319.9 437.0,319.7 437.6,319.0 438.2,318.6 438.7,318.4 439.6,318.3 440.5,317.7 441.1,317.1 441.6,316.6 441.6,326.6 441.1,327.1 440.5,327.8 439.6,328.5 438.7,328.7 438.2,329.0 437.6,329.4 437.0,330.2 436.3,330.5 435.7,331.4 435.0,331.7 434.3,331.8 433.7,332.5 433.1,332.2 432.5,332.6 431.9,332.2 431.2,332.5 430.6,332.5 430.0,332.5 429.4,332.3 428.8,331.8 428.2,331.7 427.6,331.5 427.0,331.2 426.4,331.1 425.7,330.3 425.1,330.5 424.5,329.7 423.9,329.6 423.3,329.4 422.7,329.5 422.0,329.0 421.4,329.1 420.8,328.8 420.1,328.4 419.5,328.0 418.9,327.8 418.3,327.5 417.6,327.1 417.0,326.0 416.3,325.6 415.7,324.9 415.1,324.2 414.5,324.0 414.0,323.6 413.3,323.4 412.7,324.1 412.1,324.7 411.6,325.6 411.0,326.4 410.3,327.2 409.7,327.9 409.0,328.8 408.1,328.7 407.6,328.1 407.0,326.9 406.3,325.6 405.7,324.1 405.0,323.1 404.4,321.7 403.7,320.6 403.2,319.6 402.4,319.2 401.8,318.7 401.2,318.4 400.6,318.2 400.0,317.6 399.3,316.7 398.7,315.7 398.0,315.3 397.2,314.7 396.7,314.5 396.1,314.5 395.4,314.3 394.8,314.0 394.1,313.8 393.5,313.7 392.9,313.9 392.3,313.3 391.5,313.7 390.9,314.0 390.3,314.7 389.7,315.5 389.0,316.1 388.4,316.9 387.8,317.7 387.2,318.0 386.6,318.5 386.0,319.3 385.4,319.8 384.7,320.0 384.0,320.6 383.4,321.0 382.7,321.9 382.0,322.1 381.3,322.9 380.6,323.4 379.9,324.3 379.2,324.3 378.5,324.6 377.8,323.9 377.1,323.2 376.4,322.5 375.7,321.3 375.0,320.4 374.3,319.8 373.6,319.4 372.9,318.7 372.3,318.0 371.6,317.4 371.0,316.2 370.3,315.5 369.7,314.5 369.1,312.9 368.5,312.1 367.9,311.1 367.3,309.8 366.6,309.1 366.0,308.2 365.3,307.8 364.7,308.5 364.1,309.2 363.4,310.2 362.8,310.9 362.1,311.9 361.5,312.7 360.9,314.1 360.3,315.2 359.6,316.6 359.0,317.6 358.4,318.3 357.8,318.6 357.2,318.5 356.5,317.7 355.9,317.0 355.2,315.5 354.6,314.8 354.0,314.3 353.3,313.9 352.7,314.3 352.1,314.0 351.5,314.4 350.9,313.5 350.2,312.1 349.5,309.7 348.8,307.5 348.2,304.8 347.3,299.4 346.5,294.4 345.6,290.5 344.8,286.9 344.1,284.8 343.5,283.1 342.5,283.2 341.5,283.7 340.5,288.7 339.3,300.1 338.5,302.0 337.6,304.9 337.0,307.0 336.4,310.0 335.8,312.4 335.1,314.9 334.5,315.9 333.8,316.6 333.1,317.3 332.5,317.3 331.9,317.6 331.2,317.6 330.6,317.5 330.0,317.9 329.3,318.2 328.6,318.6 328.0,318.7 327.4,318.9 326.5,318.1 325.7,317.4 324.9,316.5 324.0,317.0 323.1,320.6 322.3,326.8 321.4,335.0 320.6,342.1 320.1,344.2" fill="rgba(110,80,150,0.25)" stroke="none" clip-path="url(#cE)"/>
<polygon points="320.1,331.1 320.6,329.1 321.4,321.7 322.3,313.8 323.1,308.8 324.0,305.1 324.5,304.7 325.1,304.9 325.7,305.1 326.4,305.5 327.0,305.8 327.6,305.4 328.2,305.3 328.8,304.9 329.4,304.7 330.0,304.3 330.7,304.2 331.3,303.5 331.9,303.5 332.5,302.9 333.1,303.3 333.8,303.1 334.5,302.7 335.1,301.7 335.8,299.7 336.4,297.0 337.0,294.0 337.6,291.2 338.5,285.9 339.3,280.3 340.5,264.3 341.5,254.8 342.5,249.9 343.5,253.3 344.1,257.1 344.8,262.3 345.6,268.9 346.5,276.3 347.1,280.8 347.7,284.9 348.5,288.0 349.0,289.2 349.6,290.9 350.2,292.2 350.9,293.3 351.6,294.3 352.2,295.3 352.8,295.8 353.5,296.7 354.1,296.9 354.7,297.1 355.3,297.6 356.0,298.0 356.6,298.5 357.2,299.0 357.9,300.1 358.5,300.6 359.1,300.9 359.7,301.1 360.5,300.7 361.1,299.7 361.8,298.5 362.5,298.1 363.1,297.5 363.8,296.8 364.5,296.4 365.1,295.7 365.7,295.7 366.5,295.6 367.2,296.8 368.0,297.6 368.6,298.5 369.2,298.8 369.9,300.1 370.6,300.5 371.2,301.3 371.8,302.1 372.5,302.2 373.1,302.9 373.8,303.5 374.5,304.1 375.2,304.6 375.9,305.8 376.6,306.4 377.2,306.8 377.9,307.3 378.5,307.6 379.2,307.2 379.8,306.8 380.4,306.7 380.9,305.7 381.5,305.3 382.2,305.0 382.9,304.4 383.7,303.5 384.4,302.6 385.0,301.9 385.6,301.4 386.3,300.5 386.9,299.2 387.5,298.7 388.2,297.4 388.8,296.5 389.5,295.3 390.3,294.3 390.9,293.0 391.5,290.9 392.2,289.3 392.9,287.4 393.6,286.5 394.3,285.4 394.9,285.5 395.5,286.5 396.1,287.1 396.7,288.5 397.3,289.6 398.0,290.7 398.6,291.4 399.2,292.8 399.8,293.8 400.4,294.4 401.1,295.1 401.7,296.2 402.3,297.1 402.9,298.2 403.5,298.7 404.1,299.4 404.8,300.3 405.5,301.3 406.1,302.1 406.7,302.4 407.4,303.1 408.1,303.6 408.7,303.6 409.3,303.5 409.9,303.5 410.5,303.8 411.1,303.6 411.7,303.3 412.4,303.5 413.0,303.3 413.6,303.9 414.2,303.7 414.9,304.0 415.5,304.3 416.1,304.3 416.8,304.9 417.4,305.1 418.0,305.4 418.6,306.2 419.2,306.2 419.8,306.9 420.5,307.7 421.1,308.0 421.7,308.5 422.3,309.3 422.9,309.6 423.5,310.5 424.1,311.1 424.7,311.1 425.3,311.9 426.0,312.5 426.6,312.8 427.2,313.6 427.8,313.8 428.4,314.1 429.0,314.7 429.7,315.2 430.3,315.4 430.9,315.9 431.6,316.3 432.2,316.4 432.8,316.6 433.4,316.9 434.1,316.9 434.7,316.7 435.3,316.9 435.9,316.4 436.5,316.6 437.1,316.1 437.7,316.2 438.5,315.8 439.2,315.5 440.0,315.4 440.6,315.0 441.2,314.7 441.6,314.1 441.6,326.1 441.2,326.7 440.6,327.1 440.0,327.5 439.2,327.7 438.5,328.0 437.7,328.5 437.1,328.4 436.5,329.0 435.9,328.8 435.3,329.4 434.7,329.2 434.1,329.4 433.4,329.5 432.8,329.2 432.2,329.1 431.6,329.0 430.9,328.7 430.3,328.2 429.7,328.0 429.0,327.6 428.4,327.0 427.8,326.8 427.2,326.6 426.6,325.9 426.0,325.6 425.3,325.0 424.7,324.2 424.1,324.3 423.5,323.8 422.9,322.9 422.3,322.6 421.7,321.9 421.1,321.4 420.5,321.2 419.8,320.4 419.2,319.8 418.6,319.8 418.0,319.1 417.4,318.8 416.8,318.6 416.1,318.0 415.5,318.1 414.9,317.9 414.2,317.6 413.6,317.8 413.0,317.2 412.4,317.7 411.7,317.7 411.1,318.2 410.5,318.8 409.9,318.7 409.3,319.0 408.7,319.4 408.1,319.6 407.4,319.4 406.7,319.1 406.1,319.0 405.5,318.5 404.8,317.8 404.1,317.2 403.5,316.7 402.9,316.5 402.3,315.7 401.7,315.0 401.1,314.3 400.4,313.8 399.8,313.5 399.2,312.7 398.6,311.6 398.0,311.2 397.3,310.3 396.7,309.5 396.1,308.4 395.5,308.0 394.9,307.4 394.3,307.3 393.6,308.3 392.9,308.9 392.2,310.7 391.5,312.1 390.9,314.1 390.3,315.2 389.5,315.9 388.8,317.0 388.2,317.7 387.5,318.8 386.9,319.1 386.3,320.3 385.6,321.0 385.0,321.3 384.4,321.9 383.7,322.6 382.9,323.3 382.2,323.6 381.5,323.7 380.9,324.0 380.4,324.9 379.8,324.8 379.2,325.0 378.5,325.3 377.9,324.7 377.2,324.1 376.6,323.6 375.9,322.7 375.2,321.3 374.5,320.7 373.8,319.9 373.1,319.1 372.5,318.2 371.8,318.0 371.2,317.0 370.6,316.0 369.9,315.4 369.2,314.0 368.6,313.5 368.0,312.4 367.2,311.4 366.5,310.0 365.7,309.9 365.1,309.7 364.5,310.4 363.8,310.9 363.1,311.8 362.5,312.4 361.8,312.9 361.1,314.1 360.5,315.2 359.7,315.7 359.1,315.5 358.5,315.3 357.9,314.9 357.2,313.8 356.6,313.4 356.0,313.0 355.3,312.6 354.7,312.3 354.1,312.1 353.5,312.0 352.8,311.2 352.2,310.7 351.6,309.7 350.9,308.8 350.2,307.9 349.6,306.6 349.0,304.9 348.5,303.8 347.7,300.8 347.1,296.8 346.5,293.7 345.6,288.6 344.8,284.2 344.1,280.8 343.5,278.6 342.5,277.9 341.5,279.7 340.5,286.1 339.3,298.3 338.5,301.5 337.6,305.1 337.0,307.8 336.4,310.6 335.8,313.2 335.1,315.0 334.5,315.9 333.8,316.1 333.1,316.2 332.5,315.7 331.9,316.2 331.3,316.0 330.7,316.5 330.0,316.5 329.4,316.8 328.8,316.8 328.2,317.1 327.6,317.1 327.0,317.3 326.4,317.0 325.7,316.3 325.1,316.1 324.5,315.7 324.0,316.0 323.1,319.4 322.3,324.3 321.4,332.0 320.6,339.2 320.1,341.1" fill="rgba(80,190,180,0.22)" stroke="none" clip-path="url(#cE)"/>
<polygon points="320.6,337.9 321.3,331.5 322.3,324.1 323.0,317.9 324.0,313.1 324.6,312.7 325.2,312.5 325.9,312.5 326.7,312.8 327.5,312.4 328.2,312.3 328.8,311.9 329.5,311.7 330.1,311.2 330.8,310.8 331.4,310.2 332.0,310.1 332.5,309.2 333.3,309.3 333.9,308.9 334.5,308.5 335.1,307.7 335.7,305.9 336.4,304.0 337.0,301.8 337.6,298.6 338.3,294.5 339.0,289.4 339.6,284.2 340.2,280.1 340.9,276.2 341.5,273.8 342.5,272.4 343.1,271.9 343.8,273.9 344.5,277.8 345.2,283.5 345.9,288.3 346.7,293.1 347.5,296.4 348.2,298.9 349.0,300.9 349.9,302.5 350.5,303.6 351.1,303.5 351.7,304.2 352.4,304.7 353.1,305.3 353.8,305.4 354.4,306.2 354.9,307.1 355.5,307.5 356.1,308.4 356.7,309.5 357.4,309.7 358.0,310.4 358.7,310.6 359.3,310.7 359.8,310.3 360.5,310.0 361.1,310.1 361.7,309.5 362.3,309.0 362.9,308.3 363.6,308.0 364.1,307.9 364.7,307.7 365.4,308.0 366.0,308.7 366.6,308.8 367.2,309.4 367.8,310.5 368.4,310.9 369.0,311.2 369.6,311.9 370.2,312.5 370.8,312.6 371.4,313.1 372.0,313.8 372.7,314.2 373.3,314.4 373.9,314.9 374.5,314.9 375.1,315.1 375.7,315.6 376.4,315.6 377.0,316.0 377.6,315.8 378.3,315.9 378.9,315.9 379.5,316.1 380.1,315.7 380.8,315.6 381.4,315.4 382.0,315.2 382.6,314.8 383.2,314.6 383.8,314.7 384.4,314.3 385.1,314.1 385.8,313.5 386.5,313.4 387.1,313.1 387.7,313.2 388.4,312.7 389.1,312.3 389.7,311.8 390.4,311.5 391.0,311.1 391.7,310.7 392.3,310.7 392.9,310.1 393.6,309.4 394.2,309.0 394.9,308.5 395.5,308.7 396.2,308.4 396.9,309.0 397.5,309.6 398.1,310.4 398.8,310.7 399.5,311.7 400.2,312.5 400.8,312.8 401.4,313.8 402.0,314.0 402.6,314.8 403.2,315.1 403.8,315.2 404.5,315.7 405.1,315.8 405.7,315.8 406.3,315.8 407.0,315.9 407.6,315.4 408.2,315.3 408.9,315.1 409.5,314.9 410.1,314.4 410.7,314.5 411.3,314.0 411.9,313.9 412.6,313.5 413.2,312.9 413.8,312.7 414.4,312.7 415.0,313.0 415.6,313.0 416.2,313.4 416.8,314.2 417.4,314.5 418.1,315.1 418.7,315.8 419.3,316.2 419.9,316.6 420.5,316.9 421.1,317.6 421.8,317.9 422.4,318.3 423.0,318.6 423.7,318.5 424.3,318.9 424.9,319.2 425.5,319.0 426.1,319.4 426.7,319.5 427.4,319.7 428.0,319.8 428.6,319.4 429.2,319.7 429.8,319.4 430.4,319.6 431.0,319.6 431.7,319.4 432.3,319.5 432.9,319.4 433.5,319.4 434.1,319.2 434.7,319.0 435.4,318.9 436.1,318.6 436.8,318.1 437.5,318.0 438.1,317.4 438.7,317.0 439.6,316.7 440.4,316.4 441.1,315.9 441.6,315.9 441.6,325.9 441.1,325.9 440.4,326.5 439.6,326.8 438.7,327.1 438.1,327.5 437.5,328.2 436.8,328.2 436.1,328.8 435.4,329.1 434.7,329.2 434.1,329.5 433.5,329.7 432.9,329.8 432.3,329.9 431.7,329.8 431.0,330.0 430.4,330.1 429.8,329.9 429.2,330.2 428.6,330.0 428.0,330.3 427.4,330.3 426.7,330.1 426.1,330.0 425.5,329.6 424.9,329.9 424.3,329.6 423.7,329.2 423.0,329.4 422.4,329.1 421.8,328.7 421.1,328.5 420.5,327.8 419.9,327.5 419.3,327.1 418.7,326.7 418.1,326.1 417.4,325.4 416.8,325.2 416.2,324.5 415.6,324.1 415.0,324.1 414.4,323.8 413.8,323.9 413.2,324.1 412.6,324.7 411.9,325.1 411.3,325.2 410.7,325.8 410.1,325.7 409.5,326.2 408.9,326.4 408.2,326.6 407.6,326.7 407.0,327.3 406.3,327.2 405.7,327.2 405.1,327.3 404.5,327.2 403.8,326.7 403.2,326.6 402.6,326.3 402.0,325.6 401.4,325.4 400.8,324.5 400.2,324.2 399.5,323.4 398.8,322.5 398.1,322.2 397.5,321.3 396.9,320.8 396.2,320.2 395.5,320.6 394.9,320.3 394.2,320.9 393.6,321.3 392.9,322.1 392.3,322.6 391.7,322.7 391.0,323.1 390.4,323.5 389.7,323.9 389.1,324.5 388.4,324.9 387.7,325.4 387.1,325.3 386.5,325.7 385.8,325.8 385.1,326.4 384.4,326.6 383.8,327.0 383.2,327.0 382.6,327.2 382.0,327.6 381.4,327.8 380.8,328.0 380.1,328.2 379.5,328.6 378.9,328.4 378.3,328.5 377.6,328.3 377.0,328.6 376.4,328.2 375.7,328.3 375.1,327.8 374.5,327.6 373.9,327.6 373.3,327.2 372.7,327.0 372.0,326.6 371.4,326.0 370.8,325.4 370.2,325.4 369.6,324.8 369.0,324.1 368.4,323.9 367.8,323.5 367.2,322.4 366.6,321.9 366.0,321.7 365.4,321.1 364.7,320.8 364.1,321.0 363.6,321.1 362.9,321.5 362.3,322.2 361.7,322.7 361.1,323.4 360.5,323.2 359.8,323.6 359.3,324.0 358.7,324.0 358.0,323.8 357.4,323.1 356.7,323.0 356.1,321.8 355.5,320.9 354.9,320.6 354.4,319.7 353.8,319.0 353.1,318.9 352.4,318.3 351.7,317.8 351.1,317.2 350.5,317.3 349.9,316.2 349.0,314.6 348.2,312.7 347.5,310.2 346.7,306.9 345.9,302.1 345.2,297.3 344.5,291.7 343.8,287.8 343.1,285.9 342.5,286.4 341.5,287.7 340.9,289.9 340.2,293.7 339.6,297.7 339.0,302.8 338.3,307.7 337.6,311.7 337.0,314.8 336.4,316.9 335.7,318.7 335.1,320.4 334.5,321.1 333.9,321.4 333.3,321.7 332.5,321.5 332.0,322.2 331.4,322.2 330.8,322.7 330.1,323.0 329.5,323.4 328.8,323.4 328.2,323.7 327.5,323.8 326.7,324.0 325.9,323.5 325.2,323.5 324.6,323.5 324.0,323.8 323.0,328.4 322.3,334.6 321.3,341.8 320.6,348.0" fill="rgba(235,235,70,0.28)" stroke="none" clip-path="url(#cE)"/>
<polyline points="320.1,338.2 320.6,336.0 321.4,328.9 322.3,320.7 323.1,314.5 324.0,310.8 324.9,310.3 325.7,311.1 326.5,311.7 327.4,312.5 328.0,312.3 328.6,312.2 329.3,311.8 330.0,311.4 330.6,310.9 331.2,310.8 331.9,310.8 332.5,310.4 333.1,310.2 333.8,309.4 334.5,308.6 335.1,307.4 335.8,304.8 336.4,302.3 337.0,299.2 337.6,297.0 338.5,292.4 339.3,288.2 340.5,273.2 341.5,265.2 342.5,261.7 343.5,264.4 344.1,267.8 344.8,271.8 345.6,277.7 346.5,284.0 347.3,290.4 348.2,296.1 348.8,299.0 349.5,301.3 350.2,303.9 350.9,305.5 351.5,306.5 352.1,306.3 352.7,306.8 353.3,306.5 354.0,307.0 354.6,307.7 355.2,308.4 355.9,309.9 356.5,310.5 357.2,311.1 357.8,311.1 358.4,310.8 359.0,310.0 359.6,308.9 360.3,307.4 360.9,306.2 361.5,304.8 362.1,303.9 362.8,302.7 363.4,301.9 364.1,300.8 364.7,300.0 365.3,299.3 366.0,299.8 366.6,300.7 367.3,301.5 367.9,302.9 368.5,304.0 369.1,304.8 369.7,306.5 370.3,307.6 371.0,308.3 371.6,309.6 372.3,310.2 372.9,311.0 373.6,311.7 374.3,312.2 375.0,312.9 375.7,313.7 376.4,314.8 377.1,315.4 377.8,315.9 378.5,316.5 379.2,316.1 379.9,316.0 380.6,315.0 381.3,314.3 382.0,313.4 382.7,313.1 383.4,312.1 384.0,311.6 384.7,310.9 385.4,310.6 386.0,310.0 386.6,309.0 387.2,308.5 387.8,308.0 388.4,307.2 389.0,306.3 389.7,305.5 390.3,304.7 390.9,303.9 391.5,303.4 392.3,302.9 392.9,303.5 393.5,303.3 394.1,303.6 394.8,304.0 395.4,304.5 396.1,304.9 396.7,305.0 397.2,305.4 398.0,306.2 398.7,306.9 399.3,308.0 400.0,309.1 400.6,309.9 401.2,310.3 401.8,310.7 402.4,311.4 403.2,312.1 403.7,313.3 404.4,314.5 405.0,316.1 405.7,317.2 406.3,318.7 407.0,320.1 407.6,321.2 408.1,321.9 409.0,322.0 409.7,321.1 410.3,320.5 411.0,319.7 411.6,318.9 412.1,318.1 412.7,317.5 413.3,316.8 414.0,317.1 414.5,317.6 415.1,317.7 415.7,318.5 416.3,319.3 417.0,319.6 417.6,320.8 418.3,321.3 418.9,321.5 419.5,321.8 420.1,322.2 420.8,322.7 421.4,323.0 422.0,322.9 422.7,323.5 423.3,323.4 423.9,323.7 424.5,323.8 425.1,324.6 425.7,324.5 426.4,325.3 427.0,325.4 427.6,325.7 428.2,326.0 428.8,326.1 429.4,326.6 430.0,326.9 430.6,326.9 431.2,326.9 431.9,326.7 432.5,327.1 433.1,326.8 433.7,327.0 434.3,326.4 435.0,326.3 435.7,326.1 436.3,325.2 437.0,325.0 437.6,324.2 438.2,323.8 438.7,323.5 439.6,323.4 440.5,322.8 441.1,322.1 441.6,321.6" fill="none" stroke="#3b1c6e" stroke-width="1.3" stroke-linejoin="round" clip-path="url(#cE)"/>
<polyline points="320.1,336.1 320.6,334.1 321.4,326.8 322.3,319.1 323.1,314.1 324.0,310.5 324.5,310.2 325.1,310.5 325.7,310.7 326.4,311.3 327.0,311.5 327.6,311.2 328.2,311.2 328.8,310.8 329.4,310.8 330.0,310.4 330.7,310.3 331.3,309.7 331.9,309.9 332.5,309.3 333.1,309.7 333.8,309.6 334.5,309.3 335.1,308.3 335.8,306.5 336.4,303.8 337.0,300.9 337.6,298.2 338.5,293.7 339.3,289.3 340.5,275.2 341.5,267.2 342.5,263.9 343.5,266.0 344.1,268.9 344.8,273.2 345.6,278.8 346.5,285.0 347.1,288.8 347.7,292.9 348.5,295.9 349.0,297.0 349.6,298.7 350.2,300.0 350.9,301.1 351.6,302.0 352.2,303.0 352.8,303.5 353.5,304.4 354.1,304.5 354.7,304.7 355.3,305.1 356.0,305.5 356.6,305.9 357.2,306.4 357.9,307.5 358.5,308.0 359.1,308.2 359.7,308.4 360.5,308.0 361.1,306.9 361.8,305.7 362.5,305.2 363.1,304.7 363.8,303.8 364.5,303.4 365.1,302.7 365.7,302.8 366.5,302.8 367.2,304.1 368.0,305.0 368.6,306.0 369.2,306.4 369.9,307.7 370.6,308.3 371.2,309.2 371.8,310.1 372.5,310.2 373.1,311.0 373.8,311.7 374.5,312.4 375.2,313.0 375.9,314.3 376.6,315.0 377.2,315.5 377.9,316.0 378.5,316.5 379.2,316.1 379.8,315.8 380.4,315.8 380.9,314.9 381.5,314.5 382.2,314.3 382.9,313.9 383.7,313.0 384.4,312.2 385.0,311.6 385.6,311.2 386.3,310.4 386.9,309.1 387.5,308.7 388.2,307.5 388.8,306.7 389.5,305.6 390.3,304.7 390.9,303.5 391.5,301.5 392.2,300.0 392.9,298.2 393.6,297.4 394.3,296.3 394.9,296.4 395.5,297.3 396.1,297.7 396.7,299.0 397.3,300.0 398.0,300.9 398.6,301.5 399.2,302.7 399.8,303.6 400.4,304.1 401.1,304.7 401.7,305.6 402.3,306.4 402.9,307.4 403.5,307.7 404.1,308.3 404.8,309.0 405.5,309.9 406.1,310.5 406.7,310.7 407.4,311.3 408.1,311.6 408.7,311.5 409.3,311.2 409.9,311.1 410.5,311.3 411.1,310.9 411.7,310.5 412.4,310.6 413.0,310.3 413.6,310.9 414.2,310.7 414.9,310.9 415.5,311.2 416.1,311.1 416.8,311.8 417.4,311.9 418.0,312.3 418.6,313.0 419.2,313.0 419.8,313.6 420.5,314.4 421.1,314.7 421.7,315.2 422.3,315.9 422.9,316.2 423.5,317.1 424.1,317.7 424.7,317.6 425.3,318.4 426.0,319.1 426.6,319.3 427.2,320.1 427.8,320.3 428.4,320.5 429.0,321.2 429.7,321.6 430.3,321.8 430.9,322.3 431.6,322.7 432.2,322.7 432.8,322.9 433.4,323.2 434.1,323.1 434.7,323.0 435.3,323.2 435.9,322.6 436.5,322.8 437.1,322.3 437.7,322.4 438.5,321.9 439.2,321.6 440.0,321.4 440.6,321.0 441.2,320.7 441.6,320.1" fill="none" stroke="#2a8a82" stroke-width="1.2" stroke-linejoin="round" clip-path="url(#cE)"/>
<polyline points="320.6,343.0 321.3,336.6 322.3,329.3 323.0,323.2 324.0,318.4 324.6,318.1 325.2,318.0 325.9,318.0 326.7,318.4 327.5,318.1 328.2,318.0 328.8,317.6 329.5,317.6 330.1,317.1 330.8,316.7 331.4,316.2 332.0,316.1 332.5,315.3 333.3,315.5 333.9,315.2 334.5,314.8 335.1,314.1 335.7,312.3 336.4,310.5 337.0,308.3 337.6,305.1 338.3,301.1 339.0,296.1 339.6,291.0 340.2,286.9 340.9,283.0 341.5,280.8 342.5,279.4 343.1,278.9 343.8,280.9 344.5,284.8 345.2,290.4 345.9,295.2 346.7,300.0 347.5,303.3 348.2,305.8 349.0,307.8 349.9,309.3 350.5,310.4 351.1,310.3 351.7,311.0 352.4,311.5 353.1,312.1 353.8,312.2 354.4,313.0 354.9,313.8 355.5,314.2 356.1,315.1 356.7,316.3 357.4,316.4 358.0,317.1 358.7,317.3 359.3,317.3 359.8,316.9 360.5,316.6 361.1,316.7 361.7,316.1 362.3,315.6 362.9,314.9 363.6,314.5 364.1,314.5 364.7,314.2 365.4,314.5 366.0,315.2 366.6,315.4 367.2,315.9 367.8,317.0 368.4,317.4 369.0,317.6 369.6,318.3 370.2,318.9 370.8,319.0 371.4,319.6 372.0,320.2 372.7,320.6 373.3,320.8 373.9,321.3 374.5,321.3 375.1,321.5 375.7,322.0 376.4,321.9 377.0,322.3 377.6,322.1 378.3,322.2 378.9,322.1 379.5,322.3 380.1,322.0 380.8,321.8 381.4,321.6 382.0,321.4 382.6,321.0 383.2,320.8 383.8,320.8 384.4,320.4 385.1,320.3 385.8,319.7 386.5,319.6 387.1,319.2 387.7,319.3 388.4,318.8 389.1,318.4 389.7,317.8 390.4,317.5 391.0,317.1 391.7,316.7 392.3,316.7 392.9,316.1 393.6,315.3 394.2,314.9 394.9,314.4 395.5,314.6 396.2,314.3 396.9,314.9 397.5,315.4 398.1,316.3 398.8,316.6 399.5,317.6 400.2,318.3 400.8,318.6 401.4,319.6 402.0,319.8 402.6,320.5 403.2,320.8 403.8,321.0 404.5,321.5 405.1,321.5 405.7,321.5 406.3,321.5 407.0,321.6 407.6,321.0 408.2,321.0 408.9,320.7 409.5,320.6 410.1,320.1 410.7,320.2 411.3,319.6 411.9,319.5 412.6,319.1 413.2,318.5 413.8,318.3 414.4,318.2 415.0,318.5 415.6,318.6 416.2,318.9 416.8,319.7 417.4,319.9 418.1,320.6 418.7,321.2 419.3,321.7 419.9,322.0 420.5,322.4 421.1,323.0 421.8,323.3 422.4,323.7 423.0,324.0 423.7,323.8 424.3,324.2 424.9,324.6 425.5,324.3 426.1,324.7 426.7,324.8 427.4,325.0 428.0,325.0 428.6,324.7 429.2,325.0 429.8,324.7 430.4,324.8 431.0,324.8 431.7,324.6 432.3,324.7 432.9,324.6 433.5,324.6 434.1,324.3 434.7,324.1 435.4,324.0 436.1,323.7 436.8,323.2 437.5,323.1 438.1,322.5 438.7,322.1 439.6,321.8 440.4,321.4 441.1,320.9 441.6,320.9" fill="none" stroke="#e8e82a" stroke-width="1.1" stroke-linejoin="round" clip-path="url(#cE)"/>
<rect x="319.5" y="213.5" width="122.0" height="139.0" fill="none" stroke="#8c8c8c" stroke-width="0.85"/>
<text x="311.30" y="355.80" font-size="7.9" text-anchor="end" font-family='"Liberation Sans", sans-serif' fill="#222" >0.03</text>
<text x="311.30" y="309.70" font-size="7.9" text-anchor="end" font-family='"Liberation Sans", sans-serif' fill="#222" >0.08</text>
<text x="311.30" y="263.60" font-size="7.9" text-anchor="end" font-family='"Liberation Sans", sans-serif' fill="#222" >0.13</text>
<text x="318.70" y="362.50" font-size="7.9" text-anchor="middle" font-family='"Liberation Sans", sans-serif' fill="#222" >0</text>
<text x="371.30" y="362.50" font-size="7.9" text-anchor="middle" font-family='"Liberation Sans", sans-serif' fill="#222" >20</text>
<text x="425.70" y="362.50" font-size="7.9" text-anchor="middle" font-family='"Liberation Sans", sans-serif' fill="#222" >40</text>
<rect x="378.7" y="214.7" width="59.7" height="23.7" fill="#fff" fill-opacity="0.85" stroke="#e6e6e6" stroke-width="0.5" rx="1"/>
<line x1="379.7" y1="219.5" x2="391" y2="219.5" stroke="#3b1c6e" stroke-width="1.4"/>
<text x="394.60" y="222.40" font-size="8.6" text-anchor="start" font-family='"Liberation Serif", serif' fill="#111" >FRONTAL</text>
<line x1="379.7" y1="226.6" x2="391" y2="226.6" stroke="#2a8a82" stroke-width="1.4"/>
<text x="394.60" y="229.50" font-size="8.6" text-anchor="start" font-family='"Liberation Serif", serif' fill="#111" >CENTRAL</text>
<line x1="379.7" y1="233.7" x2="391" y2="233.7" stroke="#e8e82a" stroke-width="1.4"/>
<text x="394.60" y="236.60" font-size="8.6" text-anchor="start" font-family='"Liberation Serif", serif' fill="#111" >OCCIPITAL</text>
<text transform="translate(380.75 373.40) rotate(0) scale(0.93 1)" x="0" y="0" font-size="11.3" text-anchor="middle" font-family='"Liberation Serif", serif' fill="#111" >FREQUENCY (HZ)</text>
<text transform="translate(18.90 98.30) rotate(-90) scale(0.935 1)" x="0" y="0" font-size="14.0" text-anchor="middle" font-family='"Liberation Serif", serif' fill="#111" >STN-CORTEX COH</text>
<text transform="translate(18.90 284.30) rotate(-90) scale(0.935 1)" x="0" y="0" font-size="14.0" text-anchor="middle" font-family='"Liberation Serif", serif' fill="#111" >GPI-CORTEX COH</text>
<polygon points="267.6,101.1 287.4,101.1 287.4,96 294.6,103.3 287.4,110.6 287.4,105.6 267.6,105.6" fill="#fff" stroke="#111" stroke-width="1.0" stroke-linejoin="miter"/>
<polygon points="267.7,287.6 287.6,287.6 287.6,282.4 295.5,289.85 287.6,297.3 287.6,292.2 267.7,292.2" fill="#fff" stroke="#111" stroke-width="1.0" stroke-linejoin="miter"/>
</svg>
</body></html>
